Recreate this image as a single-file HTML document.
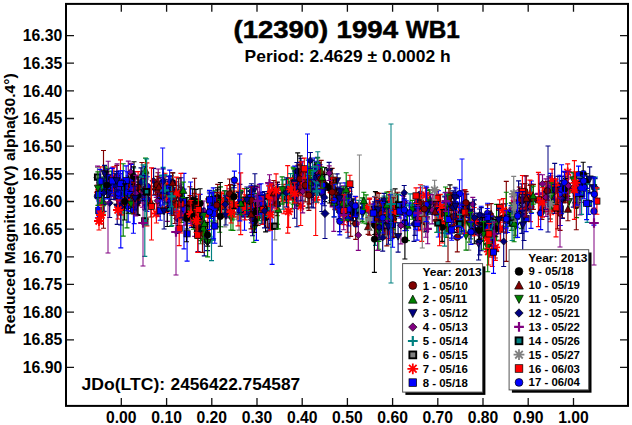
<!DOCTYPE html>
<html><head><meta charset="utf-8"><style>
html,body{margin:0;padding:0;background:#fff;width:632px;height:425px;overflow:hidden}
svg{display:block}
</style></head><body>
<svg width="632" height="425" viewBox="0 0 632 425">
<rect width="632" height="425" fill="#fff"/>
<g><path d="M103.8 181.0V201.4M101.3 181.0h5M101.3 201.4h5" stroke="#800080" stroke-width="1.15" fill="none"/>
<path d="M103.8 186.8L107.3 190.3L103.8 193.8L100.3 190.3Z" fill="#800080" stroke="#000" stroke-width="0.7"/>
<path d="M182.6 202.5V220.1M180.1 202.5h5M180.1 220.1h5" stroke="#000080" stroke-width="1.15" fill="none"/>
<path d="M182.6 208.4L186.1 211.9L182.6 215.4L179.1 211.9Z" fill="#000080" stroke="#000" stroke-width="0.7"/>
<path d="M102.6 178.6V194.0M100.1 178.6h5M100.1 194.0h5" stroke="#808080" stroke-width="1.15" fill="none"/>
<path d="M97.9 185.8L107.3 185.8M99.3 182.4L105.9 189.1M102.6 181.1L102.6 190.5M105.9 182.4L99.3 189.1" stroke="#808080" stroke-width="1.8" fill="none"/>
<path d="M491.1 213.5V229.2M488.6 213.5h5M488.6 229.2h5" stroke="#800000" stroke-width="1.15" fill="none"/>
<circle cx="491.1" cy="220.7" r="3.2" fill="#800000" stroke="#000" stroke-width="0.7"/>
<path d="M302.6 175.1V200.2M300.1 175.1h5M300.1 200.2h5" stroke="#008080" stroke-width="1.15" fill="none"/>
<path d="M298.4 186.2H306.8M302.6 182.0V190.4" stroke="#008080" stroke-width="2.2" fill="none"/>
<path d="M249.4 191.1V203.7M246.9 191.1h5M246.9 203.7h5" stroke="#000080" stroke-width="1.15" fill="none"/>
<path d="M249.4 201.1L253.0 194.4L245.8 194.4Z" fill="#000080" stroke="#000" stroke-width="0.7"/>
<path d="M580.0 178.4V214.8M577.5 178.4h5M577.5 214.8h5" stroke="#800080" stroke-width="1.15" fill="none"/>
<path d="M580.0 193.8L583.5 197.3L580.0 200.8L576.5 197.3Z" fill="#800080" stroke="#000" stroke-width="0.7"/>
<path d="M530.5 184.5V204.7M528.0 184.5h5M528.0 204.7h5" stroke="#008000" stroke-width="1.15" fill="none"/>
<path d="M530.5 190.6L534.1 197.3L526.9 197.3Z" fill="#008000" stroke="#000" stroke-width="0.7"/>
<path d="M456.6 206.2V232.3M454.1 206.2h5M454.1 232.3h5" stroke="#000000" stroke-width="1.15" fill="none"/>
<circle cx="456.6" cy="220.2" r="3.2" fill="#000000" stroke="#000" stroke-width="0.7"/>
<path d="M98.8 200.8V220.7M96.3 200.8h5M96.3 220.7h5" stroke="#0000ff" stroke-width="1.15" fill="none"/>
<rect x="95.7" y="207.6" width="6.2" height="6.2" fill="#0000ff" stroke="#000" stroke-width="0.7"/>
<path d="M100.2 166.9V201.0M97.7 166.9h5M97.7 201.0h5" stroke="#ff0000" stroke-width="1.15" fill="none"/>
<path d="M95.5 185.5L104.9 185.5M96.8 182.1L103.5 188.8M100.2 180.8L100.2 190.2M103.5 182.1L96.8 188.8" stroke="#ff0000" stroke-width="1.8" fill="none"/>
<path d="M146.9 188.8V211.3M144.4 188.8h5M144.4 211.3h5" stroke="#0000ff" stroke-width="1.15" fill="none"/>
<rect x="143.8" y="196.9" width="6.2" height="6.2" fill="#0000ff" stroke="#000" stroke-width="0.7"/>
<path d="M415.0 203.5V235.4M412.5 203.5h5M412.5 235.4h5" stroke="#000080" stroke-width="1.15" fill="none"/>
<path d="M415.0 223.0L418.6 216.3L411.4 216.3Z" fill="#000080" stroke="#000" stroke-width="0.7"/>
<path d="M461.7 193.9V231.5M459.2 193.9h5M459.2 231.5h5" stroke="#0000ff" stroke-width="1.15" fill="none"/>
<circle cx="461.7" cy="213.7" r="3.2" fill="#0000ff" stroke="#000" stroke-width="0.7"/>
<path d="M530.4 192.7V221.6M527.9 192.7h5M527.9 221.6h5" stroke="#ff0000" stroke-width="1.15" fill="none"/>
<rect x="527.3" y="202.5" width="6.2" height="6.2" fill="#ff0000" stroke="#000" stroke-width="0.7"/>
<path d="M557.8 176.4V199.9M555.3 176.4h5M555.3 199.9h5" stroke="#000080" stroke-width="1.15" fill="none"/>
<path d="M557.8 191.8L561.4 185.1L554.2 185.1Z" fill="#000080" stroke="#000" stroke-width="0.7"/>
<path d="M518.6 180.8V212.3M516.1 180.8h5M516.1 212.3h5" stroke="#000080" stroke-width="1.15" fill="none"/>
<path d="M518.6 191.2L522.1 194.7L518.6 198.2L515.1 194.7Z" fill="#000080" stroke="#000" stroke-width="0.7"/>
<path d="M450.0 184.8V206.3M447.5 184.8h5M447.5 206.3h5" stroke="#000000" stroke-width="1.15" fill="none"/>
<circle cx="450.0" cy="196.3" r="3.2" fill="#000000" stroke="#000" stroke-width="0.7"/>
<path d="M474.3 213.9V234.3M471.8 213.9h5M471.8 234.3h5" stroke="#000080" stroke-width="1.15" fill="none"/>
<path d="M474.3 220.8L477.8 224.3L474.3 227.8L470.8 224.3Z" fill="#000080" stroke="#000" stroke-width="0.7"/>
<path d="M369.6 208.7V235.2M367.1 208.7h5M367.1 235.2h5" stroke="#800000" stroke-width="1.15" fill="none"/>
<path d="M369.6 218.1L373.2 224.8L366.0 224.8Z" fill="#800000" stroke="#000" stroke-width="0.7"/>
<path d="M521.3 196.5V228.6M518.8 196.5h5M518.8 228.6h5" stroke="#008000" stroke-width="1.15" fill="none"/>
<path d="M521.3 209.8L524.9 216.5L517.7 216.5Z" fill="#008000" stroke="#000" stroke-width="0.7"/>
<path d="M232.0 187.2V209.7M229.5 187.2h5M229.5 209.7h5" stroke="#008000" stroke-width="1.15" fill="none"/>
<path d="M232.0 201.8L235.6 195.1L228.4 195.1Z" fill="#008000" stroke="#000" stroke-width="0.7"/>
<path d="M581.5 177.8V202.3M579.0 177.8h5M579.0 202.3h5" stroke="#800080" stroke-width="1.15" fill="none"/>
<path d="M581.5 185.3L585.0 188.8L581.5 192.3L578.0 188.8Z" fill="#800080" stroke="#000" stroke-width="0.7"/>
<path d="M543.0 187.0V212.9M540.5 187.0h5M540.5 212.9h5" stroke="#008000" stroke-width="1.15" fill="none"/>
<path d="M543.0 203.7L546.6 197.0L539.4 197.0Z" fill="#008000" stroke="#000" stroke-width="0.7"/>
<path d="M386.3 202.3V219.3M383.8 202.3h5M383.8 219.3h5" stroke="#0000ff" stroke-width="1.15" fill="none"/>
<circle cx="386.3" cy="210.7" r="3.2" fill="#0000ff" stroke="#000" stroke-width="0.7"/>
<path d="M383.1 204.1V227.9M380.6 204.1h5M380.6 227.9h5" stroke="#008000" stroke-width="1.15" fill="none"/>
<path d="M383.1 212.7L386.7 219.4L379.5 219.4Z" fill="#008000" stroke="#000" stroke-width="0.7"/>
<path d="M127.0 189.2V227.9M124.5 189.2h5M124.5 227.9h5" stroke="#008000" stroke-width="1.15" fill="none"/>
<path d="M127.0 211.4L130.6 204.7L123.4 204.7Z" fill="#008000" stroke="#000" stroke-width="0.7"/>
<path d="M505.5 203.7V233.2M503.0 203.7h5M503.0 233.2h5" stroke="#0000ff" stroke-width="1.15" fill="none"/>
<circle cx="505.5" cy="218.9" r="3.2" fill="#0000ff" stroke="#000" stroke-width="0.7"/>
<path d="M207.8 199.1V230.3M205.3 199.1h5M205.3 230.3h5" stroke="#ff0000" stroke-width="1.15" fill="none"/>
<rect x="204.7" y="211.0" width="6.2" height="6.2" fill="#ff0000" stroke="#000" stroke-width="0.7"/>
<path d="M382.4 200.2V213.4M379.9 200.2h5M379.9 213.4h5" stroke="#0000ff" stroke-width="1.15" fill="none"/>
<circle cx="382.4" cy="206.4" r="3.2" fill="#0000ff" stroke="#000" stroke-width="0.7"/>
<path d="M350.7 201.4V236.3M348.2 201.4h5M348.2 236.3h5" stroke="#800000" stroke-width="1.15" fill="none"/>
<circle cx="350.7" cy="216.7" r="3.2" fill="#800000" stroke="#000" stroke-width="0.7"/>
<path d="M200.5 217.8V240.6M198.0 217.8h5M198.0 240.6h5" stroke="#008000" stroke-width="1.15" fill="none"/>
<path d="M200.5 225.9L204.1 232.6L196.9 232.6Z" fill="#008000" stroke="#000" stroke-width="0.7"/>
<path d="M451.3 192.7V217.7M448.8 192.7h5M448.8 217.7h5" stroke="#800000" stroke-width="1.15" fill="none"/>
<circle cx="451.3" cy="204.3" r="3.2" fill="#800000" stroke="#000" stroke-width="0.7"/>
<path d="M258.9 194.0V213.2M256.4 194.0h5M256.4 213.2h5" stroke="#800000" stroke-width="1.15" fill="none"/>
<circle cx="258.9" cy="204.2" r="3.2" fill="#800000" stroke="#000" stroke-width="0.7"/>
<path d="M576.6 175.4V217.6M574.1 175.4h5M574.1 217.6h5" stroke="#008000" stroke-width="1.15" fill="none"/>
<path d="M576.6 202.5L580.2 195.8L573.0 195.8Z" fill="#008000" stroke="#000" stroke-width="0.7"/>
<path d="M341.2 188.4V210.8M338.7 188.4h5M338.7 210.8h5" stroke="#0000ff" stroke-width="1.15" fill="none"/>
<rect x="338.1" y="196.8" width="6.2" height="6.2" fill="#0000ff" stroke="#000" stroke-width="0.7"/>
<path d="M550.8 175.9V204.8M548.3 175.9h5M548.3 204.8h5" stroke="#000080" stroke-width="1.15" fill="none"/>
<path d="M550.8 193.3L554.4 186.6L547.2 186.6Z" fill="#000080" stroke="#000" stroke-width="0.7"/>
<path d="M293.2 167.0V190.4M290.7 167.0h5M290.7 190.4h5" stroke="#008000" stroke-width="1.15" fill="none"/>
<path d="M293.2 175.4L296.8 182.1L289.6 182.1Z" fill="#008000" stroke="#000" stroke-width="0.7"/>
<path d="M298.8 172.4V203.3M296.3 172.4h5M296.3 203.3h5" stroke="#800080" stroke-width="1.15" fill="none"/>
<path d="M298.8 183.8L302.3 187.3L298.8 190.8L295.3 187.3Z" fill="#800080" stroke="#000" stroke-width="0.7"/>
<path d="M444.5 196.0V225.3M442.0 196.0h5M442.0 225.3h5" stroke="#008080" stroke-width="1.15" fill="none"/>
<rect x="441.8" y="207.2" width="5.4" height="5.4" fill="#008080" stroke="#000" stroke-width="1.9"/>
<path d="M445.1 192.6V227.3M442.6 192.6h5M442.6 227.3h5" stroke="#0000ff" stroke-width="1.15" fill="none"/>
<circle cx="445.1" cy="211.0" r="3.2" fill="#0000ff" stroke="#000" stroke-width="0.7"/>
<path d="M137.7 187.9V214.5M135.2 187.9h5M135.2 214.5h5" stroke="#800000" stroke-width="1.15" fill="none"/>
<circle cx="137.7" cy="201.8" r="3.2" fill="#800000" stroke="#000" stroke-width="0.7"/>
<path d="M277.2 189.9V215.6M274.7 189.9h5M274.7 215.6h5" stroke="#800000" stroke-width="1.15" fill="none"/>
<path d="M277.2 199.6L280.8 206.3L273.6 206.3Z" fill="#800000" stroke="#000" stroke-width="0.7"/>
<path d="M189.9 186.7V222.0M187.4 186.7h5M187.4 222.0h5" stroke="#800000" stroke-width="1.15" fill="none"/>
<circle cx="189.9" cy="204.6" r="3.2" fill="#800000" stroke="#000" stroke-width="0.7"/>
<path d="M116.8 165.3V187.6M114.3 165.3h5M114.3 187.6h5" stroke="#800000" stroke-width="1.15" fill="none"/>
<circle cx="116.8" cy="176.6" r="3.2" fill="#800000" stroke="#000" stroke-width="0.7"/>
<path d="M146.3 188.4V219.1M143.8 188.4h5M143.8 219.1h5" stroke="#008000" stroke-width="1.15" fill="none"/>
<path d="M146.3 199.2L149.9 205.9L142.7 205.9Z" fill="#008000" stroke="#000" stroke-width="0.7"/>
<path d="M135.1 171.6V206.5M132.6 171.6h5M132.6 206.5h5" stroke="#800080" stroke-width="1.15" fill="none"/>
<path d="M135.1 184.5L138.6 188.0L135.1 191.5L131.6 188.0Z" fill="#800080" stroke="#000" stroke-width="0.7"/>
<path d="M296.9 171.1V195.2M294.4 171.1h5M294.4 195.2h5" stroke="#008000" stroke-width="1.15" fill="none"/>
<path d="M296.9 179.3L300.5 186.0L293.3 186.0Z" fill="#008000" stroke="#000" stroke-width="0.7"/>
<path d="M420.3 205.3V229.6M417.8 205.3h5M417.8 229.6h5" stroke="#000080" stroke-width="1.15" fill="none"/>
<path d="M420.3 221.7L423.9 215.0L416.7 215.0Z" fill="#000080" stroke="#000" stroke-width="0.7"/>
<path d="M519.3 189.9V211.1M516.8 189.9h5M516.8 211.1h5" stroke="#800080" stroke-width="1.15" fill="none"/>
<path d="M515.1 200.3H523.5M519.3 196.1V204.5" stroke="#800080" stroke-width="2.2" fill="none"/>
<path d="M338.1 188.6V203.6M335.6 188.6h5M335.6 203.6h5" stroke="#800000" stroke-width="1.15" fill="none"/>
<circle cx="338.1" cy="195.3" r="3.2" fill="#800000" stroke="#000" stroke-width="0.7"/>
<path d="M414.0 205.3V241.4M411.5 205.3h5M411.5 241.4h5" stroke="#000080" stroke-width="1.15" fill="none"/>
<path d="M414.0 220.4L417.5 223.9L414.0 227.4L410.5 223.9Z" fill="#000080" stroke="#000" stroke-width="0.7"/>
<path d="M158.0 172.7V190.9M155.5 172.7h5M155.5 190.9h5" stroke="#800000" stroke-width="1.15" fill="none"/>
<path d="M158.0 178.6L161.6 185.3L154.4 185.3Z" fill="#800000" stroke="#000" stroke-width="0.7"/>
<path d="M269.8 200.7V227.9M267.3 200.7h5M267.3 227.9h5" stroke="#000080" stroke-width="1.15" fill="none"/>
<path d="M269.8 209.2L273.3 212.7L269.8 216.2L266.3 212.7Z" fill="#000080" stroke="#000" stroke-width="0.7"/>
<path d="M111.0 181.1V199.4M108.5 181.1h5M108.5 199.4h5" stroke="#000080" stroke-width="1.15" fill="none"/>
<path d="M111.0 193.8L114.6 187.1L107.4 187.1Z" fill="#000080" stroke="#000" stroke-width="0.7"/>
<path d="M133.7 168.0V189.8M131.2 168.0h5M131.2 189.8h5" stroke="#008080" stroke-width="1.15" fill="none"/>
<path d="M129.5 178.5H137.9M133.7 174.3V182.7" stroke="#008080" stroke-width="2.2" fill="none"/>
<path d="M337.1 173.9V187.8M334.6 173.9h5M334.6 187.8h5" stroke="#000080" stroke-width="1.15" fill="none"/>
<path d="M337.1 184.4L340.7 177.7L333.5 177.7Z" fill="#000080" stroke="#000" stroke-width="0.7"/>
<path d="M369.3 199.3V222.2M366.8 199.3h5M366.8 222.2h5" stroke="#800080" stroke-width="1.15" fill="none"/>
<path d="M369.3 208.0L372.8 211.5L369.3 215.0L365.8 211.5Z" fill="#800080" stroke="#000" stroke-width="0.7"/>
<path d="M268.9 196.8V219.5M266.4 196.8h5M266.4 219.5h5" stroke="#0000ff" stroke-width="1.15" fill="none"/>
<rect x="265.8" y="204.6" width="6.2" height="6.2" fill="#0000ff" stroke="#000" stroke-width="0.7"/>
<path d="M150.9 186.1V217.0M148.4 186.1h5M148.4 217.0h5" stroke="#800000" stroke-width="1.15" fill="none"/>
<path d="M150.9 198.3L154.5 205.0L147.3 205.0Z" fill="#800000" stroke="#000" stroke-width="0.7"/>
<path d="M128.2 186.3V222.1M125.7 186.3h5M125.7 222.1h5" stroke="#0000ff" stroke-width="1.15" fill="none"/>
<circle cx="128.2" cy="205.9" r="3.2" fill="#0000ff" stroke="#000" stroke-width="0.7"/>
<path d="M333.8 179.5V231.3M331.3 179.5h5M331.3 231.3h5" stroke="#800080" stroke-width="1.15" fill="none"/>
<path d="M329.6 206.3H338.0M333.8 202.1V210.5" stroke="#800080" stroke-width="2.2" fill="none"/>
<path d="M517.6 203.0V218.1M515.1 203.0h5M515.1 218.1h5" stroke="#ff0000" stroke-width="1.15" fill="none"/>
<path d="M512.9 209.9L522.3 209.9M514.2 206.6L520.9 213.2M517.6 205.2L517.6 214.6M520.9 206.6L514.2 213.2" stroke="#ff0000" stroke-width="1.8" fill="none"/>
<path d="M300.9 162.8V182.8M298.4 162.8h5M298.4 182.8h5" stroke="#800080" stroke-width="1.15" fill="none"/>
<path d="M296.7 172.5H305.1M300.9 168.3V176.7" stroke="#800080" stroke-width="2.2" fill="none"/>
<path d="M450.0 192.9V219.2M447.5 192.9h5M447.5 219.2h5" stroke="#800000" stroke-width="1.15" fill="none"/>
<path d="M450.0 203.8L453.6 210.5L446.4 210.5Z" fill="#800000" stroke="#000" stroke-width="0.7"/>
<path d="M304.1 172.6V189.3M301.6 172.6h5M301.6 189.3h5" stroke="#0000ff" stroke-width="1.15" fill="none"/>
<circle cx="304.1" cy="181.7" r="3.2" fill="#0000ff" stroke="#000" stroke-width="0.7"/>
<path d="M127.3 179.7V203.4M124.8 179.7h5M124.8 203.4h5" stroke="#000080" stroke-width="1.15" fill="none"/>
<path d="M127.3 194.0L130.9 187.3L123.7 187.3Z" fill="#000080" stroke="#000" stroke-width="0.7"/>
<path d="M455.6 196.7V210.8M453.1 196.7h5M453.1 210.8h5" stroke="#0000ff" stroke-width="1.15" fill="none"/>
<circle cx="455.6" cy="204.3" r="3.2" fill="#0000ff" stroke="#000" stroke-width="0.7"/>
<path d="M268.0 182.6V230.9M265.5 182.6h5M265.5 230.9h5" stroke="#000080" stroke-width="1.15" fill="none"/>
<path d="M268.0 210.4L271.6 203.7L264.4 203.7Z" fill="#000080" stroke="#000" stroke-width="0.7"/>
<path d="M386.8 219.7V245.9M384.3 219.7h5M384.3 245.9h5" stroke="#800000" stroke-width="1.15" fill="none"/>
<circle cx="386.8" cy="232.6" r="3.2" fill="#800000" stroke="#000" stroke-width="0.7"/>
<path d="M233.0 192.3V230.3M230.5 192.3h5M230.5 230.3h5" stroke="#008000" stroke-width="1.15" fill="none"/>
<path d="M233.0 208.0L236.6 214.7L229.4 214.7Z" fill="#008000" stroke="#000" stroke-width="0.7"/>
<path d="M491.1 203.6V224.9M488.6 203.6h5M488.6 224.9h5" stroke="#800000" stroke-width="1.15" fill="none"/>
<path d="M491.1 210.2L494.7 216.9L487.5 216.9Z" fill="#800000" stroke="#000" stroke-width="0.7"/>
<path d="M558.4 190.2V213.5M555.9 190.2h5M555.9 213.5h5" stroke="#ff0000" stroke-width="1.15" fill="none"/>
<path d="M553.7 200.7L563.1 200.7M555.1 197.3L561.8 204.0M558.4 196.0L558.4 205.4M561.8 197.3L555.1 204.0" stroke="#ff0000" stroke-width="1.8" fill="none"/>
<path d="M300.7 187.6V225.5M298.2 187.6h5M298.2 225.5h5" stroke="#ff0000" stroke-width="1.15" fill="none"/>
<path d="M296.0 206.2L305.4 206.2M297.4 202.9L304.0 209.5M300.7 201.5L300.7 210.9M304.0 202.9L297.4 209.5" stroke="#ff0000" stroke-width="1.8" fill="none"/>
<path d="M200.6 200.7V243.7M198.1 200.7h5M198.1 243.7h5" stroke="#008000" stroke-width="1.15" fill="none"/>
<path d="M200.6 217.9L204.2 224.6L197.0 224.6Z" fill="#008000" stroke="#000" stroke-width="0.7"/>
<path d="M526.1 206.2V231.6M523.6 206.2h5M523.6 231.6h5" stroke="#0000ff" stroke-width="1.15" fill="none"/>
<rect x="523.0" y="215.3" width="6.2" height="6.2" fill="#0000ff" stroke="#000" stroke-width="0.7"/>
<path d="M487.5 203.2V225.1M485.0 203.2h5M485.0 225.1h5" stroke="#0000ff" stroke-width="1.15" fill="none"/>
<circle cx="487.5" cy="213.4" r="3.2" fill="#0000ff" stroke="#000" stroke-width="0.7"/>
<path d="M267.3 196.8V227.3M264.8 196.8h5M264.8 227.3h5" stroke="#800000" stroke-width="1.15" fill="none"/>
<circle cx="267.3" cy="213.6" r="3.2" fill="#800000" stroke="#000" stroke-width="0.7"/>
<path d="M348.6 197.6V225.8M346.1 197.6h5M346.1 225.8h5" stroke="#0000ff" stroke-width="1.15" fill="none"/>
<circle cx="348.6" cy="211.8" r="3.2" fill="#0000ff" stroke="#000" stroke-width="0.7"/>
<path d="M379.1 193.3V210.3M376.6 193.3h5M376.6 210.3h5" stroke="#800000" stroke-width="1.15" fill="none"/>
<path d="M379.1 198.0L382.7 204.7L375.5 204.7Z" fill="#800000" stroke="#000" stroke-width="0.7"/>
<path d="M463.6 193.1V216.3M461.1 193.1h5M461.1 216.3h5" stroke="#0000ff" stroke-width="1.15" fill="none"/>
<circle cx="463.6" cy="204.6" r="3.2" fill="#0000ff" stroke="#000" stroke-width="0.7"/>
<path d="M384.0 214.6V238.7M381.5 214.6h5M381.5 238.7h5" stroke="#800000" stroke-width="1.15" fill="none"/>
<path d="M384.0 223.4L387.6 230.1L380.4 230.1Z" fill="#800000" stroke="#000" stroke-width="0.7"/>
<path d="M446.2 212.3V237.4M443.7 212.3h5M443.7 237.4h5" stroke="#008000" stroke-width="1.15" fill="none"/>
<path d="M446.2 227.8L449.8 221.1L442.6 221.1Z" fill="#008000" stroke="#000" stroke-width="0.7"/>
<path d="M308.0 169.6V207.8M305.5 169.6h5M305.5 207.8h5" stroke="#000000" stroke-width="1.15" fill="none"/>
<circle cx="308.0" cy="186.6" r="3.2" fill="#000000" stroke="#000" stroke-width="0.7"/>
<path d="M458.0 212.1V231.5M455.5 212.1h5M455.5 231.5h5" stroke="#800080" stroke-width="1.15" fill="none"/>
<path d="M458.0 219.1L461.5 222.6L458.0 226.1L454.5 222.6Z" fill="#800080" stroke="#000" stroke-width="0.7"/>
<path d="M293.8 180.7V198.8M291.3 180.7h5M291.3 198.8h5" stroke="#0000ff" stroke-width="1.15" fill="none"/>
<rect x="290.7" y="186.0" width="6.2" height="6.2" fill="#0000ff" stroke="#000" stroke-width="0.7"/>
<path d="M357.3 202.9V224.1M354.8 202.9h5M354.8 224.1h5" stroke="#800080" stroke-width="1.15" fill="none"/>
<path d="M353.1 212.4H361.5M357.3 208.2V216.6" stroke="#800080" stroke-width="2.2" fill="none"/>
<path d="M404.3 205.2V220.6M401.8 205.2h5M401.8 220.6h5" stroke="#0000ff" stroke-width="1.15" fill="none"/>
<rect x="401.2" y="209.0" width="6.2" height="6.2" fill="#0000ff" stroke="#000" stroke-width="0.7"/>
<path d="M546.2 181.6V199.3M543.7 181.6h5M543.7 199.3h5" stroke="#ff0000" stroke-width="1.15" fill="none"/>
<path d="M541.5 190.5L550.9 190.5M542.9 187.2L549.5 193.8M546.2 185.8L546.2 195.2M549.5 187.2L542.9 193.8" stroke="#ff0000" stroke-width="1.8" fill="none"/>
<path d="M446.7 194.1V216.4M444.2 194.1h5M444.2 216.4h5" stroke="#000080" stroke-width="1.15" fill="none"/>
<path d="M446.7 202.1L450.2 205.6L446.7 209.1L443.2 205.6Z" fill="#000080" stroke="#000" stroke-width="0.7"/>
<path d="M392.0 210.7V238.6M389.5 210.7h5M389.5 238.6h5" stroke="#0000ff" stroke-width="1.15" fill="none"/>
<rect x="388.9" y="221.5" width="6.2" height="6.2" fill="#0000ff" stroke="#000" stroke-width="0.7"/>
<path d="M119.1 181.7V214.8M116.6 181.7h5M116.6 214.8h5" stroke="#000000" stroke-width="1.15" fill="none"/>
<circle cx="119.1" cy="199.8" r="3.2" fill="#000000" stroke="#000" stroke-width="0.7"/>
<path d="M111.4 171.1V191.7M108.9 171.1h5M108.9 191.7h5" stroke="#008000" stroke-width="1.15" fill="none"/>
<path d="M111.4 184.5L115.0 177.8L107.8 177.8Z" fill="#008000" stroke="#000" stroke-width="0.7"/>
<path d="M495.4 240.6V258.0M492.9 240.6h5M492.9 258.0h5" stroke="#800000" stroke-width="1.15" fill="none"/>
<path d="M495.4 245.0L499.0 251.7L491.8 251.7Z" fill="#800000" stroke="#000" stroke-width="0.7"/>
<path d="M500.6 217.1V240.3M498.1 217.1h5M498.1 240.3h5" stroke="#000080" stroke-width="1.15" fill="none"/>
<path d="M500.6 232.9L504.2 226.2L497.0 226.2Z" fill="#000080" stroke="#000" stroke-width="0.7"/>
<path d="M181.6 184.0V222.3M179.1 184.0h5M179.1 222.3h5" stroke="#008000" stroke-width="1.15" fill="none"/>
<path d="M181.6 199.6L185.2 206.3L178.0 206.3Z" fill="#008000" stroke="#000" stroke-width="0.7"/>
<path d="M353.1 198.7V223.7M350.6 198.7h5M350.6 223.7h5" stroke="#000000" stroke-width="1.15" fill="none"/>
<circle cx="353.1" cy="212.2" r="3.2" fill="#000000" stroke="#000" stroke-width="0.7"/>
<path d="M163.1 167.3V183.6M160.6 167.3h5M160.6 183.6h5" stroke="#008080" stroke-width="1.15" fill="none"/>
<path d="M158.9 175.7H167.3M163.1 171.5V179.9" stroke="#008080" stroke-width="2.2" fill="none"/>
<path d="M567.7 163.9V182.9M565.2 163.9h5M565.2 182.9h5" stroke="#ff0000" stroke-width="1.15" fill="none"/>
<path d="M563.0 172.2L572.4 172.2M564.3 168.9L571.0 175.6M567.7 167.5L567.7 176.9M571.0 168.9L564.3 175.6" stroke="#ff0000" stroke-width="1.8" fill="none"/>
<path d="M224.8 194.4V226.9M222.3 194.4h5M222.3 226.9h5" stroke="#808080" stroke-width="1.15" fill="none"/>
<path d="M220.1 209.4L229.5 209.4M221.5 206.0L228.1 212.7M224.8 204.7L224.8 214.1M228.1 206.0L221.5 212.7" stroke="#808080" stroke-width="1.8" fill="none"/>
<path d="M531.0 184.0V228.3M528.5 184.0h5M528.5 228.3h5" stroke="#0000ff" stroke-width="1.15" fill="none"/>
<circle cx="531.0" cy="206.8" r="3.2" fill="#0000ff" stroke="#000" stroke-width="0.7"/>
<path d="M170.5 179.8V213.4M168.0 179.8h5M168.0 213.4h5" stroke="#0000ff" stroke-width="1.15" fill="none"/>
<circle cx="170.5" cy="197.2" r="3.2" fill="#0000ff" stroke="#000" stroke-width="0.7"/>
<path d="M481.2 206.2V223.7M478.7 206.2h5M478.7 223.7h5" stroke="#0000ff" stroke-width="1.15" fill="none"/>
<circle cx="481.2" cy="215.9" r="3.2" fill="#0000ff" stroke="#000" stroke-width="0.7"/>
<path d="M121.8 192.2V213.0M119.3 192.2h5M119.3 213.0h5" stroke="#0000ff" stroke-width="1.15" fill="none"/>
<circle cx="121.8" cy="202.9" r="3.2" fill="#0000ff" stroke="#000" stroke-width="0.7"/>
<path d="M406.3 200.9V230.3M403.8 200.9h5M403.8 230.3h5" stroke="#0000ff" stroke-width="1.15" fill="none"/>
<circle cx="406.3" cy="213.8" r="3.2" fill="#0000ff" stroke="#000" stroke-width="0.7"/>
<path d="M407.4 210.9V240.6M404.9 210.9h5M404.9 240.6h5" stroke="#008000" stroke-width="1.15" fill="none"/>
<path d="M407.4 221.6L411.0 228.3L403.8 228.3Z" fill="#008000" stroke="#000" stroke-width="0.7"/>
<path d="M347.3 206.0V232.2M344.8 206.0h5M344.8 232.2h5" stroke="#ff0000" stroke-width="1.15" fill="none"/>
<path d="M342.6 218.3L352.0 218.3M344.0 214.9L350.6 221.6M347.3 213.6L347.3 223.0M350.6 214.9L344.0 221.6" stroke="#ff0000" stroke-width="1.8" fill="none"/>
<path d="M133.2 173.3V189.2M130.7 173.3h5M130.7 189.2h5" stroke="#008080" stroke-width="1.15" fill="none"/>
<path d="M129.0 182.0H137.4M133.2 177.8V186.2" stroke="#008080" stroke-width="2.2" fill="none"/>
<path d="M115.9 178.2V199.8M113.4 178.2h5M113.4 199.8h5" stroke="#800080" stroke-width="1.15" fill="none"/>
<path d="M115.9 185.8L119.4 189.3L115.9 192.8L112.4 189.3Z" fill="#800080" stroke="#000" stroke-width="0.7"/>
<path d="M269.5 174.7V193.1M267.0 174.7h5M267.0 193.1h5" stroke="#800080" stroke-width="1.15" fill="none"/>
<path d="M265.3 183.1H273.7M269.5 178.9V187.3" stroke="#800080" stroke-width="2.2" fill="none"/>
<path d="M251.4 183.7V198.2M248.9 183.7h5M248.9 198.2h5" stroke="#000080" stroke-width="1.15" fill="none"/>
<path d="M251.4 187.4L254.9 190.9L251.4 194.4L247.9 190.9Z" fill="#000080" stroke="#000" stroke-width="0.7"/>
<path d="M491.4 230.7V251.1M488.9 230.7h5M488.9 251.1h5" stroke="#0000ff" stroke-width="1.15" fill="none"/>
<circle cx="491.4" cy="241.0" r="3.2" fill="#0000ff" stroke="#000" stroke-width="0.7"/>
<path d="M291.6 177.7V192.3M289.1 177.7h5M289.1 192.3h5" stroke="#ff0000" stroke-width="1.15" fill="none"/>
<rect x="288.5" y="181.5" width="6.2" height="6.2" fill="#ff0000" stroke="#000" stroke-width="0.7"/>
<path d="M283.8 184.3V213.7M281.3 184.3h5M281.3 213.7h5" stroke="#ff0000" stroke-width="1.15" fill="none"/>
<path d="M279.1 198.5L288.5 198.5M280.4 195.2L287.1 201.8M283.8 193.8L283.8 203.2M287.1 195.2L280.4 201.8" stroke="#ff0000" stroke-width="1.8" fill="none"/>
<path d="M287.7 165.6V233.1M285.2 165.6h5M285.2 233.1h5" stroke="#ff0000" stroke-width="1.15" fill="none"/>
<rect x="284.6" y="193.6" width="6.2" height="6.2" fill="#ff0000" stroke="#000" stroke-width="0.7"/>
<path d="M436.8 211.9V232.3M434.3 211.9h5M434.3 232.3h5" stroke="#008000" stroke-width="1.15" fill="none"/>
<path d="M436.8 226.2L440.4 219.5L433.2 219.5Z" fill="#008000" stroke="#000" stroke-width="0.7"/>
<path d="M442.1 202.3V225.2M439.6 202.3h5M439.6 225.2h5" stroke="#0000ff" stroke-width="1.15" fill="none"/>
<circle cx="442.1" cy="213.3" r="3.2" fill="#0000ff" stroke="#000" stroke-width="0.7"/>
<path d="M128.1 192.5V213.2M125.6 192.5h5M125.6 213.2h5" stroke="#000000" stroke-width="1.15" fill="none"/>
<circle cx="128.1" cy="202.6" r="3.2" fill="#000000" stroke="#000" stroke-width="0.7"/>
<path d="M511.9 203.4V229.2M509.4 203.4h5M509.4 229.2h5" stroke="#808080" stroke-width="1.15" fill="none"/>
<rect x="509.2" y="214.3" width="5.4" height="5.4" fill="#808080" stroke="#000" stroke-width="1.9"/>
<path d="M377.6 202.4V220.4M375.1 202.4h5M375.1 220.4h5" stroke="#0000ff" stroke-width="1.15" fill="none"/>
<circle cx="377.6" cy="211.9" r="3.2" fill="#0000ff" stroke="#000" stroke-width="0.7"/>
<path d="M559.7 175.2V198.5M557.2 175.2h5M557.2 198.5h5" stroke="#0000ff" stroke-width="1.15" fill="none"/>
<circle cx="559.7" cy="188.0" r="3.2" fill="#0000ff" stroke="#000" stroke-width="0.7"/>
<path d="M395.1 188.8V237.3M392.6 188.8h5M392.6 237.3h5" stroke="#000000" stroke-width="1.15" fill="none"/>
<circle cx="395.1" cy="213.8" r="3.2" fill="#000000" stroke="#000" stroke-width="0.7"/>
<path d="M317.3 157.2V195.2M314.8 157.2h5M314.8 195.2h5" stroke="#000080" stroke-width="1.15" fill="none"/>
<path d="M317.3 182.1L320.9 175.4L313.7 175.4Z" fill="#000080" stroke="#000" stroke-width="0.7"/>
<path d="M178.7 185.7V206.7M176.2 185.7h5M176.2 206.7h5" stroke="#000080" stroke-width="1.15" fill="none"/>
<path d="M178.7 199.1L182.3 192.4L175.1 192.4Z" fill="#000080" stroke="#000" stroke-width="0.7"/>
<path d="M516.5 205.5V224.3M514.0 205.5h5M514.0 224.3h5" stroke="#000080" stroke-width="1.15" fill="none"/>
<path d="M516.5 218.1L520.1 211.4L512.9 211.4Z" fill="#000080" stroke="#000" stroke-width="0.7"/>
<path d="M384.1 196.1V215.7M381.6 196.1h5M381.6 215.7h5" stroke="#008080" stroke-width="1.15" fill="none"/>
<rect x="381.4" y="202.3" width="5.4" height="5.4" fill="#008080" stroke="#000" stroke-width="1.9"/>
<path d="M336.4 189.5V210.0M333.9 189.5h5M333.9 210.0h5" stroke="#000000" stroke-width="1.15" fill="none"/>
<circle cx="336.4" cy="200.6" r="3.2" fill="#000000" stroke="#000" stroke-width="0.7"/>
<path d="M171.1 175.6V226.5M168.6 175.6h5M168.6 226.5h5" stroke="#008000" stroke-width="1.15" fill="none"/>
<path d="M171.1 202.5L174.7 195.8L167.5 195.8Z" fill="#008000" stroke="#000" stroke-width="0.7"/>
<path d="M128.3 161.1V195.8M125.8 161.1h5M125.8 195.8h5" stroke="#800080" stroke-width="1.15" fill="none"/>
<path d="M128.3 176.6L131.8 180.1L128.3 183.6L124.8 180.1Z" fill="#800080" stroke="#000" stroke-width="0.7"/>
<path d="M174.2 195.4V212.6M171.7 195.4h5M171.7 212.6h5" stroke="#008000" stroke-width="1.15" fill="none"/>
<path d="M174.2 207.3L177.8 200.6L170.6 200.6Z" fill="#008000" stroke="#000" stroke-width="0.7"/>
<path d="M419.4 199.7V215.8M416.9 199.7h5M416.9 215.8h5" stroke="#008000" stroke-width="1.15" fill="none"/>
<path d="M419.4 210.7L423.0 204.0L415.8 204.0Z" fill="#008000" stroke="#000" stroke-width="0.7"/>
<path d="M321.6 166.7V194.1M319.1 166.7h5M319.1 194.1h5" stroke="#800080" stroke-width="1.15" fill="none"/>
<path d="M321.6 176.4L325.1 179.9L321.6 183.4L318.1 179.9Z" fill="#800080" stroke="#000" stroke-width="0.7"/>
<path d="M421.7 192.2V241.4M419.2 192.2h5M419.2 241.4h5" stroke="#ff0000" stroke-width="1.15" fill="none"/>
<path d="M417.0 217.7L426.4 217.7M418.4 214.4L425.1 221.0M421.7 213.0L421.7 222.4M425.1 214.4L418.4 221.0" stroke="#ff0000" stroke-width="1.8" fill="none"/>
<path d="M511.0 205.6V220.0M508.5 205.6h5M508.5 220.0h5" stroke="#0000ff" stroke-width="1.15" fill="none"/>
<circle cx="511.0" cy="212.6" r="3.2" fill="#0000ff" stroke="#000" stroke-width="0.7"/>
<path d="M562.4 181.1V217.9M559.9 181.1h5M559.9 217.9h5" stroke="#800000" stroke-width="1.15" fill="none"/>
<path d="M562.4 196.2L566.0 202.9L558.8 202.9Z" fill="#800000" stroke="#000" stroke-width="0.7"/>
<path d="M120.8 173.6V247.9M118.3 173.6h5M118.3 247.9h5" stroke="#0000ff" stroke-width="1.15" fill="none"/>
<circle cx="120.8" cy="208.3" r="3.2" fill="#0000ff" stroke="#000" stroke-width="0.7"/>
<path d="M567.1 179.1V200.7M564.6 179.1h5M564.6 200.7h5" stroke="#ff0000" stroke-width="1.15" fill="none"/>
<rect x="564.0" y="187.1" width="6.2" height="6.2" fill="#ff0000" stroke="#000" stroke-width="0.7"/>
<path d="M404.0 194.5V208.7M401.5 194.5h5M401.5 208.7h5" stroke="#800080" stroke-width="1.15" fill="none"/>
<path d="M404.0 198.8L407.5 202.3L404.0 205.8L400.5 202.3Z" fill="#800080" stroke="#000" stroke-width="0.7"/>
<path d="M595.1 178.6V195.5M592.6 178.6h5M592.6 195.5h5" stroke="#000080" stroke-width="1.15" fill="none"/>
<path d="M595.1 183.9L598.6 187.4L595.1 190.9L591.6 187.4Z" fill="#000080" stroke="#000" stroke-width="0.7"/>
<path d="M167.4 179.3V221.3M164.9 179.3h5M164.9 221.3h5" stroke="#800080" stroke-width="1.15" fill="none"/>
<path d="M167.4 197.5L170.9 201.0L167.4 204.5L163.9 201.0Z" fill="#800080" stroke="#000" stroke-width="0.7"/>
<path d="M229.4 188.7V217.9M226.9 188.7h5M226.9 217.9h5" stroke="#800080" stroke-width="1.15" fill="none"/>
<path d="M225.2 204.0H233.6M229.4 199.8V208.2" stroke="#800080" stroke-width="2.2" fill="none"/>
<path d="M514.2 194.3V211.4M511.7 194.3h5M511.7 211.4h5" stroke="#ff0000" stroke-width="1.15" fill="none"/>
<path d="M509.5 203.4L518.9 203.4M510.9 200.1L517.6 206.7M514.2 198.7L514.2 208.1M517.6 200.1L510.9 206.7" stroke="#ff0000" stroke-width="1.8" fill="none"/>
<path d="M256.4 196.8V240.4M253.9 196.8h5M253.9 240.4h5" stroke="#0000ff" stroke-width="1.15" fill="none"/>
<rect x="253.3" y="214.1" width="6.2" height="6.2" fill="#0000ff" stroke="#000" stroke-width="0.7"/>
<path d="M395.9 193.8V222.7M393.4 193.8h5M393.4 222.7h5" stroke="#008000" stroke-width="1.15" fill="none"/>
<path d="M395.9 204.1L399.5 210.8L392.3 210.8Z" fill="#008000" stroke="#000" stroke-width="0.7"/>
<path d="M378.8 208.0V249.2M376.3 208.0h5M376.3 249.2h5" stroke="#008000" stroke-width="1.15" fill="none"/>
<path d="M378.8 231.9L382.4 225.2L375.2 225.2Z" fill="#008000" stroke="#000" stroke-width="0.7"/>
<path d="M195.3 196.2V219.3M192.8 196.2h5M192.8 219.3h5" stroke="#000080" stroke-width="1.15" fill="none"/>
<path d="M195.3 212.1L198.9 205.4L191.7 205.4Z" fill="#000080" stroke="#000" stroke-width="0.7"/>
<path d="M159.7 187.3V206.0M157.2 187.3h5M157.2 206.0h5" stroke="#000000" stroke-width="1.15" fill="none"/>
<circle cx="159.7" cy="196.9" r="3.2" fill="#000000" stroke="#000" stroke-width="0.7"/>
<path d="M239.1 203.0V230.1M236.6 203.0h5M236.6 230.1h5" stroke="#808080" stroke-width="1.15" fill="none"/>
<path d="M234.4 216.7L243.8 216.7M235.7 213.4L242.4 220.1M239.1 212.0L239.1 221.4M242.4 213.4L235.7 220.1" stroke="#808080" stroke-width="1.8" fill="none"/>
<path d="M425.8 206.6V237.2M423.3 206.6h5M423.3 237.2h5" stroke="#800080" stroke-width="1.15" fill="none"/>
<path d="M425.8 218.9L429.3 222.4L425.8 225.9L422.3 222.4Z" fill="#800080" stroke="#000" stroke-width="0.7"/>
<path d="M158.2 169.0V216.4M155.7 169.0h5M155.7 216.4h5" stroke="#800080" stroke-width="1.15" fill="none"/>
<path d="M158.2 190.8L161.7 194.3L158.2 197.8L154.7 194.3Z" fill="#800080" stroke="#000" stroke-width="0.7"/>
<path d="M586.7 173.7V190.8M584.2 173.7h5M584.2 190.8h5" stroke="#000000" stroke-width="1.15" fill="none"/>
<circle cx="586.7" cy="181.6" r="3.2" fill="#000000" stroke="#000" stroke-width="0.7"/>
<path d="M486.5 217.1V243.4M484.0 217.1h5M484.0 243.4h5" stroke="#ff0000" stroke-width="1.15" fill="none"/>
<path d="M481.8 231.1L491.2 231.1M483.2 227.8L489.9 234.5M486.5 226.4L486.5 235.8M489.9 227.8L483.2 234.5" stroke="#ff0000" stroke-width="1.8" fill="none"/>
<path d="M138.6 179.0V201.0M136.1 179.0h5M136.1 201.0h5" stroke="#000080" stroke-width="1.15" fill="none"/>
<path d="M138.6 193.7L142.2 187.0L135.0 187.0Z" fill="#000080" stroke="#000" stroke-width="0.7"/>
<path d="M448.8 188.5V207.3M446.3 188.5h5M446.3 207.3h5" stroke="#800000" stroke-width="1.15" fill="none"/>
<circle cx="448.8" cy="197.5" r="3.2" fill="#800000" stroke="#000" stroke-width="0.7"/>
<path d="M392.6 204.2V247.2M390.1 204.2h5M390.1 247.2h5" stroke="#0000ff" stroke-width="1.15" fill="none"/>
<circle cx="392.6" cy="225.0" r="3.2" fill="#0000ff" stroke="#000" stroke-width="0.7"/>
<path d="M340.5 192.8V216.7M338.0 192.8h5M338.0 216.7h5" stroke="#ff0000" stroke-width="1.15" fill="none"/>
<rect x="337.4" y="201.0" width="6.2" height="6.2" fill="#ff0000" stroke="#000" stroke-width="0.7"/>
<path d="M595.4 177.1V201.7M592.9 177.1h5M592.9 201.7h5" stroke="#008080" stroke-width="1.15" fill="none"/>
<path d="M591.2 188.8H599.6M595.4 184.6V193.0" stroke="#008080" stroke-width="2.2" fill="none"/>
<path d="M496.6 204.3V240.4M494.1 204.3h5M494.1 240.4h5" stroke="#008000" stroke-width="1.15" fill="none"/>
<path d="M496.6 218.6L500.2 225.3L493.0 225.3Z" fill="#008000" stroke="#000" stroke-width="0.7"/>
<path d="M145.2 189.0V210.2M142.7 189.0h5M142.7 210.2h5" stroke="#000080" stroke-width="1.15" fill="none"/>
<path d="M145.2 202.5L148.8 195.8L141.6 195.8Z" fill="#000080" stroke="#000" stroke-width="0.7"/>
<path d="M569.0 190.8V210.3M566.5 190.8h5M566.5 210.3h5" stroke="#008000" stroke-width="1.15" fill="none"/>
<path d="M569.0 205.2L572.6 198.5L565.4 198.5Z" fill="#008000" stroke="#000" stroke-width="0.7"/>
<path d="M104.2 174.0V211.4M101.7 174.0h5M101.7 211.4h5" stroke="#000080" stroke-width="1.15" fill="none"/>
<path d="M104.2 196.0L107.8 189.3L100.6 189.3Z" fill="#000080" stroke="#000" stroke-width="0.7"/>
<path d="M474.3 216.4V243.7M471.8 216.4h5M471.8 243.7h5" stroke="#000000" stroke-width="1.15" fill="none"/>
<circle cx="474.3" cy="229.9" r="3.2" fill="#000000" stroke="#000" stroke-width="0.7"/>
<path d="M463.6 209.3V230.6M461.1 209.3h5M461.1 230.6h5" stroke="#008000" stroke-width="1.15" fill="none"/>
<path d="M463.6 215.9L467.2 222.6L460.0 222.6Z" fill="#008000" stroke="#000" stroke-width="0.7"/>
<path d="M483.2 216.3V232.7M480.7 216.3h5M480.7 232.7h5" stroke="#800080" stroke-width="1.15" fill="none"/>
<path d="M483.2 221.2L486.7 224.7L483.2 228.2L479.7 224.7Z" fill="#800080" stroke="#000" stroke-width="0.7"/>
<path d="M487.7 222.6V250.3M485.2 222.6h5M485.2 250.3h5" stroke="#800080" stroke-width="1.15" fill="none"/>
<path d="M487.7 233.4L491.2 236.9L487.7 240.4L484.2 236.9Z" fill="#800080" stroke="#000" stroke-width="0.7"/>
<path d="M487.6 204.9V229.7M485.1 204.9h5M485.1 229.7h5" stroke="#800000" stroke-width="1.15" fill="none"/>
<path d="M487.6 213.2L491.2 219.9L484.0 219.9Z" fill="#800000" stroke="#000" stroke-width="0.7"/>
<path d="M376.9 192.6V211.9M374.4 192.6h5M374.4 211.9h5" stroke="#800000" stroke-width="1.15" fill="none"/>
<circle cx="376.9" cy="203.2" r="3.2" fill="#800000" stroke="#000" stroke-width="0.7"/>
<path d="M272.1 196.3V264.3M269.6 196.3h5M269.6 264.3h5" stroke="#0000ff" stroke-width="1.15" fill="none"/>
<rect x="269.0" y="223.3" width="6.2" height="6.2" fill="#0000ff" stroke="#000" stroke-width="0.7"/>
<path d="M375.9 215.0V234.1M373.4 215.0h5M373.4 234.1h5" stroke="#800000" stroke-width="1.15" fill="none"/>
<circle cx="375.9" cy="225.6" r="3.2" fill="#800000" stroke="#000" stroke-width="0.7"/>
<path d="M200.1 194.3V235.3M197.6 194.3h5M197.6 235.3h5" stroke="#0000ff" stroke-width="1.15" fill="none"/>
<circle cx="200.1" cy="215.8" r="3.2" fill="#0000ff" stroke="#000" stroke-width="0.7"/>
<path d="M292.4 184.1V208.9M289.9 184.1h5M289.9 208.9h5" stroke="#008000" stroke-width="1.15" fill="none"/>
<path d="M292.4 200.6L296.0 193.9L288.8 193.9Z" fill="#008000" stroke="#000" stroke-width="0.7"/>
<path d="M97.5 166.1V191.4M95.0 166.1h5M95.0 191.4h5" stroke="#800080" stroke-width="1.15" fill="none"/>
<path d="M97.5 173.9L101.0 177.4L97.5 180.9L94.0 177.4Z" fill="#800080" stroke="#000" stroke-width="0.7"/>
<path d="M381.2 199.8V224.7M378.7 199.8h5M378.7 224.7h5" stroke="#0000ff" stroke-width="1.15" fill="none"/>
<circle cx="381.2" cy="210.6" r="3.2" fill="#0000ff" stroke="#000" stroke-width="0.7"/>
<path d="M170.1 176.1V192.4M167.6 176.1h5M167.6 192.4h5" stroke="#0000ff" stroke-width="1.15" fill="none"/>
<rect x="167.0" y="181.8" width="6.2" height="6.2" fill="#0000ff" stroke="#000" stroke-width="0.7"/>
<path d="M362.2 197.8V221.4M359.7 197.8h5M359.7 221.4h5" stroke="#008000" stroke-width="1.15" fill="none"/>
<path d="M362.2 206.2L365.8 212.9L358.6 212.9Z" fill="#008000" stroke="#000" stroke-width="0.7"/>
<path d="M107.7 168.3V186.6M105.2 168.3h5M105.2 186.6h5" stroke="#008000" stroke-width="1.15" fill="none"/>
<path d="M107.7 173.1L111.3 179.8L104.1 179.8Z" fill="#008000" stroke="#000" stroke-width="0.7"/>
<path d="M550.6 173.3V200.7M548.1 173.3h5M548.1 200.7h5" stroke="#0000ff" stroke-width="1.15" fill="none"/>
<rect x="547.5" y="185.5" width="6.2" height="6.2" fill="#0000ff" stroke="#000" stroke-width="0.7"/>
<path d="M277.4 182.6V203.8M274.9 182.6h5M274.9 203.8h5" stroke="#800080" stroke-width="1.15" fill="none"/>
<path d="M273.2 193.1H281.6M277.4 188.9V197.3" stroke="#800080" stroke-width="2.2" fill="none"/>
<path d="M265.6 206.0V231.8M263.1 206.0h5M263.1 231.8h5" stroke="#000000" stroke-width="1.15" fill="none"/>
<circle cx="265.6" cy="217.4" r="3.2" fill="#000000" stroke="#000" stroke-width="0.7"/>
<path d="M469.2 207.0V242.1M466.7 207.0h5M466.7 242.1h5" stroke="#008000" stroke-width="1.15" fill="none"/>
<path d="M469.2 228.1L472.8 221.4L465.6 221.4Z" fill="#008000" stroke="#000" stroke-width="0.7"/>
<path d="M239.9 184.4V207.8M237.4 184.4h5M237.4 207.8h5" stroke="#000080" stroke-width="1.15" fill="none"/>
<path d="M239.9 198.2L243.5 191.5L236.3 191.5Z" fill="#000080" stroke="#000" stroke-width="0.7"/>
<path d="M252.3 193.3V219.3M249.8 193.3h5M249.8 219.3h5" stroke="#0000ff" stroke-width="1.15" fill="none"/>
<circle cx="252.3" cy="205.8" r="3.2" fill="#0000ff" stroke="#000" stroke-width="0.7"/>
<path d="M348.7 188.5V205.0M346.2 188.5h5M346.2 205.0h5" stroke="#000080" stroke-width="1.15" fill="none"/>
<path d="M348.7 200.5L352.3 193.8L345.1 193.8Z" fill="#000080" stroke="#000" stroke-width="0.7"/>
<path d="M103.0 190.3V212.9M100.5 190.3h5M100.5 212.9h5" stroke="#008000" stroke-width="1.15" fill="none"/>
<path d="M103.0 197.9L106.6 204.6L99.4 204.6Z" fill="#008000" stroke="#000" stroke-width="0.7"/>
<path d="M544.0 192.4V208.0M541.5 192.4h5M541.5 208.0h5" stroke="#800000" stroke-width="1.15" fill="none"/>
<path d="M544.0 196.2L547.6 202.9L540.4 202.9Z" fill="#800000" stroke="#000" stroke-width="0.7"/>
<path d="M420.6 187.7V200.2M418.1 187.7h5M418.1 200.2h5" stroke="#0000ff" stroke-width="1.15" fill="none"/>
<circle cx="420.6" cy="194.1" r="3.2" fill="#0000ff" stroke="#000" stroke-width="0.7"/>
<path d="M253.8 214.5V242.4M251.3 214.5h5M251.3 242.4h5" stroke="#008000" stroke-width="1.15" fill="none"/>
<path d="M253.8 232.6L257.4 225.9L250.2 225.9Z" fill="#008000" stroke="#000" stroke-width="0.7"/>
<path d="M167.3 192.3V226.5M164.8 192.3h5M164.8 226.5h5" stroke="#000000" stroke-width="1.15" fill="none"/>
<circle cx="167.3" cy="209.1" r="3.2" fill="#000000" stroke="#000" stroke-width="0.7"/>
<path d="M402.3 195.5V214.6M399.8 195.5h5M399.8 214.6h5" stroke="#0000ff" stroke-width="1.15" fill="none"/>
<circle cx="402.3" cy="204.9" r="3.2" fill="#0000ff" stroke="#000" stroke-width="0.7"/>
<path d="M468.8 219.2V250.1M466.3 219.2h5M466.3 250.1h5" stroke="#808080" stroke-width="1.15" fill="none"/>
<path d="M464.1 233.7L473.5 233.7M465.4 230.4L472.1 237.0M468.8 229.0L468.8 238.4M472.1 230.4L465.4 237.0" stroke="#808080" stroke-width="1.8" fill="none"/>
<path d="M589.7 166.8V192.4M587.2 166.8h5M587.2 192.4h5" stroke="#000080" stroke-width="1.15" fill="none"/>
<path d="M589.7 182.6L593.3 175.9L586.1 175.9Z" fill="#000080" stroke="#000" stroke-width="0.7"/>
<path d="M128.2 176.0V192.5M125.7 176.0h5M125.7 192.5h5" stroke="#000000" stroke-width="1.15" fill="none"/>
<circle cx="128.2" cy="183.3" r="3.2" fill="#000000" stroke="#000" stroke-width="0.7"/>
<path d="M330.8 169.7V200.6M328.3 169.7h5M328.3 200.6h5" stroke="#008080" stroke-width="1.15" fill="none"/>
<rect x="328.1" y="184.1" width="5.4" height="5.4" fill="#008080" stroke="#000" stroke-width="1.9"/>
<path d="M116.7 174.5V190.9M114.2 174.5h5M114.2 190.9h5" stroke="#008000" stroke-width="1.15" fill="none"/>
<path d="M116.7 185.7L120.3 179.0L113.1 179.0Z" fill="#008000" stroke="#000" stroke-width="0.7"/>
<path d="M141.9 162.5V184.5M139.4 162.5h5M139.4 184.5h5" stroke="#800000" stroke-width="1.15" fill="none"/>
<path d="M141.9 170.3L145.5 177.0L138.3 177.0Z" fill="#800000" stroke="#000" stroke-width="0.7"/>
<path d="M267.5 199.1V216.3M265.0 199.1h5M265.0 216.3h5" stroke="#008080" stroke-width="1.15" fill="none"/>
<path d="M263.3 208.7H271.7M267.5 204.5V212.9" stroke="#008080" stroke-width="2.2" fill="none"/>
<path d="M324.7 167.5V201.6M322.2 167.5h5M322.2 201.6h5" stroke="#000000" stroke-width="1.15" fill="none"/>
<circle cx="324.7" cy="184.6" r="3.2" fill="#000000" stroke="#000" stroke-width="0.7"/>
<path d="M227.0 185.5V211.1M224.5 185.5h5M224.5 211.1h5" stroke="#ff0000" stroke-width="1.15" fill="none"/>
<path d="M222.3 198.0L231.7 198.0M223.6 194.7L230.3 201.4M227.0 193.3L227.0 202.7M230.3 194.7L223.6 201.4" stroke="#ff0000" stroke-width="1.8" fill="none"/>
<path d="M448.0 194.9V261.7M445.5 194.9h5M445.5 261.7h5" stroke="#800000" stroke-width="1.15" fill="none"/>
<circle cx="448.0" cy="229.5" r="3.2" fill="#800000" stroke="#000" stroke-width="0.7"/>
<path d="M471.7 209.1V227.5M469.2 209.1h5M469.2 227.5h5" stroke="#0000ff" stroke-width="1.15" fill="none"/>
<rect x="468.6" y="215.0" width="6.2" height="6.2" fill="#0000ff" stroke="#000" stroke-width="0.7"/>
<path d="M116.7 177.2V209.6M114.2 177.2h5M114.2 209.6h5" stroke="#ff0000" stroke-width="1.15" fill="none"/>
<rect x="113.6" y="192.3" width="6.2" height="6.2" fill="#ff0000" stroke="#000" stroke-width="0.7"/>
<path d="M203.9 201.0V220.8M201.4 201.0h5M201.4 220.8h5" stroke="#800080" stroke-width="1.15" fill="none"/>
<path d="M203.9 207.4L207.4 210.9L203.9 214.4L200.4 210.9Z" fill="#800080" stroke="#000" stroke-width="0.7"/>
<path d="M144.9 166.3V187.6M142.4 166.3h5M142.4 187.6h5" stroke="#0000ff" stroke-width="1.15" fill="none"/>
<rect x="141.8" y="173.7" width="6.2" height="6.2" fill="#0000ff" stroke="#000" stroke-width="0.7"/>
<path d="M397.5 192.2V216.2M395.0 192.2h5M395.0 216.2h5" stroke="#800000" stroke-width="1.15" fill="none"/>
<path d="M397.5 199.6L401.1 206.3L393.9 206.3Z" fill="#800000" stroke="#000" stroke-width="0.7"/>
<path d="M588.7 193.6V214.3M586.2 193.6h5M586.2 214.3h5" stroke="#0000ff" stroke-width="1.15" fill="none"/>
<rect x="585.6" y="200.3" width="6.2" height="6.2" fill="#0000ff" stroke="#000" stroke-width="0.7"/>
<path d="M355.7 204.4V239.4M353.2 204.4h5M353.2 239.4h5" stroke="#800000" stroke-width="1.15" fill="none"/>
<circle cx="355.7" cy="223.7" r="3.2" fill="#800000" stroke="#000" stroke-width="0.7"/>
<path d="M204.3 224.2V255.9M201.8 224.2h5M201.8 255.9h5" stroke="#000080" stroke-width="1.15" fill="none"/>
<path d="M204.3 244.6L207.9 237.9L200.7 237.9Z" fill="#000080" stroke="#000" stroke-width="0.7"/>
<path d="M134.0 161.7V210.5M131.5 161.7h5M131.5 210.5h5" stroke="#000000" stroke-width="1.15" fill="none"/>
<circle cx="134.0" cy="186.7" r="3.2" fill="#000000" stroke="#000" stroke-width="0.7"/>
<path d="M553.9 190.7V207.9M551.4 190.7h5M551.4 207.9h5" stroke="#008000" stroke-width="1.15" fill="none"/>
<path d="M553.9 196.9L557.5 203.6L550.3 203.6Z" fill="#008000" stroke="#000" stroke-width="0.7"/>
<path d="M593.2 176.8V201.6M590.7 176.8h5M590.7 201.6h5" stroke="#000080" stroke-width="1.15" fill="none"/>
<path d="M593.2 191.3L596.8 184.6L589.6 184.6Z" fill="#000080" stroke="#000" stroke-width="0.7"/>
<path d="M576.0 189.9V208.5M573.5 189.9h5M573.5 208.5h5" stroke="#008000" stroke-width="1.15" fill="none"/>
<path d="M576.0 196.5L579.6 203.2L572.4 203.2Z" fill="#008000" stroke="#000" stroke-width="0.7"/>
<path d="M460.0 208.8V237.7M457.5 208.8h5M457.5 237.7h5" stroke="#000080" stroke-width="1.15" fill="none"/>
<path d="M460.0 220.5L463.5 224.0L460.0 227.5L456.5 224.0Z" fill="#000080" stroke="#000" stroke-width="0.7"/>
<path d="M244.5 199.3V230.2M242.0 199.3h5M242.0 230.2h5" stroke="#0000ff" stroke-width="1.15" fill="none"/>
<rect x="241.4" y="210.9" width="6.2" height="6.2" fill="#0000ff" stroke="#000" stroke-width="0.7"/>
<path d="M478.6 230.4V260.0M476.1 230.4h5M476.1 260.0h5" stroke="#000080" stroke-width="1.15" fill="none"/>
<path d="M478.6 247.5L482.2 240.8L475.0 240.8Z" fill="#000080" stroke="#000" stroke-width="0.7"/>
<path d="M562.0 176.3V195.2M559.5 176.3h5M559.5 195.2h5" stroke="#000080" stroke-width="1.15" fill="none"/>
<path d="M562.0 189.9L565.6 183.2L558.4 183.2Z" fill="#000080" stroke="#000" stroke-width="0.7"/>
<path d="M481.3 207.6V250.7M478.8 207.6h5M478.8 250.7h5" stroke="#000080" stroke-width="1.15" fill="none"/>
<path d="M481.3 227.7L484.8 231.2L481.3 234.7L477.8 231.2Z" fill="#000080" stroke="#000" stroke-width="0.7"/>
<path d="M129.4 183.1V202.4M126.9 183.1h5M126.9 202.4h5" stroke="#ff0000" stroke-width="1.15" fill="none"/>
<rect x="126.3" y="189.4" width="6.2" height="6.2" fill="#ff0000" stroke="#000" stroke-width="0.7"/>
<path d="M560.3 192.4V225.5M557.8 192.4h5M557.8 225.5h5" stroke="#0000ff" stroke-width="1.15" fill="none"/>
<rect x="557.2" y="205.7" width="6.2" height="6.2" fill="#0000ff" stroke="#000" stroke-width="0.7"/>
<path d="M477.3 213.1V231.2M474.8 213.1h5M474.8 231.2h5" stroke="#000080" stroke-width="1.15" fill="none"/>
<path d="M477.3 225.7L480.9 219.0L473.7 219.0Z" fill="#000080" stroke="#000" stroke-width="0.7"/>
<path d="M531.4 181.0V213.5M528.9 181.0h5M528.9 213.5h5" stroke="#0000ff" stroke-width="1.15" fill="none"/>
<circle cx="531.4" cy="197.4" r="3.2" fill="#0000ff" stroke="#000" stroke-width="0.7"/>
<path d="M217.7 184.4V226.9M215.2 184.4h5M215.2 226.9h5" stroke="#800000" stroke-width="1.15" fill="none"/>
<path d="M217.7 203.6L221.3 210.3L214.1 210.3Z" fill="#800000" stroke="#000" stroke-width="0.7"/>
<path d="M142.4 182.2V207.2M139.9 182.2h5M139.9 207.2h5" stroke="#800080" stroke-width="1.15" fill="none"/>
<path d="M138.2 194.8H146.6M142.4 190.6V199.0" stroke="#800080" stroke-width="2.2" fill="none"/>
<path d="M454.3 211.9V229.5M451.8 211.9h5M451.8 229.5h5" stroke="#ff0000" stroke-width="1.15" fill="none"/>
<path d="M449.6 220.1L459.0 220.1M450.9 216.8L457.6 223.4M454.3 215.4L454.3 224.8M457.6 216.8L450.9 223.4" stroke="#ff0000" stroke-width="1.8" fill="none"/>
<path d="M444.9 204.3V221.1M442.4 204.3h5M442.4 221.1h5" stroke="#800000" stroke-width="1.15" fill="none"/>
<path d="M444.9 209.2L448.5 215.9L441.3 215.9Z" fill="#800000" stroke="#000" stroke-width="0.7"/>
<path d="M258.0 207.2V225.3M255.5 207.2h5M255.5 225.3h5" stroke="#800000" stroke-width="1.15" fill="none"/>
<circle cx="258.0" cy="216.1" r="3.2" fill="#800000" stroke="#000" stroke-width="0.7"/>
<path d="M312.1 172.7V190.1M309.6 172.7h5M309.6 190.1h5" stroke="#808080" stroke-width="1.15" fill="none"/>
<rect x="309.4" y="178.6" width="5.4" height="5.4" fill="#808080" stroke="#000" stroke-width="1.9"/>
<path d="M404.8 213.4V230.6M402.3 213.4h5M402.3 230.6h5" stroke="#0000ff" stroke-width="1.15" fill="none"/>
<circle cx="404.8" cy="222.8" r="3.2" fill="#0000ff" stroke="#000" stroke-width="0.7"/>
<path d="M487.1 220.0V249.5M484.6 220.0h5M484.6 249.5h5" stroke="#008000" stroke-width="1.15" fill="none"/>
<path d="M487.1 238.3L490.7 231.6L483.5 231.6Z" fill="#008000" stroke="#000" stroke-width="0.7"/>
<path d="M145.5 158.1V181.6M143.0 158.1h5M143.0 181.6h5" stroke="#008000" stroke-width="1.15" fill="none"/>
<path d="M145.5 166.6L149.1 173.3L141.9 173.3Z" fill="#008000" stroke="#000" stroke-width="0.7"/>
<path d="M156.2 180.9V197.4M153.7 180.9h5M153.7 197.4h5" stroke="#800080" stroke-width="1.15" fill="none"/>
<path d="M156.2 186.0L159.7 189.5L156.2 193.0L152.7 189.5Z" fill="#800080" stroke="#000" stroke-width="0.7"/>
<path d="M131.3 180.7V196.1M128.8 180.7h5M128.8 196.1h5" stroke="#0000ff" stroke-width="1.15" fill="none"/>
<rect x="128.2" y="185.4" width="6.2" height="6.2" fill="#0000ff" stroke="#000" stroke-width="0.7"/>
<path d="M261.3 202.9V223.4M258.8 202.9h5M258.8 223.4h5" stroke="#008080" stroke-width="1.15" fill="none"/>
<path d="M257.1 213.1H265.5M261.3 208.9V217.3" stroke="#008080" stroke-width="2.2" fill="none"/>
<path d="M438.3 190.6V237.0M435.8 190.6h5M435.8 237.0h5" stroke="#0000ff" stroke-width="1.15" fill="none"/>
<rect x="435.2" y="208.6" width="6.2" height="6.2" fill="#0000ff" stroke="#000" stroke-width="0.7"/>
<path d="M203.0 215.4V243.2M200.5 215.4h5M200.5 243.2h5" stroke="#808080" stroke-width="1.15" fill="none"/>
<rect x="200.3" y="226.8" width="5.4" height="5.4" fill="#808080" stroke="#000" stroke-width="1.9"/>
<path d="M375.4 191.6V221.6M372.9 191.6h5M372.9 221.6h5" stroke="#000000" stroke-width="1.15" fill="none"/>
<circle cx="375.4" cy="205.9" r="3.2" fill="#000000" stroke="#000" stroke-width="0.7"/>
<path d="M172.8 172.8V192.5M170.3 172.8h5M170.3 192.5h5" stroke="#000000" stroke-width="1.15" fill="none"/>
<circle cx="172.8" cy="182.8" r="3.2" fill="#000000" stroke="#000" stroke-width="0.7"/>
<path d="M384.9 200.0V223.1M382.4 200.0h5M382.4 223.1h5" stroke="#0000ff" stroke-width="1.15" fill="none"/>
<circle cx="384.9" cy="212.1" r="3.2" fill="#0000ff" stroke="#000" stroke-width="0.7"/>
<path d="M133.4 177.1V197.2M130.9 177.1h5M130.9 197.2h5" stroke="#0000ff" stroke-width="1.15" fill="none"/>
<rect x="130.3" y="185.1" width="6.2" height="6.2" fill="#0000ff" stroke="#000" stroke-width="0.7"/>
<path d="M138.1 171.6V205.6M135.6 171.6h5M135.6 205.6h5" stroke="#ff0000" stroke-width="1.15" fill="none"/>
<path d="M133.4 189.8L142.8 189.8M134.7 186.5L141.4 193.1M138.1 185.1L138.1 194.5M141.4 186.5L134.7 193.1" stroke="#ff0000" stroke-width="1.8" fill="none"/>
<path d="M539.2 174.3V212.6M536.7 174.3h5M536.7 212.6h5" stroke="#800080" stroke-width="1.15" fill="none"/>
<path d="M535.0 193.8H543.4M539.2 189.6V198.0" stroke="#800080" stroke-width="2.2" fill="none"/>
<path d="M447.2 195.2V219.8M444.7 195.2h5M444.7 219.8h5" stroke="#000080" stroke-width="1.15" fill="none"/>
<path d="M447.2 210.8L450.8 204.1L443.6 204.1Z" fill="#000080" stroke="#000" stroke-width="0.7"/>
<path d="M194.1 193.3V213.0M191.6 193.3h5M191.6 213.0h5" stroke="#ff0000" stroke-width="1.15" fill="none"/>
<rect x="191.0" y="200.3" width="6.2" height="6.2" fill="#ff0000" stroke="#000" stroke-width="0.7"/>
<path d="M376.3 199.6V220.9M373.8 199.6h5M373.8 220.9h5" stroke="#ff0000" stroke-width="1.15" fill="none"/>
<path d="M371.6 209.8L381.0 209.8M373.0 206.5L379.7 213.1M376.3 205.1L376.3 214.5M379.7 206.5L373.0 213.1" stroke="#ff0000" stroke-width="1.8" fill="none"/>
<path d="M256.9 193.5V212.6M254.4 193.5h5M254.4 212.6h5" stroke="#008000" stroke-width="1.15" fill="none"/>
<path d="M256.9 199.2L260.5 205.9L253.3 205.9Z" fill="#008000" stroke="#000" stroke-width="0.7"/>
<path d="M288.8 178.1V203.0M286.3 178.1h5M286.3 203.0h5" stroke="#008000" stroke-width="1.15" fill="none"/>
<path d="M288.8 186.3L292.4 193.0L285.2 193.0Z" fill="#008000" stroke="#000" stroke-width="0.7"/>
<path d="M282.9 179.8V209.2M280.4 179.8h5M280.4 209.2h5" stroke="#008080" stroke-width="1.15" fill="none"/>
<path d="M278.7 194.8H287.1M282.9 190.6V199.0" stroke="#008080" stroke-width="2.2" fill="none"/>
<path d="M525.7 200.3V217.3M523.2 200.3h5M523.2 217.3h5" stroke="#000080" stroke-width="1.15" fill="none"/>
<path d="M525.7 205.7L529.2 209.2L525.7 212.7L522.2 209.2Z" fill="#000080" stroke="#000" stroke-width="0.7"/>
<path d="M576.3 181.3V229.7M573.8 181.3h5M573.8 229.7h5" stroke="#800000" stroke-width="1.15" fill="none"/>
<circle cx="576.3" cy="205.2" r="3.2" fill="#800000" stroke="#000" stroke-width="0.7"/>
<path d="M166.1 183.1V212.5M163.6 183.1h5M163.6 212.5h5" stroke="#ff0000" stroke-width="1.15" fill="none"/>
<path d="M161.4 196.3L170.8 196.3M162.7 192.9L169.4 199.6M166.1 191.6L166.1 201.0M169.4 192.9L162.7 199.6" stroke="#ff0000" stroke-width="1.8" fill="none"/>
<path d="M164.9 179.5V202.8M162.4 179.5h5M162.4 202.8h5" stroke="#000080" stroke-width="1.15" fill="none"/>
<path d="M164.9 195.1L168.5 188.4L161.3 188.4Z" fill="#000080" stroke="#000" stroke-width="0.7"/>
<path d="M444.6 218.1V246.1M442.1 218.1h5M442.1 246.1h5" stroke="#008080" stroke-width="1.15" fill="none"/>
<path d="M440.4 232.8H448.8M444.6 228.6V237.0" stroke="#008080" stroke-width="2.2" fill="none"/>
<path d="M314.3 158.0V188.0M311.8 158.0h5M311.8 188.0h5" stroke="#0000ff" stroke-width="1.15" fill="none"/>
<circle cx="314.3" cy="173.4" r="3.2" fill="#0000ff" stroke="#000" stroke-width="0.7"/>
<path d="M333.4 173.6V188.1M330.9 173.6h5M330.9 188.1h5" stroke="#808080" stroke-width="1.15" fill="none"/>
<rect x="330.7" y="177.6" width="5.4" height="5.4" fill="#808080" stroke="#000" stroke-width="1.9"/>
<path d="M436.2 191.9V215.4M433.7 191.9h5M433.7 215.4h5" stroke="#0000ff" stroke-width="1.15" fill="none"/>
<circle cx="436.2" cy="203.7" r="3.2" fill="#0000ff" stroke="#000" stroke-width="0.7"/>
<path d="M596.9 187.8V214.2M594.4 187.8h5M594.4 214.2h5" stroke="#ff0000" stroke-width="1.15" fill="none"/>
<rect x="593.8" y="198.0" width="6.2" height="6.2" fill="#ff0000" stroke="#000" stroke-width="0.7"/>
<path d="M294.7 166.1V197.0M292.2 166.1h5M292.2 197.0h5" stroke="#0000ff" stroke-width="1.15" fill="none"/>
<rect x="291.6" y="179.0" width="6.2" height="6.2" fill="#0000ff" stroke="#000" stroke-width="0.7"/>
<path d="M318.0 169.9V193.9M315.5 169.9h5M315.5 193.9h5" stroke="#008080" stroke-width="1.15" fill="none"/>
<path d="M313.8 180.4H322.2M318.0 176.2V184.6" stroke="#008080" stroke-width="2.2" fill="none"/>
<path d="M156.4 203.7V223.0M153.9 203.7h5M153.9 223.0h5" stroke="#ff0000" stroke-width="1.15" fill="none"/>
<path d="M151.7 213.5L161.1 213.5M153.1 210.2L159.7 216.8M156.4 208.8L156.4 218.2M159.7 210.2L153.1 216.8" stroke="#ff0000" stroke-width="1.8" fill="none"/>
<path d="M177.2 204.0V233.3M174.7 204.0h5M174.7 233.3h5" stroke="#000080" stroke-width="1.15" fill="none"/>
<path d="M177.2 215.1L180.7 218.6L177.2 222.1L173.7 218.6Z" fill="#000080" stroke="#000" stroke-width="0.7"/>
<path d="M444.7 196.8V224.0M442.2 196.8h5M442.2 224.0h5" stroke="#000080" stroke-width="1.15" fill="none"/>
<path d="M444.7 206.6L448.2 210.1L444.7 213.6L441.2 210.1Z" fill="#000080" stroke="#000" stroke-width="0.7"/>
<path d="M333.3 179.8V198.5M330.8 179.8h5M330.8 198.5h5" stroke="#000000" stroke-width="1.15" fill="none"/>
<circle cx="333.3" cy="189.2" r="3.2" fill="#000000" stroke="#000" stroke-width="0.7"/>
<path d="M458.8 205.5V234.1M456.3 205.5h5M456.3 234.1h5" stroke="#ff0000" stroke-width="1.15" fill="none"/>
<rect x="455.7" y="215.7" width="6.2" height="6.2" fill="#ff0000" stroke="#000" stroke-width="0.7"/>
<path d="M207.5 231.8V250.6M205.0 231.8h5M205.0 250.6h5" stroke="#000080" stroke-width="1.15" fill="none"/>
<path d="M207.5 238.4L211.0 241.9L207.5 245.4L204.0 241.9Z" fill="#000080" stroke="#000" stroke-width="0.7"/>
<path d="M179.2 210.7V245.6M176.7 210.7h5M176.7 245.6h5" stroke="#ff0000" stroke-width="1.15" fill="none"/>
<rect x="176.1" y="225.3" width="6.2" height="6.2" fill="#ff0000" stroke="#000" stroke-width="0.7"/>
<path d="M479.6 209.0V223.7M477.1 209.0h5M477.1 223.7h5" stroke="#000080" stroke-width="1.15" fill="none"/>
<path d="M479.6 211.8L483.1 215.3L479.6 218.8L476.1 215.3Z" fill="#000080" stroke="#000" stroke-width="0.7"/>
<path d="M258.6 193.4V220.7M256.1 193.4h5M256.1 220.7h5" stroke="#008000" stroke-width="1.15" fill="none"/>
<path d="M258.6 204.1L262.2 210.8L255.0 210.8Z" fill="#008000" stroke="#000" stroke-width="0.7"/>
<path d="M251.9 206.2V232.4M249.4 206.2h5M249.4 232.4h5" stroke="#800080" stroke-width="1.15" fill="none"/>
<path d="M251.9 216.0L255.4 219.5L251.9 223.0L248.4 219.5Z" fill="#800080" stroke="#000" stroke-width="0.7"/>
<path d="M254.9 173.7V207.7M252.4 173.7h5M252.4 207.7h5" stroke="#000080" stroke-width="1.15" fill="none"/>
<path d="M254.9 192.5L258.5 185.8L251.3 185.8Z" fill="#000080" stroke="#000" stroke-width="0.7"/>
<path d="M339.6 193.6V231.6M337.1 193.6h5M337.1 231.6h5" stroke="#000080" stroke-width="1.15" fill="none"/>
<path d="M339.6 208.5L343.1 212.0L339.6 215.5L336.1 212.0Z" fill="#000080" stroke="#000" stroke-width="0.7"/>
<path d="M317.7 173.3V189.5M315.2 173.3h5M315.2 189.5h5" stroke="#000080" stroke-width="1.15" fill="none"/>
<path d="M317.7 185.4L321.3 178.7L314.1 178.7Z" fill="#000080" stroke="#000" stroke-width="0.7"/>
<path d="M531.6 187.5V212.5M529.1 187.5h5M529.1 212.5h5" stroke="#008080" stroke-width="1.15" fill="none"/>
<path d="M527.4 201.3H535.8M531.6 197.1V205.5" stroke="#008080" stroke-width="2.2" fill="none"/>
<path d="M343.5 185.7V206.6M341.0 185.7h5M341.0 206.6h5" stroke="#800080" stroke-width="1.15" fill="none"/>
<path d="M343.5 193.2L347.0 196.7L343.5 200.2L340.0 196.7Z" fill="#800080" stroke="#000" stroke-width="0.7"/>
<path d="M169.7 170.1V209.8M167.2 170.1h5M167.2 209.8h5" stroke="#0000ff" stroke-width="1.15" fill="none"/>
<rect x="166.6" y="187.0" width="6.2" height="6.2" fill="#0000ff" stroke="#000" stroke-width="0.7"/>
<path d="M552.0 184.8V207.9M549.5 184.8h5M549.5 207.9h5" stroke="#800080" stroke-width="1.15" fill="none"/>
<path d="M552.0 192.7L555.5 196.2L552.0 199.7L548.5 196.2Z" fill="#800080" stroke="#000" stroke-width="0.7"/>
<path d="M238.0 183.2V225.9M235.5 183.2h5M235.5 225.9h5" stroke="#ff0000" stroke-width="1.15" fill="none"/>
<path d="M233.3 205.3L242.7 205.3M234.6 202.0L241.3 208.6M238.0 200.6L238.0 210.0M241.3 202.0L234.6 208.6" stroke="#ff0000" stroke-width="1.8" fill="none"/>
<path d="M511.3 202.8V230.5M508.8 202.8h5M508.8 230.5h5" stroke="#008000" stroke-width="1.15" fill="none"/>
<path d="M511.3 219.2L514.9 212.5L507.7 212.5Z" fill="#008000" stroke="#000" stroke-width="0.7"/>
<path d="M172.0 189.0V211.9M169.5 189.0h5M169.5 211.9h5" stroke="#800080" stroke-width="1.15" fill="none"/>
<path d="M167.8 199.8H176.2M172.0 195.6V204.0" stroke="#800080" stroke-width="2.2" fill="none"/>
<path d="M564.5 171.9V197.9M562.0 171.9h5M562.0 197.9h5" stroke="#000080" stroke-width="1.15" fill="none"/>
<path d="M564.5 180.5L568.0 184.0L564.5 187.5L561.0 184.0Z" fill="#000080" stroke="#000" stroke-width="0.7"/>
<path d="M271.5 184.1V202.0M269.0 184.1h5M269.0 202.0h5" stroke="#ff0000" stroke-width="1.15" fill="none"/>
<path d="M266.8 192.9L276.2 192.9M268.2 189.5L274.9 196.2M271.5 188.2L271.5 197.6M274.9 189.5L268.2 196.2" stroke="#ff0000" stroke-width="1.8" fill="none"/>
<path d="M110.6 180.2V196.6M108.1 180.2h5M108.1 196.6h5" stroke="#800080" stroke-width="1.15" fill="none"/>
<path d="M110.6 184.4L114.1 187.9L110.6 191.4L107.1 187.9Z" fill="#800080" stroke="#000" stroke-width="0.7"/>
<path d="M550.3 188.7V219.0M547.8 188.7h5M547.8 219.0h5" stroke="#000000" stroke-width="1.15" fill="none"/>
<circle cx="550.3" cy="204.3" r="3.2" fill="#000000" stroke="#000" stroke-width="0.7"/>
<path d="M315.7 165.0V235.5M313.2 165.0h5M313.2 235.5h5" stroke="#ff0000" stroke-width="1.15" fill="none"/>
<path d="M311.0 199.8L320.4 199.8M312.4 196.5L319.0 203.1M315.7 195.1L315.7 204.5M319.0 196.5L312.4 203.1" stroke="#ff0000" stroke-width="1.8" fill="none"/>
<path d="M355.8 196.9V217.5M353.3 196.9h5M353.3 217.5h5" stroke="#ff0000" stroke-width="1.15" fill="none"/>
<path d="M351.1 207.2L360.5 207.2M352.4 203.9L359.1 210.6M355.8 202.5L355.8 211.9M359.1 203.9L352.4 210.6" stroke="#ff0000" stroke-width="1.8" fill="none"/>
<path d="M398.2 194.4V216.2M395.7 194.4h5M395.7 216.2h5" stroke="#000000" stroke-width="1.15" fill="none"/>
<circle cx="398.2" cy="205.3" r="3.2" fill="#000000" stroke="#000" stroke-width="0.7"/>
<path d="M390.6 197.8V214.0M388.1 197.8h5M388.1 214.0h5" stroke="#008000" stroke-width="1.15" fill="none"/>
<path d="M390.6 209.9L394.2 203.2L387.0 203.2Z" fill="#008000" stroke="#000" stroke-width="0.7"/>
<path d="M530.0 180.1V207.0M527.5 180.1h5M527.5 207.0h5" stroke="#ff0000" stroke-width="1.15" fill="none"/>
<path d="M525.3 194.9L534.7 194.9M526.7 191.6L533.3 198.3M530.0 190.2L530.0 199.6M533.3 191.6L526.7 198.3" stroke="#ff0000" stroke-width="1.8" fill="none"/>
<path d="M352.9 199.8V220.7M350.4 199.8h5M350.4 220.7h5" stroke="#000000" stroke-width="1.15" fill="none"/>
<circle cx="352.9" cy="210.1" r="3.2" fill="#000000" stroke="#000" stroke-width="0.7"/>
<path d="M253.3 199.0V219.0M250.8 199.0h5M250.8 219.0h5" stroke="#ff0000" stroke-width="1.15" fill="none"/>
<path d="M248.6 209.1L258.0 209.1M249.9 205.7L256.6 212.4M253.3 204.4L253.3 213.8M256.6 205.7L249.9 212.4" stroke="#ff0000" stroke-width="1.8" fill="none"/>
<path d="M97.4 175.8V217.7M94.9 175.8h5M94.9 217.7h5" stroke="#0000ff" stroke-width="1.15" fill="none"/>
<circle cx="97.4" cy="196.2" r="3.2" fill="#0000ff" stroke="#000" stroke-width="0.7"/>
<path d="M489.5 227.2V257.1M487.0 227.2h5M487.0 257.1h5" stroke="#008080" stroke-width="1.15" fill="none"/>
<path d="M485.3 243.2H493.7M489.5 239.0V247.4" stroke="#008080" stroke-width="2.2" fill="none"/>
<path d="M541.9 196.0V219.3M539.4 196.0h5M539.4 219.3h5" stroke="#800000" stroke-width="1.15" fill="none"/>
<path d="M541.9 205.2L545.5 211.9L538.3 211.9Z" fill="#800000" stroke="#000" stroke-width="0.7"/>
<path d="M451.5 215.2V238.1M449.0 215.2h5M449.0 238.1h5" stroke="#000080" stroke-width="1.15" fill="none"/>
<path d="M451.5 230.9L455.1 224.2L447.9 224.2Z" fill="#000080" stroke="#000" stroke-width="0.7"/>
<path d="M297.8 165.2V203.8M295.3 165.2h5M295.3 203.8h5" stroke="#800000" stroke-width="1.15" fill="none"/>
<path d="M297.8 179.9L301.4 186.6L294.2 186.6Z" fill="#800000" stroke="#000" stroke-width="0.7"/>
<path d="M379.9 218.2V233.0M377.4 218.2h5M377.4 233.0h5" stroke="#008000" stroke-width="1.15" fill="none"/>
<path d="M379.9 228.9L383.5 222.2L376.3 222.2Z" fill="#008000" stroke="#000" stroke-width="0.7"/>
<path d="M348.0 197.9V238.0M345.5 197.9h5M345.5 238.0h5" stroke="#000080" stroke-width="1.15" fill="none"/>
<path d="M348.0 214.9L351.5 218.4L348.0 221.9L344.5 218.4Z" fill="#000080" stroke="#000" stroke-width="0.7"/>
<path d="M131.4 164.5V200.5M128.9 164.5h5M128.9 200.5h5" stroke="#0000ff" stroke-width="1.15" fill="none"/>
<rect x="128.3" y="179.4" width="6.2" height="6.2" fill="#0000ff" stroke="#000" stroke-width="0.7"/>
<path d="M338.3 194.9V219.1M335.8 194.9h5M335.8 219.1h5" stroke="#0000ff" stroke-width="1.15" fill="none"/>
<circle cx="338.3" cy="207.5" r="3.2" fill="#0000ff" stroke="#000" stroke-width="0.7"/>
<path d="M393.3 212.4V229.6M390.8 212.4h5M390.8 229.6h5" stroke="#008000" stroke-width="1.15" fill="none"/>
<path d="M393.3 224.7L396.9 218.0L389.7 218.0Z" fill="#008000" stroke="#000" stroke-width="0.7"/>
<path d="M184.0 173.4V248.8M181.5 173.4h5M181.5 248.8h5" stroke="#0000ff" stroke-width="1.15" fill="none"/>
<circle cx="184.0" cy="208.6" r="3.2" fill="#0000ff" stroke="#000" stroke-width="0.7"/>
<path d="M108.2 161.2V191.8M105.7 161.2h5M105.7 191.8h5" stroke="#800080" stroke-width="1.15" fill="none"/>
<path d="M104.0 175.9H112.4M108.2 171.7V180.1" stroke="#800080" stroke-width="2.2" fill="none"/>
<path d="M429.4 190.4V212.7M426.9 190.4h5M426.9 212.7h5" stroke="#008000" stroke-width="1.15" fill="none"/>
<path d="M429.4 198.1L433.0 204.8L425.8 204.8Z" fill="#008000" stroke="#000" stroke-width="0.7"/>
<path d="M507.7 209.8V232.5M505.2 209.8h5M505.2 232.5h5" stroke="#0000ff" stroke-width="1.15" fill="none"/>
<rect x="504.6" y="217.3" width="6.2" height="6.2" fill="#0000ff" stroke="#000" stroke-width="0.7"/>
<path d="M418.1 209.9V230.0M415.6 209.9h5M415.6 230.0h5" stroke="#800080" stroke-width="1.15" fill="none"/>
<path d="M418.1 215.6L421.6 219.1L418.1 222.6L414.6 219.1Z" fill="#800080" stroke="#000" stroke-width="0.7"/>
<path d="M461.7 190.7V234.0M459.2 190.7h5M459.2 234.0h5" stroke="#000080" stroke-width="1.15" fill="none"/>
<path d="M461.7 218.4L465.3 211.7L458.1 211.7Z" fill="#000080" stroke="#000" stroke-width="0.7"/>
<path d="M392.0 216.4V232.5M389.5 216.4h5M389.5 232.5h5" stroke="#0000ff" stroke-width="1.15" fill="none"/>
<rect x="388.9" y="221.6" width="6.2" height="6.2" fill="#0000ff" stroke="#000" stroke-width="0.7"/>
<path d="M488.6 238.5V265.0M486.1 238.5h5M486.1 265.0h5" stroke="#ff0000" stroke-width="1.15" fill="none"/>
<path d="M483.9 251.7L493.3 251.7M485.3 248.3L491.9 255.0M488.6 247.0L488.6 256.4M491.9 248.3L485.3 255.0" stroke="#ff0000" stroke-width="1.8" fill="none"/>
<path d="M447.8 194.3V230.7M445.3 194.3h5M445.3 230.7h5" stroke="#008000" stroke-width="1.15" fill="none"/>
<path d="M447.8 209.0L451.4 215.7L444.2 215.7Z" fill="#008000" stroke="#000" stroke-width="0.7"/>
<path d="M176.7 181.7V201.2M174.2 181.7h5M174.2 201.2h5" stroke="#000080" stroke-width="1.15" fill="none"/>
<path d="M176.7 188.2L180.2 191.7L176.7 195.2L173.2 191.7Z" fill="#000080" stroke="#000" stroke-width="0.7"/>
<path d="M211.5 221.2V260.6M209.0 221.2h5M209.0 260.6h5" stroke="#008080" stroke-width="1.15" fill="none"/>
<path d="M207.3 239.9H215.7M211.5 235.7V244.1" stroke="#008080" stroke-width="2.2" fill="none"/>
<path d="M191.5 207.5V227.3M189.0 207.5h5M189.0 227.3h5" stroke="#0000ff" stroke-width="1.15" fill="none"/>
<rect x="188.4" y="214.6" width="6.2" height="6.2" fill="#0000ff" stroke="#000" stroke-width="0.7"/>
<path d="M420.4 184.7V221.3M417.9 184.7h5M417.9 221.3h5" stroke="#ff0000" stroke-width="1.15" fill="none"/>
<rect x="417.3" y="199.8" width="6.2" height="6.2" fill="#ff0000" stroke="#000" stroke-width="0.7"/>
<path d="M362.8 204.5V223.0M360.3 204.5h5M360.3 223.0h5" stroke="#008000" stroke-width="1.15" fill="none"/>
<path d="M362.8 216.9L366.4 210.2L359.2 210.2Z" fill="#008000" stroke="#000" stroke-width="0.7"/>
<path d="M378.4 210.1V228.0M375.9 210.1h5M375.9 228.0h5" stroke="#800000" stroke-width="1.15" fill="none"/>
<circle cx="378.4" cy="219.6" r="3.2" fill="#800000" stroke="#000" stroke-width="0.7"/>
<path d="M273.6 187.2V206.1M271.1 187.2h5M271.1 206.1h5" stroke="#008000" stroke-width="1.15" fill="none"/>
<path d="M273.6 193.6L277.2 200.3L270.0 200.3Z" fill="#008000" stroke="#000" stroke-width="0.7"/>
<path d="M375.5 205.0V245.3M373.0 205.0h5M373.0 245.3h5" stroke="#008080" stroke-width="1.15" fill="none"/>
<path d="M371.3 225.5H379.7M375.5 221.3V229.7" stroke="#008080" stroke-width="2.2" fill="none"/>
<path d="M587.2 183.9V222.3M584.7 183.9h5M584.7 222.3h5" stroke="#008080" stroke-width="1.15" fill="none"/>
<path d="M583.0 203.8H591.4M587.2 199.6V208.0" stroke="#008080" stroke-width="2.2" fill="none"/>
<path d="M345.1 182.9V208.7M342.6 182.9h5M342.6 208.7h5" stroke="#0000ff" stroke-width="1.15" fill="none"/>
<rect x="342.0" y="194.0" width="6.2" height="6.2" fill="#0000ff" stroke="#000" stroke-width="0.7"/>
<path d="M466.0 223.6V250.1M463.5 223.6h5M463.5 250.1h5" stroke="#008000" stroke-width="1.15" fill="none"/>
<path d="M466.0 239.5L469.6 232.8L462.4 232.8Z" fill="#008000" stroke="#000" stroke-width="0.7"/>
<path d="M377.6 220.7V250.4M375.1 220.7h5M375.1 250.4h5" stroke="#800080" stroke-width="1.15" fill="none"/>
<path d="M377.6 231.2L381.1 234.7L377.6 238.2L374.1 234.7Z" fill="#800080" stroke="#000" stroke-width="0.7"/>
<path d="M240.7 172.8V234.6M238.2 172.8h5M238.2 234.6h5" stroke="#ff0000" stroke-width="1.15" fill="none"/>
<path d="M236.0 207.2L245.4 207.2M237.3 203.9L244.0 210.5M240.7 202.5L240.7 211.9M244.0 203.9L237.3 210.5" stroke="#ff0000" stroke-width="1.8" fill="none"/>
<path d="M317.3 161.2V174.6M314.8 161.2h5M314.8 174.6h5" stroke="#0000ff" stroke-width="1.15" fill="none"/>
<rect x="314.2" y="164.4" width="6.2" height="6.2" fill="#0000ff" stroke="#000" stroke-width="0.7"/>
<path d="M416.3 194.3V223.8M413.8 194.3h5M413.8 223.8h5" stroke="#0000ff" stroke-width="1.15" fill="none"/>
<circle cx="416.3" cy="207.8" r="3.2" fill="#0000ff" stroke="#000" stroke-width="0.7"/>
<path d="M250.8 187.6V212.3M248.3 187.6h5M248.3 212.3h5" stroke="#0000ff" stroke-width="1.15" fill="none"/>
<circle cx="250.8" cy="199.9" r="3.2" fill="#0000ff" stroke="#000" stroke-width="0.7"/>
<path d="M324.6 174.6V198.5M322.1 174.6h5M322.1 198.5h5" stroke="#000000" stroke-width="1.15" fill="none"/>
<circle cx="324.6" cy="187.7" r="3.2" fill="#000000" stroke="#000" stroke-width="0.7"/>
<path d="M332.1 168.3V204.1M329.6 168.3h5M329.6 204.1h5" stroke="#800000" stroke-width="1.15" fill="none"/>
<circle cx="332.1" cy="186.2" r="3.2" fill="#800000" stroke="#000" stroke-width="0.7"/>
<path d="M193.9 204.8V226.2M191.4 204.8h5M191.4 226.2h5" stroke="#000080" stroke-width="1.15" fill="none"/>
<path d="M193.9 212.1L197.4 215.6L193.9 219.1L190.4 215.6Z" fill="#000080" stroke="#000" stroke-width="0.7"/>
<path d="M233.9 182.9V208.2M231.4 182.9h5M231.4 208.2h5" stroke="#0000ff" stroke-width="1.15" fill="none"/>
<circle cx="233.9" cy="196.4" r="3.2" fill="#0000ff" stroke="#000" stroke-width="0.7"/>
<path d="M105.0 166.8V186.1M102.5 166.8h5M102.5 186.1h5" stroke="#008000" stroke-width="1.15" fill="none"/>
<path d="M105.0 173.2L108.6 179.9L101.4 179.9Z" fill="#008000" stroke="#000" stroke-width="0.7"/>
<path d="M424.3 212.0V231.2M421.8 212.0h5M421.8 231.2h5" stroke="#800000" stroke-width="1.15" fill="none"/>
<circle cx="424.3" cy="221.7" r="3.2" fill="#800000" stroke="#000" stroke-width="0.7"/>
<path d="M550.4 200.5V221.7M547.9 200.5h5M547.9 221.7h5" stroke="#ff0000" stroke-width="1.15" fill="none"/>
<path d="M545.7 211.4L555.1 211.4M547.1 208.1L553.7 214.8M550.4 206.7L550.4 216.1M553.7 208.1L547.1 214.8" stroke="#ff0000" stroke-width="1.8" fill="none"/>
<path d="M136.8 186.8V214.4M134.3 186.8h5M134.3 214.4h5" stroke="#000080" stroke-width="1.15" fill="none"/>
<path d="M136.8 199.1L140.3 202.6L136.8 206.1L133.3 202.6Z" fill="#000080" stroke="#000" stroke-width="0.7"/>
<path d="M448.6 202.8V233.9M446.1 202.8h5M446.1 233.9h5" stroke="#0000ff" stroke-width="1.15" fill="none"/>
<rect x="445.5" y="216.3" width="6.2" height="6.2" fill="#0000ff" stroke="#000" stroke-width="0.7"/>
<path d="M445.5 187.0V225.0M443.0 187.0h5M443.0 225.0h5" stroke="#008000" stroke-width="1.15" fill="none"/>
<path d="M445.5 200.3L449.1 207.0L441.9 207.0Z" fill="#008000" stroke="#000" stroke-width="0.7"/>
<path d="M317.7 157.8V172.6M315.2 157.8h5M315.2 172.6h5" stroke="#008000" stroke-width="1.15" fill="none"/>
<path d="M317.7 168.9L321.3 162.2L314.1 162.2Z" fill="#008000" stroke="#000" stroke-width="0.7"/>
<path d="M347.2 198.2V219.8M344.7 198.2h5M344.7 219.8h5" stroke="#008000" stroke-width="1.15" fill="none"/>
<path d="M347.2 205.4L350.8 212.1L343.6 212.1Z" fill="#008000" stroke="#000" stroke-width="0.7"/>
<path d="M123.6 179.2V197.1M121.1 179.2h5M121.1 197.1h5" stroke="#000000" stroke-width="1.15" fill="none"/>
<circle cx="123.6" cy="188.3" r="3.2" fill="#000000" stroke="#000" stroke-width="0.7"/>
<path d="M427.7 198.5V224.0M425.2 198.5h5M425.2 224.0h5" stroke="#000080" stroke-width="1.15" fill="none"/>
<path d="M427.7 213.4L431.3 206.7L424.1 206.7Z" fill="#000080" stroke="#000" stroke-width="0.7"/>
<path d="M232.7 192.3V218.0M230.2 192.3h5M230.2 218.0h5" stroke="#008000" stroke-width="1.15" fill="none"/>
<path d="M232.7 202.3L236.3 209.0L229.1 209.0Z" fill="#008000" stroke="#000" stroke-width="0.7"/>
<path d="M130.7 163.3V182.4M128.2 163.3h5M128.2 182.4h5" stroke="#800080" stroke-width="1.15" fill="none"/>
<path d="M130.7 168.8L134.2 172.3L130.7 175.8L127.2 172.3Z" fill="#800080" stroke="#000" stroke-width="0.7"/>
<path d="M302.2 161.2V190.9M299.7 161.2h5M299.7 190.9h5" stroke="#0000ff" stroke-width="1.15" fill="none"/>
<circle cx="302.2" cy="176.7" r="3.2" fill="#0000ff" stroke="#000" stroke-width="0.7"/>
<path d="M315.8 167.3V188.9M313.3 167.3h5M313.3 188.9h5" stroke="#000080" stroke-width="1.15" fill="none"/>
<path d="M315.8 174.1L319.3 177.6L315.8 181.1L312.3 177.6Z" fill="#000080" stroke="#000" stroke-width="0.7"/>
<path d="M331.3 177.8V202.9M328.8 177.8h5M328.8 202.9h5" stroke="#ff0000" stroke-width="1.15" fill="none"/>
<path d="M326.6 189.6L336.0 189.6M327.9 186.3L334.6 193.0M331.3 184.9L331.3 194.3M334.6 186.3L327.9 193.0" stroke="#ff0000" stroke-width="1.8" fill="none"/>
<path d="M349.9 175.2V191.4M347.4 175.2h5M347.4 191.4h5" stroke="#ff0000" stroke-width="1.15" fill="none"/>
<rect x="346.8" y="180.8" width="6.2" height="6.2" fill="#ff0000" stroke="#000" stroke-width="0.7"/>
<path d="M224.8 190.8V209.3M222.3 190.8h5M222.3 209.3h5" stroke="#000080" stroke-width="1.15" fill="none"/>
<path d="M224.8 196.5L228.3 200.0L224.8 203.5L221.3 200.0Z" fill="#000080" stroke="#000" stroke-width="0.7"/>
<path d="M117.2 189.4V224.4M114.7 189.4h5M114.7 224.4h5" stroke="#000080" stroke-width="1.15" fill="none"/>
<path d="M117.2 210.6L120.8 203.9L113.6 203.9Z" fill="#000080" stroke="#000" stroke-width="0.7"/>
<path d="M451.7 221.0V240.2M449.2 221.0h5M449.2 240.2h5" stroke="#0000ff" stroke-width="1.15" fill="none"/>
<rect x="448.6" y="226.9" width="6.2" height="6.2" fill="#0000ff" stroke="#000" stroke-width="0.7"/>
<path d="M417.0 200.7V219.3M414.5 200.7h5M414.5 219.3h5" stroke="#ff0000" stroke-width="1.15" fill="none"/>
<path d="M412.3 210.1L421.7 210.1M413.7 206.8L420.3 213.5M417.0 205.4L417.0 214.8M420.3 206.8L413.7 213.5" stroke="#ff0000" stroke-width="1.8" fill="none"/>
<path d="M141.0 167.9V200.9M138.5 167.9h5M138.5 200.9h5" stroke="#000080" stroke-width="1.15" fill="none"/>
<path d="M141.0 178.7L144.5 182.2L141.0 185.7L137.5 182.2Z" fill="#000080" stroke="#000" stroke-width="0.7"/>
<path d="M134.2 189.7V223.6M131.7 189.7h5M131.7 223.6h5" stroke="#0000ff" stroke-width="1.15" fill="none"/>
<circle cx="134.2" cy="207.1" r="3.2" fill="#0000ff" stroke="#000" stroke-width="0.7"/>
<path d="M422.3 185.6V248.0M419.8 185.6h5M419.8 248.0h5" stroke="#808080" stroke-width="1.15" fill="none"/>
<path d="M417.6 215.6L427.0 215.6M419.0 212.3L425.7 218.9M422.3 210.9L422.3 220.3M425.7 212.3L419.0 218.9" stroke="#808080" stroke-width="1.8" fill="none"/>
<path d="M491.1 216.1V240.2M488.6 216.1h5M488.6 240.2h5" stroke="#0000ff" stroke-width="1.15" fill="none"/>
<rect x="488.0" y="224.8" width="6.2" height="6.2" fill="#0000ff" stroke="#000" stroke-width="0.7"/>
<path d="M137.0 188.7V205.7M134.5 188.7h5M134.5 205.7h5" stroke="#000080" stroke-width="1.15" fill="none"/>
<path d="M137.0 201.1L140.6 194.4L133.4 194.4Z" fill="#000080" stroke="#000" stroke-width="0.7"/>
<path d="M334.9 177.6V209.3M332.4 177.6h5M332.4 209.3h5" stroke="#800000" stroke-width="1.15" fill="none"/>
<path d="M334.9 188.3L338.5 195.0L331.3 195.0Z" fill="#800000" stroke="#000" stroke-width="0.7"/>
<path d="M380.4 200.5V228.2M377.9 200.5h5M377.9 228.2h5" stroke="#800000" stroke-width="1.15" fill="none"/>
<circle cx="380.4" cy="214.1" r="3.2" fill="#800000" stroke="#000" stroke-width="0.7"/>
<path d="M499.7 199.7V216.7M497.2 199.7h5M497.2 216.7h5" stroke="#ff0000" stroke-width="1.15" fill="none"/>
<rect x="496.6" y="204.3" width="6.2" height="6.2" fill="#ff0000" stroke="#000" stroke-width="0.7"/>
<path d="M394.6 202.8V221.8M392.1 202.8h5M392.1 221.8h5" stroke="#ff0000" stroke-width="1.15" fill="none"/>
<rect x="391.5" y="209.3" width="6.2" height="6.2" fill="#ff0000" stroke="#000" stroke-width="0.7"/>
<path d="M296.4 177.4V205.6M293.9 177.4h5M293.9 205.6h5" stroke="#008000" stroke-width="1.15" fill="none"/>
<path d="M296.4 187.3L300.0 194.0L292.8 194.0Z" fill="#008000" stroke="#000" stroke-width="0.7"/>
<path d="M440.6 194.2V223.6M438.1 194.2h5M438.1 223.6h5" stroke="#ff0000" stroke-width="1.15" fill="none"/>
<path d="M435.9 207.5L445.3 207.5M437.3 204.2L443.9 210.8M440.6 202.8L440.6 212.2M443.9 204.2L437.3 210.8" stroke="#ff0000" stroke-width="1.8" fill="none"/>
<path d="M211.5 192.5V226.1M209.0 192.5h5M209.0 226.1h5" stroke="#008000" stroke-width="1.15" fill="none"/>
<path d="M211.5 205.1L215.1 211.8L207.9 211.8Z" fill="#008000" stroke="#000" stroke-width="0.7"/>
<path d="M468.1 202.4V220.5M465.6 202.4h5M465.6 220.5h5" stroke="#800000" stroke-width="1.15" fill="none"/>
<path d="M468.1 207.5L471.7 214.2L464.5 214.2Z" fill="#800000" stroke="#000" stroke-width="0.7"/>
<path d="M578.5 166.1V183.7M576.0 166.1h5M576.0 183.7h5" stroke="#0000ff" stroke-width="1.15" fill="none"/>
<circle cx="578.5" cy="174.4" r="3.2" fill="#0000ff" stroke="#000" stroke-width="0.7"/>
<path d="M254.5 208.1V232.4M252.0 208.1h5M252.0 232.4h5" stroke="#000000" stroke-width="1.15" fill="none"/>
<circle cx="254.5" cy="221.3" r="3.2" fill="#000000" stroke="#000" stroke-width="0.7"/>
<path d="M498.9 208.3V231.3M496.4 208.3h5M496.4 231.3h5" stroke="#008000" stroke-width="1.15" fill="none"/>
<path d="M498.9 223.5L502.5 216.8L495.3 216.8Z" fill="#008000" stroke="#000" stroke-width="0.7"/>
<path d="M187.1 211.9V261.1M184.6 211.9h5M184.6 261.1h5" stroke="#0000ff" stroke-width="1.15" fill="none"/>
<rect x="184.0" y="230.7" width="6.2" height="6.2" fill="#0000ff" stroke="#000" stroke-width="0.7"/>
<path d="M425.6 205.7V232.4M423.1 205.7h5M423.1 232.4h5" stroke="#808080" stroke-width="1.15" fill="none"/>
<path d="M420.9 218.8L430.3 218.8M422.3 215.5L428.9 222.1M425.6 214.1L425.6 223.5M428.9 215.5L422.3 222.1" stroke="#808080" stroke-width="1.8" fill="none"/>
<path d="M366.1 194.9V223.7M363.6 194.9h5M363.6 223.7h5" stroke="#008000" stroke-width="1.15" fill="none"/>
<path d="M366.1 212.0L369.7 205.3L362.5 205.3Z" fill="#008000" stroke="#000" stroke-width="0.7"/>
<path d="M157.5 184.9V214.0M155.0 184.9h5M155.0 214.0h5" stroke="#800080" stroke-width="1.15" fill="none"/>
<path d="M157.5 197.2L161.0 200.7L157.5 204.2L154.0 200.7Z" fill="#800080" stroke="#000" stroke-width="0.7"/>
<path d="M221.6 193.4V208.1M219.1 193.4h5M219.1 208.1h5" stroke="#ff0000" stroke-width="1.15" fill="none"/>
<path d="M216.9 201.1L226.3 201.1M218.3 197.8L224.9 204.4M221.6 196.4L221.6 205.8M224.9 197.8L218.3 204.4" stroke="#ff0000" stroke-width="1.8" fill="none"/>
<path d="M168.7 176.3V206.3M166.2 176.3h5M166.2 206.3h5" stroke="#000080" stroke-width="1.15" fill="none"/>
<path d="M168.7 189.5L172.2 193.0L168.7 196.5L165.2 193.0Z" fill="#000080" stroke="#000" stroke-width="0.7"/>
<path d="M252.5 199.8V235.7M250.0 199.8h5M250.0 235.7h5" stroke="#000080" stroke-width="1.15" fill="none"/>
<path d="M252.5 221.9L256.1 215.2L248.9 215.2Z" fill="#000080" stroke="#000" stroke-width="0.7"/>
<path d="M220.5 186.9V226.7M218.0 186.9h5M218.0 226.7h5" stroke="#008000" stroke-width="1.15" fill="none"/>
<path d="M220.5 212.7L224.1 206.0L216.9 206.0Z" fill="#008000" stroke="#000" stroke-width="0.7"/>
<path d="M415.1 194.0V216.9M412.6 194.0h5M412.6 216.9h5" stroke="#000080" stroke-width="1.15" fill="none"/>
<path d="M415.1 201.2L418.6 204.7L415.1 208.2L411.6 204.7Z" fill="#000080" stroke="#000" stroke-width="0.7"/>
<path d="M250.9 185.8V207.3M248.4 185.8h5M248.4 207.3h5" stroke="#0000ff" stroke-width="1.15" fill="none"/>
<rect x="247.8" y="194.5" width="6.2" height="6.2" fill="#0000ff" stroke="#000" stroke-width="0.7"/>
<path d="M202.5 215.4V252.3M200.0 215.4h5M200.0 252.3h5" stroke="#800000" stroke-width="1.15" fill="none"/>
<circle cx="202.5" cy="233.3" r="3.2" fill="#800000" stroke="#000" stroke-width="0.7"/>
<path d="M560.1 196.8V230.4M557.6 196.8h5M557.6 230.4h5" stroke="#800000" stroke-width="1.15" fill="none"/>
<circle cx="560.1" cy="213.3" r="3.2" fill="#800000" stroke="#000" stroke-width="0.7"/>
<path d="M131.5 185.4V202.8M129.0 185.4h5M129.0 202.8h5" stroke="#ff0000" stroke-width="1.15" fill="none"/>
<path d="M126.8 194.2L136.2 194.2M128.2 190.9L134.8 197.5M131.5 189.5L131.5 198.9M134.8 190.9L128.2 197.5" stroke="#ff0000" stroke-width="1.8" fill="none"/>
<path d="M430.0 189.6V208.7M427.5 189.6h5M427.5 208.7h5" stroke="#008000" stroke-width="1.15" fill="none"/>
<path d="M430.0 195.5L433.6 202.2L426.4 202.2Z" fill="#008000" stroke="#000" stroke-width="0.7"/>
<path d="M194.6 178.2V224.5M192.1 178.2h5M192.1 224.5h5" stroke="#800000" stroke-width="1.15" fill="none"/>
<circle cx="194.6" cy="202.1" r="3.2" fill="#800000" stroke="#000" stroke-width="0.7"/>
<path d="M321.8 181.2V211.5M319.3 181.2h5M319.3 211.5h5" stroke="#000080" stroke-width="1.15" fill="none"/>
<path d="M321.8 198.2L325.4 191.5L318.2 191.5Z" fill="#000080" stroke="#000" stroke-width="0.7"/>
<path d="M506.3 181.4V261.4M503.8 181.4h5M503.8 261.4h5" stroke="#800000" stroke-width="1.15" fill="none"/>
<circle cx="506.3" cy="219.3" r="3.2" fill="#800000" stroke="#000" stroke-width="0.7"/>
<path d="M244.3 188.6V213.9M241.8 188.6h5M241.8 213.9h5" stroke="#ff0000" stroke-width="1.15" fill="none"/>
<path d="M239.6 200.8L249.0 200.8M241.0 197.5L247.6 204.1M244.3 196.1L244.3 205.5M247.6 197.5L241.0 204.1" stroke="#ff0000" stroke-width="1.8" fill="none"/>
<path d="M322.5 180.2V203.9M320.0 180.2h5M320.0 203.9h5" stroke="#0000ff" stroke-width="1.15" fill="none"/>
<rect x="319.4" y="188.8" width="6.2" height="6.2" fill="#0000ff" stroke="#000" stroke-width="0.7"/>
<path d="M164.5 177.0V200.5M162.0 177.0h5M162.0 200.5h5" stroke="#ff0000" stroke-width="1.15" fill="none"/>
<rect x="161.4" y="185.9" width="6.2" height="6.2" fill="#ff0000" stroke="#000" stroke-width="0.7"/>
<path d="M301.0 158.3V200.8M298.5 158.3h5M298.5 200.8h5" stroke="#000080" stroke-width="1.15" fill="none"/>
<path d="M301.0 182.4L304.6 175.7L297.4 175.7Z" fill="#000080" stroke="#000" stroke-width="0.7"/>
<path d="M348.0 200.1V218.0M345.5 200.1h5M345.5 218.0h5" stroke="#0000ff" stroke-width="1.15" fill="none"/>
<rect x="344.9" y="205.8" width="6.2" height="6.2" fill="#0000ff" stroke="#000" stroke-width="0.7"/>
<path d="M381.4 205.3V220.2M378.9 205.3h5M378.9 220.2h5" stroke="#800000" stroke-width="1.15" fill="none"/>
<circle cx="381.4" cy="213.6" r="3.2" fill="#800000" stroke="#000" stroke-width="0.7"/>
<path d="M430.2 194.1V214.1M427.7 194.1h5M427.7 214.1h5" stroke="#000080" stroke-width="1.15" fill="none"/>
<path d="M430.2 207.7L433.8 201.0L426.6 201.0Z" fill="#000080" stroke="#000" stroke-width="0.7"/>
<path d="M369.6 199.0V216.3M367.1 199.0h5M367.1 216.3h5" stroke="#ff0000" stroke-width="1.15" fill="none"/>
<path d="M364.9 208.4L374.3 208.4M366.2 205.0L372.9 211.7M369.6 203.7L369.6 213.1M372.9 205.0L366.2 211.7" stroke="#ff0000" stroke-width="1.8" fill="none"/>
<path d="M300.2 155.8V189.5M297.7 155.8h5M297.7 189.5h5" stroke="#000000" stroke-width="1.15" fill="none"/>
<circle cx="300.2" cy="174.1" r="3.2" fill="#000000" stroke="#000" stroke-width="0.7"/>
<path d="M224.7 190.7V216.7M222.2 190.7h5M222.2 216.7h5" stroke="#008000" stroke-width="1.15" fill="none"/>
<path d="M224.7 208.4L228.3 201.7L221.1 201.7Z" fill="#008000" stroke="#000" stroke-width="0.7"/>
<path d="M500.3 215.4V240.9M497.8 215.4h5M497.8 240.9h5" stroke="#ff0000" stroke-width="1.15" fill="none"/>
<path d="M495.6 228.6L505.0 228.6M496.9 225.2L503.6 231.9M500.3 223.9L500.3 233.3M503.6 225.2L496.9 231.9" stroke="#ff0000" stroke-width="1.8" fill="none"/>
<path d="M555.1 178.7V191.5M552.6 178.7h5M552.6 191.5h5" stroke="#ff0000" stroke-width="1.15" fill="none"/>
<path d="M550.4 185.1L559.8 185.1M551.8 181.8L558.5 188.4M555.1 180.4L555.1 189.8M558.5 181.8L551.8 188.4" stroke="#ff0000" stroke-width="1.8" fill="none"/>
<path d="M138.1 176.4V200.2M135.6 176.4h5M135.6 200.2h5" stroke="#800000" stroke-width="1.15" fill="none"/>
<circle cx="138.1" cy="187.3" r="3.2" fill="#800000" stroke="#000" stroke-width="0.7"/>
<path d="M272.4 185.4V211.9M269.9 185.4h5M269.9 211.9h5" stroke="#800080" stroke-width="1.15" fill="none"/>
<path d="M268.2 197.8H276.6M272.4 193.6V202.0" stroke="#800080" stroke-width="2.2" fill="none"/>
<path d="M506.3 192.2V226.7M503.8 192.2h5M503.8 226.7h5" stroke="#008000" stroke-width="1.15" fill="none"/>
<path d="M506.3 207.9L509.9 214.6L502.7 214.6Z" fill="#008000" stroke="#000" stroke-width="0.7"/>
<path d="M213.3 187.9V222.9M210.8 187.9h5M210.8 222.9h5" stroke="#0000ff" stroke-width="1.15" fill="none"/>
<rect x="210.2" y="204.8" width="6.2" height="6.2" fill="#0000ff" stroke="#000" stroke-width="0.7"/>
<path d="M160.2 201.0V220.2M157.7 201.0h5M157.7 220.2h5" stroke="#0000ff" stroke-width="1.15" fill="none"/>
<rect x="157.1" y="207.7" width="6.2" height="6.2" fill="#0000ff" stroke="#000" stroke-width="0.7"/>
<path d="M112.3 167.2V195.7M109.8 167.2h5M109.8 195.7h5" stroke="#0000ff" stroke-width="1.15" fill="none"/>
<rect x="109.2" y="179.3" width="6.2" height="6.2" fill="#0000ff" stroke="#000" stroke-width="0.7"/>
<path d="M403.7 196.2V227.2M401.2 196.2h5M401.2 227.2h5" stroke="#800080" stroke-width="1.15" fill="none"/>
<path d="M403.7 208.7L407.2 212.2L403.7 215.7L400.2 212.2Z" fill="#800080" stroke="#000" stroke-width="0.7"/>
<path d="M487.0 215.1V236.9M484.5 215.1h5M484.5 236.9h5" stroke="#0000ff" stroke-width="1.15" fill="none"/>
<rect x="483.9" y="223.5" width="6.2" height="6.2" fill="#0000ff" stroke="#000" stroke-width="0.7"/>
<path d="M293.3 167.8V204.2M290.8 167.8h5M290.8 204.2h5" stroke="#008000" stroke-width="1.15" fill="none"/>
<path d="M293.3 181.6L296.9 188.3L289.7 188.3Z" fill="#008000" stroke="#000" stroke-width="0.7"/>
<path d="M301.1 161.9V195.2M298.6 161.9h5M298.6 195.2h5" stroke="#ff0000" stroke-width="1.15" fill="none"/>
<path d="M296.4 179.4L305.8 179.4M297.7 176.1L304.4 182.7M301.1 174.7L301.1 184.1M304.4 176.1L297.7 182.7" stroke="#ff0000" stroke-width="1.8" fill="none"/>
<path d="M128.4 187.5V203.9M125.9 187.5h5M125.9 203.9h5" stroke="#800000" stroke-width="1.15" fill="none"/>
<path d="M128.4 191.7L132.0 198.4L124.8 198.4Z" fill="#800000" stroke="#000" stroke-width="0.7"/>
<path d="M131.1 174.2V195.4M128.6 174.2h5M128.6 195.4h5" stroke="#800000" stroke-width="1.15" fill="none"/>
<circle cx="131.1" cy="184.7" r="3.2" fill="#800000" stroke="#000" stroke-width="0.7"/>
<path d="M241.1 197.1V211.3M238.6 197.1h5M238.6 211.3h5" stroke="#000000" stroke-width="1.15" fill="none"/>
<circle cx="241.1" cy="204.3" r="3.2" fill="#000000" stroke="#000" stroke-width="0.7"/>
<path d="M262.2 192.4V224.2M259.7 192.4h5M259.7 224.2h5" stroke="#000080" stroke-width="1.15" fill="none"/>
<path d="M262.2 213.8L265.8 207.1L258.6 207.1Z" fill="#000080" stroke="#000" stroke-width="0.7"/>
<path d="M153.6 168.4V195.1M151.1 168.4h5M151.1 195.1h5" stroke="#000080" stroke-width="1.15" fill="none"/>
<path d="M153.6 177.3L157.1 180.8L153.6 184.3L150.1 180.8Z" fill="#000080" stroke="#000" stroke-width="0.7"/>
<path d="M165.1 173.2V200.4M162.6 173.2h5M162.6 200.4h5" stroke="#ff0000" stroke-width="1.15" fill="none"/>
<path d="M160.4 186.2L169.8 186.2M161.7 182.8L168.4 189.5M165.1 181.5L165.1 190.9M168.4 182.8L161.7 189.5" stroke="#ff0000" stroke-width="1.8" fill="none"/>
<path d="M404.2 185.5V198.9M401.7 185.5h5M401.7 198.9h5" stroke="#000080" stroke-width="1.15" fill="none"/>
<path d="M404.2 189.3L407.7 192.8L404.2 196.3L400.7 192.8Z" fill="#000080" stroke="#000" stroke-width="0.7"/>
<path d="M593.9 195.2V225.1M591.4 195.2h5M591.4 225.1h5" stroke="#0000ff" stroke-width="1.15" fill="none"/>
<circle cx="593.9" cy="211.2" r="3.2" fill="#0000ff" stroke="#000" stroke-width="0.7"/>
<path d="M419.3 193.7V211.1M416.8 193.7h5M416.8 211.1h5" stroke="#800000" stroke-width="1.15" fill="none"/>
<circle cx="419.3" cy="203.3" r="3.2" fill="#800000" stroke="#000" stroke-width="0.7"/>
<path d="M184.1 189.1V213.0M181.6 189.1h5M181.6 213.0h5" stroke="#0000ff" stroke-width="1.15" fill="none"/>
<rect x="181.0" y="198.3" width="6.2" height="6.2" fill="#0000ff" stroke="#000" stroke-width="0.7"/>
<path d="M194.7 214.4V236.3M192.2 214.4h5M192.2 236.3h5" stroke="#800080" stroke-width="1.15" fill="none"/>
<path d="M194.7 222.5L198.2 226.0L194.7 229.5L191.2 226.0Z" fill="#800080" stroke="#000" stroke-width="0.7"/>
<path d="M388.6 194.9V216.6M386.1 194.9h5M386.1 216.6h5" stroke="#ff0000" stroke-width="1.15" fill="none"/>
<path d="M383.9 206.7L393.3 206.7M385.3 203.4L391.9 210.1M388.6 202.0L388.6 211.4M391.9 203.4L385.3 210.1" stroke="#ff0000" stroke-width="1.8" fill="none"/>
<path d="M386.2 213.5V235.7M383.7 213.5h5M383.7 235.7h5" stroke="#808080" stroke-width="1.15" fill="none"/>
<rect x="383.5" y="222.9" width="5.4" height="5.4" fill="#808080" stroke="#000" stroke-width="1.9"/>
<path d="M520.5 192.1V209.6M518.0 192.1h5M518.0 209.6h5" stroke="#808080" stroke-width="1.15" fill="none"/>
<rect x="517.8" y="197.6" width="5.4" height="5.4" fill="#808080" stroke="#000" stroke-width="1.9"/>
<path d="M358.8 200.3V219.0M356.3 200.3h5M356.3 219.0h5" stroke="#008080" stroke-width="1.15" fill="none"/>
<rect x="356.1" y="207.3" width="5.4" height="5.4" fill="#008080" stroke="#000" stroke-width="1.9"/>
<path d="M552.1 169.1V192.0M549.6 169.1h5M549.6 192.0h5" stroke="#ff0000" stroke-width="1.15" fill="none"/>
<path d="M547.4 180.8L556.8 180.8M548.8 177.4L555.5 184.1M552.1 176.1L552.1 185.5M555.5 177.4L548.8 184.1" stroke="#ff0000" stroke-width="1.8" fill="none"/>
<path d="M524.0 196.1V240.5M521.5 196.1h5M521.5 240.5h5" stroke="#000080" stroke-width="1.15" fill="none"/>
<path d="M524.0 219.8L527.6 213.1L520.4 213.1Z" fill="#000080" stroke="#000" stroke-width="0.7"/>
<path d="M294.5 175.8V218.2M292.0 175.8h5M292.0 218.2h5" stroke="#000080" stroke-width="1.15" fill="none"/>
<path d="M294.5 201.5L298.1 194.8L290.9 194.8Z" fill="#000080" stroke="#000" stroke-width="0.7"/>
<path d="M103.5 150.5V228.2M101.0 150.5h5M101.0 228.2h5" stroke="#800000" stroke-width="1.15" fill="none"/>
<path d="M103.5 187.2L107.1 193.9L99.9 193.9Z" fill="#800000" stroke="#000" stroke-width="0.7"/>
<path d="M517.0 193.3V219.2M514.5 193.3h5M514.5 219.2h5" stroke="#000080" stroke-width="1.15" fill="none"/>
<path d="M517.0 202.0L520.5 205.5L517.0 209.0L513.5 205.5Z" fill="#000080" stroke="#000" stroke-width="0.7"/>
<path d="M113.9 166.9V192.9M111.4 166.9h5M111.4 192.9h5" stroke="#ff0000" stroke-width="1.15" fill="none"/>
<path d="M109.2 180.2L118.6 180.2M110.6 176.9L117.2 183.5M113.9 175.5L113.9 184.9M117.2 176.9L110.6 183.5" stroke="#ff0000" stroke-width="1.8" fill="none"/>
<path d="M358.3 222.2V250.4M355.8 222.2h5M355.8 250.4h5" stroke="#800080" stroke-width="1.15" fill="none"/>
<path d="M358.3 231.6L361.8 235.1L358.3 238.6L354.8 235.1Z" fill="#800080" stroke="#000" stroke-width="0.7"/>
<path d="M268.5 185.9V206.4M266.0 185.9h5M266.0 206.4h5" stroke="#ff0000" stroke-width="1.15" fill="none"/>
<rect x="265.4" y="193.7" width="6.2" height="6.2" fill="#ff0000" stroke="#000" stroke-width="0.7"/>
<path d="M492.3 241.4V266.5M489.8 241.4h5M489.8 266.5h5" stroke="#ff0000" stroke-width="1.15" fill="none"/>
<path d="M487.6 253.4L497.0 253.4M489.0 250.1L495.7 256.7M492.3 248.7L492.3 258.1M495.7 250.1L489.0 256.7" stroke="#ff0000" stroke-width="1.8" fill="none"/>
<path d="M453.7 207.0V225.3M451.2 207.0h5M451.2 225.3h5" stroke="#800000" stroke-width="1.15" fill="none"/>
<circle cx="453.7" cy="216.5" r="3.2" fill="#800000" stroke="#000" stroke-width="0.7"/>
<path d="M273.8 191.6V207.8M271.3 191.6h5M271.3 207.8h5" stroke="#800080" stroke-width="1.15" fill="none"/>
<path d="M269.6 199.3H278.0M273.8 195.1V203.5" stroke="#800080" stroke-width="2.2" fill="none"/>
<path d="M445.7 192.3V211.3M443.2 192.3h5M443.2 211.3h5" stroke="#800080" stroke-width="1.15" fill="none"/>
<path d="M441.5 201.2H449.9M445.7 197.0V205.4" stroke="#800080" stroke-width="2.2" fill="none"/>
<path d="M120.5 159.8V201.3M118.0 159.8h5M118.0 201.3h5" stroke="#ff0000" stroke-width="1.15" fill="none"/>
<rect x="117.4" y="179.2" width="6.2" height="6.2" fill="#ff0000" stroke="#000" stroke-width="0.7"/>
<path d="M581.6 177.5V214.3M579.1 177.5h5M579.1 214.3h5" stroke="#008080" stroke-width="1.15" fill="none"/>
<rect x="578.9" y="190.8" width="5.4" height="5.4" fill="#008080" stroke="#000" stroke-width="1.9"/>
<path d="M436.4 198.5V214.1M433.9 198.5h5M433.9 214.1h5" stroke="#000080" stroke-width="1.15" fill="none"/>
<path d="M436.4 202.7L439.9 206.2L436.4 209.7L432.9 206.2Z" fill="#000080" stroke="#000" stroke-width="0.7"/>
<path d="M392.4 189.8V203.9M389.9 189.8h5M389.9 203.9h5" stroke="#808080" stroke-width="1.15" fill="none"/>
<path d="M387.7 197.0L397.1 197.0M389.1 193.7L395.8 200.4M392.4 192.3L392.4 201.7M395.8 193.7L389.1 200.4" stroke="#808080" stroke-width="1.8" fill="none"/>
<path d="M519.3 187.0V213.6M516.8 187.0h5M516.8 213.6h5" stroke="#800000" stroke-width="1.15" fill="none"/>
<path d="M519.3 195.7L522.9 202.4L515.7 202.4Z" fill="#800000" stroke="#000" stroke-width="0.7"/>
<path d="M432.2 194.6V223.9M429.7 194.6h5M429.7 223.9h5" stroke="#800080" stroke-width="1.15" fill="none"/>
<path d="M432.2 206.6L435.7 210.1L432.2 213.6L428.7 210.1Z" fill="#800080" stroke="#000" stroke-width="0.7"/>
<path d="M310.5 166.7V193.8M308.0 166.7h5M308.0 193.8h5" stroke="#008000" stroke-width="1.15" fill="none"/>
<path d="M310.5 184.4L314.1 177.7L306.9 177.7Z" fill="#008000" stroke="#000" stroke-width="0.7"/>
<path d="M225.9 204.3V225.0M223.4 204.3h5M223.4 225.0h5" stroke="#000080" stroke-width="1.15" fill="none"/>
<path d="M225.9 219.4L229.5 212.7L222.3 212.7Z" fill="#000080" stroke="#000" stroke-width="0.7"/>
<path d="M174.8 189.7V223.5M172.3 189.7h5M172.3 223.5h5" stroke="#800000" stroke-width="1.15" fill="none"/>
<circle cx="174.8" cy="206.1" r="3.2" fill="#800000" stroke="#000" stroke-width="0.7"/>
<path d="M393.3 197.7V237.0M390.8 197.7h5M390.8 237.0h5" stroke="#800000" stroke-width="1.15" fill="none"/>
<path d="M393.3 213.4L396.9 220.1L389.7 220.1Z" fill="#800000" stroke="#000" stroke-width="0.7"/>
<path d="M248.1 198.9V215.5M245.6 198.9h5M245.6 215.5h5" stroke="#008080" stroke-width="1.15" fill="none"/>
<rect x="245.4" y="204.1" width="5.4" height="5.4" fill="#008080" stroke="#000" stroke-width="1.9"/>
<path d="M374.7 216.0V234.5M372.2 216.0h5M372.2 234.5h5" stroke="#000000" stroke-width="1.15" fill="none"/>
<circle cx="374.7" cy="225.3" r="3.2" fill="#000000" stroke="#000" stroke-width="0.7"/>
<path d="M410.1 193.8V216.0M407.6 193.8h5M407.6 216.0h5" stroke="#008080" stroke-width="1.15" fill="none"/>
<path d="M405.9 205.4H414.3M410.1 201.2V209.6" stroke="#008080" stroke-width="2.2" fill="none"/>
<path d="M525.2 175.8V216.1M522.7 175.8h5M522.7 216.1h5" stroke="#800080" stroke-width="1.15" fill="none"/>
<path d="M525.2 194.2L528.7 197.7L525.2 201.2L521.7 197.7Z" fill="#800080" stroke="#000" stroke-width="0.7"/>
<path d="M538.4 172.3V226.6M535.9 172.3h5M535.9 226.6h5" stroke="#ff0000" stroke-width="1.15" fill="none"/>
<rect x="535.3" y="196.8" width="6.2" height="6.2" fill="#ff0000" stroke="#000" stroke-width="0.7"/>
<path d="M103.0 177.0V199.7M100.5 177.0h5M100.5 199.7h5" stroke="#008080" stroke-width="1.15" fill="none"/>
<path d="M98.8 188.0H107.2M103.0 183.8V192.2" stroke="#008080" stroke-width="2.2" fill="none"/>
<path d="M374.5 196.7V218.5M372.0 196.7h5M372.0 218.5h5" stroke="#000080" stroke-width="1.15" fill="none"/>
<path d="M374.5 211.8L378.1 205.1L370.9 205.1Z" fill="#000080" stroke="#000" stroke-width="0.7"/>
<path d="M442.3 204.5V243.0M439.8 204.5h5M439.8 243.0h5" stroke="#ff0000" stroke-width="1.15" fill="none"/>
<rect x="439.2" y="221.8" width="6.2" height="6.2" fill="#ff0000" stroke="#000" stroke-width="0.7"/>
<path d="M530.0 185.4V212.0M527.5 185.4h5M527.5 212.0h5" stroke="#800000" stroke-width="1.15" fill="none"/>
<path d="M530.0 195.1L533.6 201.8L526.4 201.8Z" fill="#800000" stroke="#000" stroke-width="0.7"/>
<path d="M515.2 210.1V235.2M512.7 210.1h5M512.7 235.2h5" stroke="#800080" stroke-width="1.15" fill="none"/>
<path d="M515.2 220.4L518.7 223.9L515.2 227.4L511.7 223.9Z" fill="#800080" stroke="#000" stroke-width="0.7"/>
<path d="M286.1 179.4V202.6M283.6 179.4h5M283.6 202.6h5" stroke="#008000" stroke-width="1.15" fill="none"/>
<path d="M286.1 187.3L289.7 194.0L282.5 194.0Z" fill="#008000" stroke="#000" stroke-width="0.7"/>
<path d="M214.8 190.8V221.0M212.3 190.8h5M212.3 221.0h5" stroke="#008000" stroke-width="1.15" fill="none"/>
<path d="M214.8 201.4L218.4 208.1L211.2 208.1Z" fill="#008000" stroke="#000" stroke-width="0.7"/>
<path d="M198.3 210.2V237.0M195.8 210.2h5M195.8 237.0h5" stroke="#800000" stroke-width="1.15" fill="none"/>
<path d="M198.3 219.4L201.9 226.1L194.7 226.1Z" fill="#800000" stroke="#000" stroke-width="0.7"/>
<path d="M459.6 204.7V236.8M457.1 204.7h5M457.1 236.8h5" stroke="#0000ff" stroke-width="1.15" fill="none"/>
<circle cx="459.6" cy="221.1" r="3.2" fill="#0000ff" stroke="#000" stroke-width="0.7"/>
<path d="M190.5 199.7V215.8M188.0 199.7h5M188.0 215.8h5" stroke="#008000" stroke-width="1.15" fill="none"/>
<path d="M190.5 204.7L194.1 211.4L186.9 211.4Z" fill="#008000" stroke="#000" stroke-width="0.7"/>
<path d="M230.4 184.6V201.6M227.9 184.6h5M227.9 201.6h5" stroke="#800000" stroke-width="1.15" fill="none"/>
<path d="M230.4 188.8L234.0 195.5L226.8 195.5Z" fill="#800000" stroke="#000" stroke-width="0.7"/>
<path d="M185.3 204.3V225.1M182.8 204.3h5M182.8 225.1h5" stroke="#800080" stroke-width="1.15" fill="none"/>
<path d="M181.1 214.7H189.5M185.3 210.5V218.9" stroke="#800080" stroke-width="2.2" fill="none"/>
<path d="M190.6 182.0V223.6M188.1 182.0h5M188.1 223.6h5" stroke="#0000ff" stroke-width="1.15" fill="none"/>
<circle cx="190.6" cy="203.0" r="3.2" fill="#0000ff" stroke="#000" stroke-width="0.7"/>
<path d="M542.5 174.7V192.7M540.0 174.7h5M540.0 192.7h5" stroke="#800080" stroke-width="1.15" fill="none"/>
<path d="M542.5 180.3L546.0 183.8L542.5 187.3L539.0 183.8Z" fill="#800080" stroke="#000" stroke-width="0.7"/>
<path d="M308.1 160.0V181.6M305.6 160.0h5M305.6 181.6h5" stroke="#008000" stroke-width="1.15" fill="none"/>
<path d="M308.1 175.5L311.7 168.8L304.5 168.8Z" fill="#008000" stroke="#000" stroke-width="0.7"/>
<path d="M200.1 188.7V219.1M197.6 188.7h5M197.6 219.1h5" stroke="#000000" stroke-width="1.15" fill="none"/>
<circle cx="200.1" cy="203.4" r="3.2" fill="#000000" stroke="#000" stroke-width="0.7"/>
<path d="M492.3 217.8V246.1M489.8 217.8h5M489.8 246.1h5" stroke="#000000" stroke-width="1.15" fill="none"/>
<circle cx="492.3" cy="232.9" r="3.2" fill="#000000" stroke="#000" stroke-width="0.7"/>
<path d="M567.9 196.4V220.7M565.4 196.4h5M565.4 220.7h5" stroke="#800000" stroke-width="1.15" fill="none"/>
<path d="M567.9 205.6L571.5 212.3L564.3 212.3Z" fill="#800000" stroke="#000" stroke-width="0.7"/>
<path d="M251.3 202.4V222.9M248.8 202.4h5M248.8 222.9h5" stroke="#0000ff" stroke-width="1.15" fill="none"/>
<rect x="248.2" y="209.4" width="6.2" height="6.2" fill="#0000ff" stroke="#000" stroke-width="0.7"/>
<path d="M487.7 224.4V271.7M485.2 224.4h5M485.2 271.7h5" stroke="#008000" stroke-width="1.15" fill="none"/>
<path d="M487.7 250.5L491.3 243.8L484.1 243.8Z" fill="#008000" stroke="#000" stroke-width="0.7"/>
<path d="M415.5 198.1V229.3M413.0 198.1h5M413.0 229.3h5" stroke="#0000ff" stroke-width="1.15" fill="none"/>
<rect x="412.4" y="210.9" width="6.2" height="6.2" fill="#0000ff" stroke="#000" stroke-width="0.7"/>
<path d="M545.2 191.6V209.5M542.7 191.6h5M542.7 209.5h5" stroke="#000080" stroke-width="1.15" fill="none"/>
<path d="M545.2 203.7L548.8 197.0L541.6 197.0Z" fill="#000080" stroke="#000" stroke-width="0.7"/>
<path d="M313.2 173.8V207.8M310.7 173.8h5M310.7 207.8h5" stroke="#000080" stroke-width="1.15" fill="none"/>
<path d="M313.2 187.8L316.7 191.3L313.2 194.8L309.7 191.3Z" fill="#000080" stroke="#000" stroke-width="0.7"/>
<path d="M288.6 192.9V227.3M286.1 192.9h5M286.1 227.3h5" stroke="#ff0000" stroke-width="1.15" fill="none"/>
<path d="M283.9 211.5L293.3 211.5M285.2 208.2L291.9 214.8M288.6 206.8L288.6 216.2M291.9 208.2L285.2 214.8" stroke="#ff0000" stroke-width="1.8" fill="none"/>
<path d="M375.8 196.2V218.2M373.3 196.2h5M373.3 218.2h5" stroke="#808080" stroke-width="1.15" fill="none"/>
<path d="M371.1 207.1L380.5 207.1M372.4 203.8L379.1 210.4M375.8 202.4L375.8 211.8M379.1 203.8L372.4 210.4" stroke="#808080" stroke-width="1.8" fill="none"/>
<path d="M195.9 189.3V214.4M193.4 189.3h5M193.4 214.4h5" stroke="#000000" stroke-width="1.15" fill="none"/>
<circle cx="195.9" cy="201.1" r="3.2" fill="#000000" stroke="#000" stroke-width="0.7"/>
<path d="M212.3 192.8V207.6M209.8 192.8h5M209.8 207.6h5" stroke="#0000ff" stroke-width="1.15" fill="none"/>
<circle cx="212.3" cy="199.6" r="3.2" fill="#0000ff" stroke="#000" stroke-width="0.7"/>
<path d="M548.8 176.8V199.7M546.3 176.8h5M546.3 199.7h5" stroke="#800080" stroke-width="1.15" fill="none"/>
<path d="M544.6 188.6H553.0M548.8 184.4V192.8" stroke="#800080" stroke-width="2.2" fill="none"/>
<path d="M361.9 203.3V219.0M359.4 203.3h5M359.4 219.0h5" stroke="#0000ff" stroke-width="1.15" fill="none"/>
<circle cx="361.9" cy="211.3" r="3.2" fill="#0000ff" stroke="#000" stroke-width="0.7"/>
<path d="M117.1 163.9V188.2M114.6 163.9h5M114.6 188.2h5" stroke="#800080" stroke-width="1.15" fill="none"/>
<path d="M117.1 173.3L120.6 176.8L117.1 180.3L113.6 176.8Z" fill="#800080" stroke="#000" stroke-width="0.7"/>
<path d="M533.4 184.4V209.4M530.9 184.4h5M530.9 209.4h5" stroke="#800000" stroke-width="1.15" fill="none"/>
<path d="M533.4 194.4L537.0 201.1L529.8 201.1Z" fill="#800000" stroke="#000" stroke-width="0.7"/>
<path d="M277.3 182.0V224.2M274.8 182.0h5M274.8 224.2h5" stroke="#000000" stroke-width="1.15" fill="none"/>
<circle cx="277.3" cy="203.7" r="3.2" fill="#000000" stroke="#000" stroke-width="0.7"/>
<path d="M209.3 192.0V206.2M206.8 192.0h5M206.8 206.2h5" stroke="#000080" stroke-width="1.15" fill="none"/>
<path d="M209.3 195.4L212.8 198.9L209.3 202.4L205.8 198.9Z" fill="#000080" stroke="#000" stroke-width="0.7"/>
<path d="M123.2 163.7V236.1M120.7 163.7h5M120.7 236.1h5" stroke="#008000" stroke-width="1.15" fill="none"/>
<path d="M123.2 199.4L126.8 206.1L119.6 206.1Z" fill="#008000" stroke="#000" stroke-width="0.7"/>
<path d="M217.4 189.7V214.8M214.9 189.7h5M214.9 214.8h5" stroke="#000000" stroke-width="1.15" fill="none"/>
<circle cx="217.4" cy="202.3" r="3.2" fill="#000000" stroke="#000" stroke-width="0.7"/>
<path d="M114.7 173.2V199.3M112.2 173.2h5M112.2 199.3h5" stroke="#000080" stroke-width="1.15" fill="none"/>
<path d="M114.7 181.6L118.2 185.1L114.7 188.6L111.2 185.1Z" fill="#000080" stroke="#000" stroke-width="0.7"/>
<path d="M230.9 203.9V230.1M228.4 203.9h5M228.4 230.1h5" stroke="#008000" stroke-width="1.15" fill="none"/>
<path d="M230.9 221.3L234.5 214.6L227.3 214.6Z" fill="#008000" stroke="#000" stroke-width="0.7"/>
<path d="M486.8 229.3V248.3M484.3 229.3h5M484.3 248.3h5" stroke="#ff0000" stroke-width="1.15" fill="none"/>
<path d="M482.1 238.4L491.5 238.4M483.5 235.1L490.2 241.8M486.8 233.7L486.8 243.1M490.2 235.1L483.5 241.8" stroke="#ff0000" stroke-width="1.8" fill="none"/>
<path d="M442.0 209.6V241.3M439.5 209.6h5M439.5 241.3h5" stroke="#000000" stroke-width="1.15" fill="none"/>
<circle cx="442.0" cy="227.3" r="3.2" fill="#000000" stroke="#000" stroke-width="0.7"/>
<path d="M400.9 206.9V243.9M398.4 206.9h5M398.4 243.9h5" stroke="#800080" stroke-width="1.15" fill="none"/>
<path d="M400.9 221.9L404.4 225.4L400.9 228.9L397.4 225.4Z" fill="#800080" stroke="#000" stroke-width="0.7"/>
<path d="M296.2 172.5V200.8M293.7 172.5h5M293.7 200.8h5" stroke="#800080" stroke-width="1.15" fill="none"/>
<path d="M292.0 186.3H300.4M296.2 182.1V190.5" stroke="#800080" stroke-width="2.2" fill="none"/>
<path d="M455.9 188.7V201.7M453.4 188.7h5M453.4 201.7h5" stroke="#0000ff" stroke-width="1.15" fill="none"/>
<rect x="452.8" y="192.3" width="6.2" height="6.2" fill="#0000ff" stroke="#000" stroke-width="0.7"/>
<path d="M489.1 212.8V232.4M486.6 212.8h5M486.6 232.4h5" stroke="#000080" stroke-width="1.15" fill="none"/>
<path d="M489.1 218.9L492.6 222.4L489.1 225.9L485.6 222.4Z" fill="#000080" stroke="#000" stroke-width="0.7"/>
<path d="M356.4 205.2V226.7M353.9 205.2h5M353.9 226.7h5" stroke="#000080" stroke-width="1.15" fill="none"/>
<path d="M356.4 220.0L360.0 213.3L352.8 213.3Z" fill="#000080" stroke="#000" stroke-width="0.7"/>
<path d="M567.3 178.0V195.5M564.8 178.0h5M564.8 195.5h5" stroke="#ff0000" stroke-width="1.15" fill="none"/>
<rect x="564.2" y="183.4" width="6.2" height="6.2" fill="#ff0000" stroke="#000" stroke-width="0.7"/>
<path d="M197.8 220.3V238.5M195.3 220.3h5M195.3 238.5h5" stroke="#800000" stroke-width="1.15" fill="none"/>
<path d="M197.8 224.9L201.4 231.6L194.2 231.6Z" fill="#800000" stroke="#000" stroke-width="0.7"/>
<path d="M462.8 202.2V225.0M460.3 202.2h5M460.3 225.0h5" stroke="#000080" stroke-width="1.15" fill="none"/>
<path d="M462.8 216.8L466.4 210.1L459.2 210.1Z" fill="#000080" stroke="#000" stroke-width="0.7"/>
<path d="M318.2 166.3V185.6M315.7 166.3h5M315.7 185.6h5" stroke="#000080" stroke-width="1.15" fill="none"/>
<path d="M318.2 179.8L321.8 173.1L314.6 173.1Z" fill="#000080" stroke="#000" stroke-width="0.7"/>
<path d="M171.8 193.6V225.6M169.3 193.6h5M169.3 225.6h5" stroke="#008080" stroke-width="1.15" fill="none"/>
<path d="M167.6 209.1H176.0M171.8 204.9V213.3" stroke="#008080" stroke-width="2.2" fill="none"/>
<path d="M178.5 178.6V208.2M176.0 178.6h5M176.0 208.2h5" stroke="#008080" stroke-width="1.15" fill="none"/>
<path d="M174.3 193.6H182.7M178.5 189.4V197.8" stroke="#008080" stroke-width="2.2" fill="none"/>
<path d="M296.5 174.7V190.5M294.0 174.7h5M294.0 190.5h5" stroke="#0000ff" stroke-width="1.15" fill="none"/>
<circle cx="296.5" cy="183.1" r="3.2" fill="#0000ff" stroke="#000" stroke-width="0.7"/>
<path d="M427.4 198.1V217.1M424.9 198.1h5M424.9 217.1h5" stroke="#008000" stroke-width="1.15" fill="none"/>
<path d="M427.4 211.0L431.0 204.3L423.8 204.3Z" fill="#008000" stroke="#000" stroke-width="0.7"/>
<path d="M221.5 192.0V217.3M219.0 192.0h5M219.0 217.3h5" stroke="#ff0000" stroke-width="1.15" fill="none"/>
<path d="M216.8 204.3L226.2 204.3M218.1 200.9L224.8 207.6M221.5 199.6L221.5 209.0M224.8 200.9L218.1 207.6" stroke="#ff0000" stroke-width="1.8" fill="none"/>
<path d="M203.2 208.2V223.8M200.7 208.2h5M200.7 223.8h5" stroke="#000080" stroke-width="1.15" fill="none"/>
<path d="M203.2 218.9L206.8 212.2L199.6 212.2Z" fill="#000080" stroke="#000" stroke-width="0.7"/>
<path d="M232.4 200.6V219.9M229.9 200.6h5M229.9 219.9h5" stroke="#008000" stroke-width="1.15" fill="none"/>
<path d="M232.4 214.2L236.0 207.5L228.8 207.5Z" fill="#008000" stroke="#000" stroke-width="0.7"/>
<path d="M322.7 172.1V193.6M320.2 172.1h5M320.2 193.6h5" stroke="#800000" stroke-width="1.15" fill="none"/>
<circle cx="322.7" cy="182.2" r="3.2" fill="#800000" stroke="#000" stroke-width="0.7"/>
<path d="M368.1 217.5V234.4M365.6 217.5h5M365.6 234.4h5" stroke="#800000" stroke-width="1.15" fill="none"/>
<path d="M368.1 223.0L371.7 229.7L364.5 229.7Z" fill="#800000" stroke="#000" stroke-width="0.7"/>
<path d="M251.3 186.8V211.4M248.8 186.8h5M248.8 211.4h5" stroke="#800000" stroke-width="1.15" fill="none"/>
<circle cx="251.3" cy="200.1" r="3.2" fill="#800000" stroke="#000" stroke-width="0.7"/>
<path d="M378.8 223.4V241.3M376.3 223.4h5M376.3 241.3h5" stroke="#008000" stroke-width="1.15" fill="none"/>
<path d="M378.8 235.8L382.4 229.1L375.2 229.1Z" fill="#008000" stroke="#000" stroke-width="0.7"/>
<path d="M398.6 194.6V215.4M396.1 194.6h5M396.1 215.4h5" stroke="#008080" stroke-width="1.15" fill="none"/>
<rect x="395.9" y="202.2" width="5.4" height="5.4" fill="#008080" stroke="#000" stroke-width="1.9"/>
<path d="M583.2 162.2V184.1M580.7 162.2h5M580.7 184.1h5" stroke="#000000" stroke-width="1.15" fill="none"/>
<circle cx="583.2" cy="173.7" r="3.2" fill="#000000" stroke="#000" stroke-width="0.7"/>
<path d="M239.9 199.5V220.9M237.4 199.5h5M237.4 220.9h5" stroke="#0000ff" stroke-width="1.15" fill="none"/>
<rect x="236.8" y="206.5" width="6.2" height="6.2" fill="#0000ff" stroke="#000" stroke-width="0.7"/>
<path d="M517.5 192.4V218.9M515.0 192.4h5M515.0 218.9h5" stroke="#000080" stroke-width="1.15" fill="none"/>
<path d="M517.5 202.3L521.0 205.8L517.5 209.3L514.0 205.8Z" fill="#000080" stroke="#000" stroke-width="0.7"/>
<path d="M203.3 214.8V238.9M200.8 214.8h5M200.8 238.9h5" stroke="#008000" stroke-width="1.15" fill="none"/>
<path d="M203.3 224.3L206.9 231.0L199.7 231.0Z" fill="#008000" stroke="#000" stroke-width="0.7"/>
<path d="M389.1 191.5V238.5M386.6 191.5h5M386.6 238.5h5" stroke="#ff0000" stroke-width="1.15" fill="none"/>
<rect x="386.0" y="213.2" width="6.2" height="6.2" fill="#ff0000" stroke="#000" stroke-width="0.7"/>
<path d="M387.7 201.3V223.8M385.2 201.3h5M385.2 223.8h5" stroke="#000080" stroke-width="1.15" fill="none"/>
<path d="M387.7 216.5L391.3 209.8L384.1 209.8Z" fill="#000080" stroke="#000" stroke-width="0.7"/>
<path d="M472.8 197.4V211.4M470.3 197.4h5M470.3 211.4h5" stroke="#800080" stroke-width="1.15" fill="none"/>
<path d="M472.8 200.7L476.3 204.2L472.8 207.7L469.3 204.2Z" fill="#800080" stroke="#000" stroke-width="0.7"/>
<path d="M495.4 234.8V260.4M492.9 234.8h5M492.9 260.4h5" stroke="#ff0000" stroke-width="1.15" fill="none"/>
<path d="M490.7 247.4L500.1 247.4M492.1 244.1L498.7 250.8M495.4 242.7L495.4 252.1M498.7 244.1L492.1 250.8" stroke="#ff0000" stroke-width="1.8" fill="none"/>
<path d="M259.3 184.4V206.4M256.8 184.4h5M256.8 206.4h5" stroke="#800080" stroke-width="1.15" fill="none"/>
<path d="M255.1 195.5H263.5M259.3 191.3V199.7" stroke="#800080" stroke-width="2.2" fill="none"/>
<path d="M229.6 179.0V210.3M227.1 179.0h5M227.1 210.3h5" stroke="#800000" stroke-width="1.15" fill="none"/>
<circle cx="229.6" cy="193.8" r="3.2" fill="#800000" stroke="#000" stroke-width="0.7"/>
<path d="M487.3 208.5V228.2M484.8 208.5h5M484.8 228.2h5" stroke="#0000ff" stroke-width="1.15" fill="none"/>
<rect x="484.2" y="214.1" width="6.2" height="6.2" fill="#0000ff" stroke="#000" stroke-width="0.7"/>
<path d="M389.0 200.4V223.8M386.5 200.4h5M386.5 223.8h5" stroke="#ff0000" stroke-width="1.15" fill="none"/>
<path d="M384.3 213.1L393.7 213.1M385.6 209.8L392.3 216.4M389.0 208.4L389.0 217.8M392.3 209.8L385.6 216.4" stroke="#ff0000" stroke-width="1.8" fill="none"/>
<path d="M138.0 177.2V215.4M135.5 177.2h5M135.5 215.4h5" stroke="#000000" stroke-width="1.15" fill="none"/>
<circle cx="138.0" cy="195.8" r="3.2" fill="#000000" stroke="#000" stroke-width="0.7"/>
<path d="M554.3 184.3V199.8M551.8 184.3h5M551.8 199.8h5" stroke="#000080" stroke-width="1.15" fill="none"/>
<path d="M554.3 188.8L557.8 192.3L554.3 195.8L550.8 192.3Z" fill="#000080" stroke="#000" stroke-width="0.7"/>
<path d="M384.1 193.4V209.0M381.6 193.4h5M381.6 209.0h5" stroke="#000080" stroke-width="1.15" fill="none"/>
<path d="M384.1 204.4L387.7 197.7L380.5 197.7Z" fill="#000080" stroke="#000" stroke-width="0.7"/>
<path d="M554.7 163.3V213.3M552.2 163.3h5M552.2 213.3h5" stroke="#000080" stroke-width="1.15" fill="none"/>
<path d="M554.7 193.7L558.3 187.0L551.1 187.0Z" fill="#000080" stroke="#000" stroke-width="0.7"/>
<path d="M130.9 182.9V213.5M128.4 182.9h5M128.4 213.5h5" stroke="#000080" stroke-width="1.15" fill="none"/>
<path d="M130.9 201.4L134.5 194.7L127.3 194.7Z" fill="#000080" stroke="#000" stroke-width="0.7"/>
<path d="M561.6 164.7V213.5M559.1 164.7h5M559.1 213.5h5" stroke="#0000ff" stroke-width="1.15" fill="none"/>
<circle cx="561.6" cy="189.2" r="3.2" fill="#0000ff" stroke="#000" stroke-width="0.7"/>
<path d="M312.5 160.2V181.4M310.0 160.2h5M310.0 181.4h5" stroke="#008080" stroke-width="1.15" fill="none"/>
<path d="M308.3 170.9H316.7M312.5 166.7V175.1" stroke="#008080" stroke-width="2.2" fill="none"/>
<path d="M418.8 210.2V230.7M416.3 210.2h5M416.3 230.7h5" stroke="#ff0000" stroke-width="1.15" fill="none"/>
<rect x="415.7" y="216.7" width="6.2" height="6.2" fill="#ff0000" stroke="#000" stroke-width="0.7"/>
<path d="M565.7 176.1V196.9M563.2 176.1h5M563.2 196.9h5" stroke="#800000" stroke-width="1.15" fill="none"/>
<path d="M565.7 183.1L569.3 189.8L562.1 189.8Z" fill="#800000" stroke="#000" stroke-width="0.7"/>
<path d="M469.6 202.7V222.0M467.1 202.7h5M467.1 222.0h5" stroke="#000080" stroke-width="1.15" fill="none"/>
<path d="M469.6 215.9L473.2 209.2L466.0 209.2Z" fill="#000080" stroke="#000" stroke-width="0.7"/>
<path d="M390.0 213.5V230.0M387.5 213.5h5M387.5 230.0h5" stroke="#0000ff" stroke-width="1.15" fill="none"/>
<rect x="386.9" y="219.0" width="6.2" height="6.2" fill="#0000ff" stroke="#000" stroke-width="0.7"/>
<path d="M474.2 207.5V235.7M471.7 207.5h5M471.7 235.7h5" stroke="#ff0000" stroke-width="1.15" fill="none"/>
<path d="M469.5 221.4L478.9 221.4M470.9 218.1L477.6 224.7M474.2 216.7L474.2 226.1M477.6 218.1L470.9 224.7" stroke="#ff0000" stroke-width="1.8" fill="none"/>
<path d="M207.6 224.0V256.8M205.1 224.0h5M205.1 256.8h5" stroke="#008000" stroke-width="1.15" fill="none"/>
<path d="M207.6 245.8L211.2 239.1L204.0 239.1Z" fill="#008000" stroke="#000" stroke-width="0.7"/>
<path d="M197.5 213.1V238.0M195.0 213.1h5M195.0 238.0h5" stroke="#008000" stroke-width="1.15" fill="none"/>
<path d="M197.5 228.4L201.1 221.7L193.9 221.7Z" fill="#008000" stroke="#000" stroke-width="0.7"/>
<path d="M346.2 172.7V206.1M343.7 172.7h5M343.7 206.1h5" stroke="#008000" stroke-width="1.15" fill="none"/>
<path d="M346.2 185.8L349.8 192.5L342.6 192.5Z" fill="#008000" stroke="#000" stroke-width="0.7"/>
<path d="M540.7 199.9V229.6M538.2 199.9h5M538.2 229.6h5" stroke="#0000ff" stroke-width="1.15" fill="none"/>
<circle cx="540.7" cy="213.2" r="3.2" fill="#0000ff" stroke="#000" stroke-width="0.7"/>
<path d="M234.4 171.1V187.7M231.9 171.1h5M231.9 187.7h5" stroke="#0000ff" stroke-width="1.15" fill="none"/>
<circle cx="234.4" cy="180.0" r="3.2" fill="#0000ff" stroke="#000" stroke-width="0.7"/>
<path d="M245.2 194.7V219.9M242.7 194.7h5M242.7 219.9h5" stroke="#ff0000" stroke-width="1.15" fill="none"/>
<path d="M240.5 207.9L249.9 207.9M241.9 204.5L248.5 211.2M245.2 203.2L245.2 212.6M248.5 204.5L241.9 211.2" stroke="#ff0000" stroke-width="1.8" fill="none"/>
<path d="M521.8 183.8V233.4M519.3 183.8h5M519.3 233.4h5" stroke="#000080" stroke-width="1.15" fill="none"/>
<path d="M521.8 206.0L525.3 209.5L521.8 213.0L518.3 209.5Z" fill="#000080" stroke="#000" stroke-width="0.7"/>
<path d="M217.7 187.7V209.9M215.2 187.7h5M215.2 209.9h5" stroke="#000000" stroke-width="1.15" fill="none"/>
<circle cx="217.7" cy="197.5" r="3.2" fill="#000000" stroke="#000" stroke-width="0.7"/>
<path d="M524.9 183.5V199.0M522.4 183.5h5M522.4 199.0h5" stroke="#800000" stroke-width="1.15" fill="none"/>
<circle cx="524.9" cy="191.3" r="3.2" fill="#800000" stroke="#000" stroke-width="0.7"/>
<path d="M557.6 188.7V228.9M555.1 188.7h5M555.1 228.9h5" stroke="#800000" stroke-width="1.15" fill="none"/>
<path d="M557.6 204.9L561.2 211.6L554.0 211.6Z" fill="#800000" stroke="#000" stroke-width="0.7"/>
<path d="M198.0 210.9V251.5M195.5 210.9h5M195.5 251.5h5" stroke="#000080" stroke-width="1.15" fill="none"/>
<path d="M198.0 237.1L201.6 230.4L194.4 230.4Z" fill="#000080" stroke="#000" stroke-width="0.7"/>
<path d="M493.5 231.4V273.4M491.0 231.4h5M491.0 273.4h5" stroke="#0000ff" stroke-width="1.15" fill="none"/>
<rect x="490.4" y="249.0" width="6.2" height="6.2" fill="#0000ff" stroke="#000" stroke-width="0.7"/>
<path d="M143.1 164.8V188.4M140.6 164.8h5M140.6 188.4h5" stroke="#008080" stroke-width="1.15" fill="none"/>
<path d="M138.9 176.4H147.3M143.1 172.2V180.6" stroke="#008080" stroke-width="2.2" fill="none"/>
<path d="M155.4 179.8V194.4M152.9 179.8h5M152.9 194.4h5" stroke="#800000" stroke-width="1.15" fill="none"/>
<path d="M155.4 183.3L159.0 190.0L151.8 190.0Z" fill="#800000" stroke="#000" stroke-width="0.7"/>
<path d="M192.7 188.8V212.2M190.2 188.8h5M190.2 212.2h5" stroke="#000000" stroke-width="1.15" fill="none"/>
<circle cx="192.7" cy="200.3" r="3.2" fill="#000000" stroke="#000" stroke-width="0.7"/>
<path d="M121.5 197.1V214.8M119.0 197.1h5M119.0 214.8h5" stroke="#ff0000" stroke-width="1.15" fill="none"/>
<rect x="118.4" y="203.9" width="6.2" height="6.2" fill="#ff0000" stroke="#000" stroke-width="0.7"/>
<path d="M197.9 207.8V229.1M195.4 207.8h5M195.4 229.1h5" stroke="#000000" stroke-width="1.15" fill="none"/>
<circle cx="197.9" cy="218.9" r="3.2" fill="#000000" stroke="#000" stroke-width="0.7"/>
<path d="M351.6 187.5V220.0M349.1 187.5h5M349.1 220.0h5" stroke="#000080" stroke-width="1.15" fill="none"/>
<path d="M351.6 200.4L355.1 203.9L351.6 207.4L348.1 203.9Z" fill="#000080" stroke="#000" stroke-width="0.7"/>
<path d="M369.7 198.1V215.6M367.2 198.1h5M367.2 215.6h5" stroke="#ff0000" stroke-width="1.15" fill="none"/>
<path d="M365.0 206.6L374.4 206.6M366.3 203.3L373.0 210.0M369.7 201.9L369.7 211.3M373.0 203.3L366.3 210.0" stroke="#ff0000" stroke-width="1.8" fill="none"/>
<path d="M578.1 177.1V205.9M575.6 177.1h5M575.6 205.9h5" stroke="#808080" stroke-width="1.15" fill="none"/>
<path d="M573.4 191.4L582.8 191.4M574.8 188.1L581.4 194.7M578.1 186.7L578.1 196.1M581.4 188.1L574.8 194.7" stroke="#808080" stroke-width="1.8" fill="none"/>
<path d="M286.4 177.9V207.0M283.9 177.9h5M283.9 207.0h5" stroke="#000080" stroke-width="1.15" fill="none"/>
<path d="M286.4 189.3L289.9 192.8L286.4 196.3L282.9 192.8Z" fill="#000080" stroke="#000" stroke-width="0.7"/>
<path d="M516.9 202.1V227.2M514.4 202.1h5M514.4 227.2h5" stroke="#0000ff" stroke-width="1.15" fill="none"/>
<rect x="513.8" y="211.3" width="6.2" height="6.2" fill="#0000ff" stroke="#000" stroke-width="0.7"/>
<path d="M145.2 187.9V205.9M142.7 187.9h5M142.7 205.9h5" stroke="#0000ff" stroke-width="1.15" fill="none"/>
<rect x="142.1" y="194.2" width="6.2" height="6.2" fill="#0000ff" stroke="#000" stroke-width="0.7"/>
<path d="M270.4 200.0V230.1M267.9 200.0h5M267.9 230.1h5" stroke="#ff0000" stroke-width="1.15" fill="none"/>
<path d="M265.7 214.7L275.1 214.7M267.1 211.4L273.8 218.1M270.4 210.0L270.4 219.4M273.8 211.4L267.1 218.1" stroke="#ff0000" stroke-width="1.8" fill="none"/>
<path d="M131.9 192.3V210.2M129.4 192.3h5M129.4 210.2h5" stroke="#ff0000" stroke-width="1.15" fill="none"/>
<path d="M127.2 202.2L136.6 202.2M128.6 198.8L135.3 205.5M131.9 197.5L131.9 206.9M135.3 198.8L128.6 205.5" stroke="#ff0000" stroke-width="1.8" fill="none"/>
<path d="M573.3 172.9V207.1M570.8 172.9h5M570.8 207.1h5" stroke="#000080" stroke-width="1.15" fill="none"/>
<path d="M573.3 194.4L576.9 187.7L569.7 187.7Z" fill="#000080" stroke="#000" stroke-width="0.7"/>
<path d="M576.8 181.7V205.1M574.3 181.7h5M574.3 205.1h5" stroke="#0000ff" stroke-width="1.15" fill="none"/>
<rect x="573.7" y="190.1" width="6.2" height="6.2" fill="#0000ff" stroke="#000" stroke-width="0.7"/>
<path d="M198.5 200.5V223.0M196.0 200.5h5M196.0 223.0h5" stroke="#008000" stroke-width="1.15" fill="none"/>
<path d="M198.5 216.3L202.1 209.6L194.9 209.6Z" fill="#008000" stroke="#000" stroke-width="0.7"/>
<path d="M132.4 188.0V207.4M129.9 188.0h5M129.9 207.4h5" stroke="#800080" stroke-width="1.15" fill="none"/>
<path d="M132.4 193.9L135.9 197.4L132.4 200.9L128.9 197.4Z" fill="#800080" stroke="#000" stroke-width="0.7"/>
<path d="M219.7 199.7V232.2M217.2 199.7h5M217.2 232.2h5" stroke="#008000" stroke-width="1.15" fill="none"/>
<path d="M219.7 220.4L223.3 213.7L216.1 213.7Z" fill="#008000" stroke="#000" stroke-width="0.7"/>
<path d="M271.5 184.2V198.6M269.0 184.2h5M269.0 198.6h5" stroke="#ff0000" stroke-width="1.15" fill="none"/>
<path d="M266.8 191.4L276.2 191.4M268.2 188.1L274.8 194.8M271.5 186.7L271.5 196.1M274.8 188.1L268.2 194.8" stroke="#ff0000" stroke-width="1.8" fill="none"/>
<path d="M484.8 216.7V234.1M482.3 216.7h5M482.3 234.1h5" stroke="#000080" stroke-width="1.15" fill="none"/>
<path d="M484.8 228.5L488.4 221.8L481.2 221.8Z" fill="#000080" stroke="#000" stroke-width="0.7"/>
<path d="M379.1 217.4V239.6M376.6 217.4h5M376.6 239.6h5" stroke="#000080" stroke-width="1.15" fill="none"/>
<path d="M379.1 223.7L382.6 227.2L379.1 230.7L375.6 227.2Z" fill="#000080" stroke="#000" stroke-width="0.7"/>
<path d="M339.8 210.1V234.8M337.3 210.1h5M337.3 234.8h5" stroke="#0000ff" stroke-width="1.15" fill="none"/>
<circle cx="339.8" cy="221.3" r="3.2" fill="#0000ff" stroke="#000" stroke-width="0.7"/>
<path d="M255.6 200.1V225.3M253.1 200.1h5M253.1 225.3h5" stroke="#000000" stroke-width="1.15" fill="none"/>
<circle cx="255.6" cy="212.7" r="3.2" fill="#000000" stroke="#000" stroke-width="0.7"/>
<path d="M382.7 222.2V251.1M380.2 222.2h5M380.2 251.1h5" stroke="#000080" stroke-width="1.15" fill="none"/>
<path d="M382.7 233.9L386.2 237.4L382.7 240.9L379.2 237.4Z" fill="#000080" stroke="#000" stroke-width="0.7"/>
<path d="M525.8 192.3V207.8M523.3 192.3h5M523.3 207.8h5" stroke="#800000" stroke-width="1.15" fill="none"/>
<circle cx="525.8" cy="200.1" r="3.2" fill="#800000" stroke="#000" stroke-width="0.7"/>
<path d="M464.8 189.9V216.7M462.3 189.9h5M462.3 216.7h5" stroke="#000000" stroke-width="1.15" fill="none"/>
<circle cx="464.8" cy="204.1" r="3.2" fill="#000000" stroke="#000" stroke-width="0.7"/>
<path d="M273.8 180.5V204.9M271.3 180.5h5M271.3 204.9h5" stroke="#800000" stroke-width="1.15" fill="none"/>
<path d="M273.8 189.2L277.4 195.9L270.2 195.9Z" fill="#800000" stroke="#000" stroke-width="0.7"/>
<path d="M204.4 213.5V234.2M201.9 213.5h5M201.9 234.2h5" stroke="#008000" stroke-width="1.15" fill="none"/>
<path d="M204.4 219.8L208.0 226.5L200.8 226.5Z" fill="#008000" stroke="#000" stroke-width="0.7"/>
<path d="M215.8 195.9V214.3M213.3 195.9h5M213.3 214.3h5" stroke="#000000" stroke-width="1.15" fill="none"/>
<circle cx="215.8" cy="204.7" r="3.2" fill="#000000" stroke="#000" stroke-width="0.7"/>
<path d="M107.2 169.2V186.4M104.7 169.2h5M104.7 186.4h5" stroke="#000080" stroke-width="1.15" fill="none"/>
<path d="M107.2 181.0L110.8 174.3L103.6 174.3Z" fill="#000080" stroke="#000" stroke-width="0.7"/>
<path d="M390.4 194.7V239.0M387.9 194.7h5M387.9 239.0h5" stroke="#0000ff" stroke-width="1.15" fill="none"/>
<circle cx="390.4" cy="217.8" r="3.2" fill="#0000ff" stroke="#000" stroke-width="0.7"/>
<path d="M594.3 177.8V212.7M591.8 177.8h5M591.8 212.7h5" stroke="#0000ff" stroke-width="1.15" fill="none"/>
<circle cx="594.3" cy="194.2" r="3.2" fill="#0000ff" stroke="#000" stroke-width="0.7"/>
<path d="M412.3 200.3V219.2M409.8 200.3h5M409.8 219.2h5" stroke="#008000" stroke-width="1.15" fill="none"/>
<path d="M412.3 213.6L415.9 206.9L408.7 206.9Z" fill="#008000" stroke="#000" stroke-width="0.7"/>
<path d="M317.8 151.7V183.6M315.3 151.7h5M315.3 183.6h5" stroke="#008080" stroke-width="1.15" fill="none"/>
<path d="M313.6 166.6H322.0M317.8 162.4V170.8" stroke="#008080" stroke-width="2.2" fill="none"/>
<path d="M127.3 171.7V210.7M124.8 171.7h5M124.8 210.7h5" stroke="#0000ff" stroke-width="1.15" fill="none"/>
<circle cx="127.3" cy="192.8" r="3.2" fill="#0000ff" stroke="#000" stroke-width="0.7"/>
<path d="M98.9 179.5V205.3M96.4 179.5h5M96.4 205.3h5" stroke="#ff0000" stroke-width="1.15" fill="none"/>
<path d="M94.2 192.4L103.6 192.4M95.6 189.0L102.2 195.7M98.9 187.7L98.9 197.1M102.2 189.0L95.6 195.7" stroke="#ff0000" stroke-width="1.8" fill="none"/>
<path d="M109.7 188.0V217.5M107.2 188.0h5M107.2 217.5h5" stroke="#000080" stroke-width="1.15" fill="none"/>
<path d="M109.7 199.4L113.2 202.9L109.7 206.4L106.2 202.9Z" fill="#000080" stroke="#000" stroke-width="0.7"/>
<path d="M390.5 210.6V240.5M388.0 210.6h5M388.0 240.5h5" stroke="#0000ff" stroke-width="1.15" fill="none"/>
<rect x="387.4" y="221.6" width="6.2" height="6.2" fill="#0000ff" stroke="#000" stroke-width="0.7"/>
<path d="M180.4 187.1V206.2M177.9 187.1h5M177.9 206.2h5" stroke="#000000" stroke-width="1.15" fill="none"/>
<circle cx="180.4" cy="196.4" r="3.2" fill="#000000" stroke="#000" stroke-width="0.7"/>
<path d="M109.3 182.2V203.7M106.8 182.2h5M106.8 203.7h5" stroke="#000080" stroke-width="1.15" fill="none"/>
<path d="M109.3 197.0L112.9 190.3L105.7 190.3Z" fill="#000080" stroke="#000" stroke-width="0.7"/>
<path d="M387.3 210.6V227.6M384.8 210.6h5M384.8 227.6h5" stroke="#800080" stroke-width="1.15" fill="none"/>
<path d="M387.3 216.4L390.8 219.9L387.3 223.4L383.8 219.9Z" fill="#800080" stroke="#000" stroke-width="0.7"/>
<path d="M573.3 172.4V187.2M570.8 172.4h5M570.8 187.2h5" stroke="#008000" stroke-width="1.15" fill="none"/>
<path d="M573.3 183.4L576.9 176.7L569.7 176.7Z" fill="#008000" stroke="#000" stroke-width="0.7"/>
<path d="M290.6 173.6V194.3M288.1 173.6h5M288.1 194.3h5" stroke="#008080" stroke-width="1.15" fill="none"/>
<path d="M286.4 185.0H294.8M290.6 180.8V189.2" stroke="#008080" stroke-width="2.2" fill="none"/>
<path d="M178.9 205.1V226.8M176.4 205.1h5M176.4 226.8h5" stroke="#ff0000" stroke-width="1.15" fill="none"/>
<path d="M174.2 215.6L183.6 215.6M175.5 212.3L182.2 218.9M178.9 210.9L178.9 220.3M182.2 212.3L175.5 218.9" stroke="#ff0000" stroke-width="1.8" fill="none"/>
<path d="M417.7 193.6V222.8M415.2 193.6h5M415.2 222.8h5" stroke="#000080" stroke-width="1.15" fill="none"/>
<path d="M417.7 204.9L421.2 208.4L417.7 211.9L414.2 208.4Z" fill="#000080" stroke="#000" stroke-width="0.7"/>
<path d="M130.9 179.5V211.4M128.4 179.5h5M128.4 211.4h5" stroke="#0000ff" stroke-width="1.15" fill="none"/>
<rect x="127.8" y="191.4" width="6.2" height="6.2" fill="#0000ff" stroke="#000" stroke-width="0.7"/>
<path d="M305.2 179.6V201.8M302.7 179.6h5M302.7 201.8h5" stroke="#800000" stroke-width="1.15" fill="none"/>
<path d="M305.2 185.8L308.8 192.5L301.6 192.5Z" fill="#800000" stroke="#000" stroke-width="0.7"/>
<path d="M195.8 205.2V224.5M193.3 205.2h5M193.3 224.5h5" stroke="#ff0000" stroke-width="1.15" fill="none"/>
<rect x="192.7" y="212.1" width="6.2" height="6.2" fill="#ff0000" stroke="#000" stroke-width="0.7"/>
<path d="M586.6 188.3V219.6M584.1 188.3h5M584.1 219.6h5" stroke="#0000ff" stroke-width="1.15" fill="none"/>
<rect x="583.5" y="200.1" width="6.2" height="6.2" fill="#0000ff" stroke="#000" stroke-width="0.7"/>
<path d="M293.7 168.8V191.6M291.2 168.8h5M291.2 191.6h5" stroke="#008000" stroke-width="1.15" fill="none"/>
<path d="M293.7 177.9L297.3 184.6L290.1 184.6Z" fill="#008000" stroke="#000" stroke-width="0.7"/>
<path d="M329.6 174.0V203.0M327.1 174.0h5M327.1 203.0h5" stroke="#000000" stroke-width="1.15" fill="none"/>
<circle cx="329.6" cy="188.2" r="3.2" fill="#000000" stroke="#000" stroke-width="0.7"/>
<path d="M398.1 222.7V252.1M395.6 222.7h5M395.6 252.1h5" stroke="#000080" stroke-width="1.15" fill="none"/>
<path d="M398.1 240.2L401.7 233.5L394.5 233.5Z" fill="#000080" stroke="#000" stroke-width="0.7"/>
<path d="M282.1 176.9V204.1M279.6 176.9h5M279.6 204.1h5" stroke="#008000" stroke-width="1.15" fill="none"/>
<path d="M282.1 193.3L285.7 186.6L278.5 186.6Z" fill="#008000" stroke="#000" stroke-width="0.7"/>
<path d="M417.1 207.5V240.1M414.6 207.5h5M414.6 240.1h5" stroke="#0000ff" stroke-width="1.15" fill="none"/>
<rect x="414.0" y="220.3" width="6.2" height="6.2" fill="#0000ff" stroke="#000" stroke-width="0.7"/>
<path d="M309.8 162.3V203.9M307.3 162.3h5M307.3 203.9h5" stroke="#800000" stroke-width="1.15" fill="none"/>
<circle cx="309.8" cy="183.8" r="3.2" fill="#800000" stroke="#000" stroke-width="0.7"/>
<path d="M103.6 179.9V205.7M101.1 179.9h5M101.1 205.7h5" stroke="#008000" stroke-width="1.15" fill="none"/>
<path d="M103.6 195.6L107.2 188.9L100.0 188.9Z" fill="#008000" stroke="#000" stroke-width="0.7"/>
<path d="M295.2 185.3V208.3M292.7 185.3h5M292.7 208.3h5" stroke="#800080" stroke-width="1.15" fill="none"/>
<path d="M295.2 192.7L298.7 196.2L295.2 199.7L291.7 196.2Z" fill="#800080" stroke="#000" stroke-width="0.7"/>
<path d="M551.4 182.9V208.9M548.9 182.9h5M548.9 208.9h5" stroke="#008000" stroke-width="1.15" fill="none"/>
<path d="M551.4 199.8L555.0 193.1L547.8 193.1Z" fill="#008000" stroke="#000" stroke-width="0.7"/>
<path d="M107.4 175.3V198.9M104.9 175.3h5M104.9 198.9h5" stroke="#0000ff" stroke-width="1.15" fill="none"/>
<rect x="104.3" y="183.1" width="6.2" height="6.2" fill="#0000ff" stroke="#000" stroke-width="0.7"/>
<path d="M104.5 165.4V181.7M102.0 165.4h5M102.0 181.7h5" stroke="#000080" stroke-width="1.15" fill="none"/>
<path d="M104.5 177.2L108.1 170.5L100.9 170.5Z" fill="#000080" stroke="#000" stroke-width="0.7"/>
<path d="M171.7 179.0V215.0M169.2 179.0h5M169.2 215.0h5" stroke="#000080" stroke-width="1.15" fill="none"/>
<path d="M171.7 201.3L175.3 194.6L168.1 194.6Z" fill="#000080" stroke="#000" stroke-width="0.7"/>
<path d="M290.9 178.3V200.0M288.4 178.3h5M288.4 200.0h5" stroke="#ff0000" stroke-width="1.15" fill="none"/>
<path d="M286.2 189.3L295.6 189.3M287.5 186.0L294.2 192.6M290.9 184.6L290.9 194.0M294.2 186.0L287.5 192.6" stroke="#ff0000" stroke-width="1.8" fill="none"/>
<path d="M492.6 220.9V238.1M490.1 220.9h5M490.1 238.1h5" stroke="#008080" stroke-width="1.15" fill="none"/>
<path d="M488.4 229.7H496.8M492.6 225.5V233.9" stroke="#008080" stroke-width="2.2" fill="none"/>
<path d="M215.3 197.7V213.9M212.8 197.7h5M212.8 213.9h5" stroke="#0000ff" stroke-width="1.15" fill="none"/>
<circle cx="215.3" cy="205.5" r="3.2" fill="#0000ff" stroke="#000" stroke-width="0.7"/>
<path d="M584.2 175.6V198.7M581.7 175.6h5M581.7 198.7h5" stroke="#0000ff" stroke-width="1.15" fill="none"/>
<circle cx="584.2" cy="187.2" r="3.2" fill="#0000ff" stroke="#000" stroke-width="0.7"/>
<path d="M565.6 184.3V202.7M563.1 184.3h5M563.1 202.7h5" stroke="#800000" stroke-width="1.15" fill="none"/>
<path d="M565.6 190.3L569.2 197.0L562.0 197.0Z" fill="#800000" stroke="#000" stroke-width="0.7"/>
<path d="M439.6 194.6V245.7M437.1 194.6h5M437.1 245.7h5" stroke="#ff0000" stroke-width="1.15" fill="none"/>
<path d="M434.9 220.6L444.3 220.6M436.3 217.3L443.0 223.9M439.6 215.9L439.6 225.3M443.0 217.3L436.3 223.9" stroke="#ff0000" stroke-width="1.8" fill="none"/>
<path d="M101.5 183.8V202.9M99.0 183.8h5M99.0 202.9h5" stroke="#008000" stroke-width="1.15" fill="none"/>
<path d="M101.5 196.6L105.1 189.9L97.9 189.9Z" fill="#008000" stroke="#000" stroke-width="0.7"/>
<path d="M374.4 201.9V216.1M371.9 201.9h5M371.9 216.1h5" stroke="#000080" stroke-width="1.15" fill="none"/>
<path d="M374.4 212.7L378.0 206.0L370.8 206.0Z" fill="#000080" stroke="#000" stroke-width="0.7"/>
<path d="M453.3 190.9V222.7M450.8 190.9h5M450.8 222.7h5" stroke="#000080" stroke-width="1.15" fill="none"/>
<path d="M453.3 204.0L456.8 207.5L453.3 211.0L449.8 207.5Z" fill="#000080" stroke="#000" stroke-width="0.7"/>
<path d="M210.5 197.8V218.5M208.0 197.8h5M208.0 218.5h5" stroke="#0000ff" stroke-width="1.15" fill="none"/>
<rect x="207.4" y="205.8" width="6.2" height="6.2" fill="#0000ff" stroke="#000" stroke-width="0.7"/>
<path d="M131.0 195.6V213.7M128.5 195.6h5M128.5 213.7h5" stroke="#008000" stroke-width="1.15" fill="none"/>
<path d="M131.0 207.8L134.6 201.1L127.4 201.1Z" fill="#008000" stroke="#000" stroke-width="0.7"/>
<path d="M297.7 152.8V191.7M295.2 152.8h5M295.2 191.7h5" stroke="#000000" stroke-width="1.15" fill="none"/>
<circle cx="297.7" cy="171.2" r="3.2" fill="#000000" stroke="#000" stroke-width="0.7"/>
<path d="M437.9 214.1V232.3M435.4 214.1h5M435.4 232.3h5" stroke="#008080" stroke-width="1.15" fill="none"/>
<rect x="435.2" y="220.2" width="5.4" height="5.4" fill="#008080" stroke="#000" stroke-width="1.9"/>
<path d="M512.0 196.6V222.0M509.5 196.6h5M509.5 222.0h5" stroke="#800080" stroke-width="1.15" fill="none"/>
<path d="M512.0 204.7L515.5 208.2L512.0 211.7L508.5 208.2Z" fill="#800080" stroke="#000" stroke-width="0.7"/>
<path d="M133.4 187.8V233.2M130.9 187.8h5M130.9 233.2h5" stroke="#0000ff" stroke-width="1.15" fill="none"/>
<circle cx="133.4" cy="210.1" r="3.2" fill="#0000ff" stroke="#000" stroke-width="0.7"/>
<path d="M160.8 177.6V211.3M158.3 177.6h5M158.3 211.3h5" stroke="#0000ff" stroke-width="1.15" fill="none"/>
<rect x="157.7" y="192.2" width="6.2" height="6.2" fill="#0000ff" stroke="#000" stroke-width="0.7"/>
<path d="M262.9 194.3V212.9M260.4 194.3h5M260.4 212.9h5" stroke="#0000ff" stroke-width="1.15" fill="none"/>
<circle cx="262.9" cy="203.1" r="3.2" fill="#0000ff" stroke="#000" stroke-width="0.7"/>
<path d="M157.1 176.4V192.1M154.6 176.4h5M154.6 192.1h5" stroke="#800000" stroke-width="1.15" fill="none"/>
<circle cx="157.1" cy="184.9" r="3.2" fill="#800000" stroke="#000" stroke-width="0.7"/>
<path d="M425.6 188.1V203.5M423.1 188.1h5M423.1 203.5h5" stroke="#ff0000" stroke-width="1.15" fill="none"/>
<path d="M420.9 195.3L430.3 195.3M422.3 192.0L429.0 198.6M425.6 190.6L425.6 200.0M429.0 192.0L422.3 198.6" stroke="#ff0000" stroke-width="1.8" fill="none"/>
<path d="M126.1 165.8V192.3M123.6 165.8h5M123.6 192.3h5" stroke="#0000ff" stroke-width="1.15" fill="none"/>
<rect x="123.0" y="177.5" width="6.2" height="6.2" fill="#0000ff" stroke="#000" stroke-width="0.7"/>
<path d="M318.7 165.3V180.5M316.2 165.3h5M316.2 180.5h5" stroke="#800080" stroke-width="1.15" fill="none"/>
<path d="M318.7 169.7L322.2 173.2L318.7 176.7L315.2 173.2Z" fill="#800080" stroke="#000" stroke-width="0.7"/>
<path d="M399.9 203.7V218.0M397.4 203.7h5M397.4 218.0h5" stroke="#0000ff" stroke-width="1.15" fill="none"/>
<rect x="396.8" y="208.0" width="6.2" height="6.2" fill="#0000ff" stroke="#000" stroke-width="0.7"/>
<path d="M583.2 175.2V190.7M580.7 175.2h5M580.7 190.7h5" stroke="#000080" stroke-width="1.15" fill="none"/>
<path d="M583.2 186.1L586.8 179.4L579.6 179.4Z" fill="#000080" stroke="#000" stroke-width="0.7"/>
<path d="M98.6 177.4V211.5M96.1 177.4h5M96.1 211.5h5" stroke="#0000ff" stroke-width="1.15" fill="none"/>
<rect x="95.5" y="191.2" width="6.2" height="6.2" fill="#0000ff" stroke="#000" stroke-width="0.7"/>
<path d="M133.5 166.9V184.4M131.0 166.9h5M131.0 184.4h5" stroke="#000000" stroke-width="1.15" fill="none"/>
<circle cx="133.5" cy="176.6" r="3.2" fill="#000000" stroke="#000" stroke-width="0.7"/>
<path d="M459.5 179.7V207.3M457.0 179.7h5M457.0 207.3h5" stroke="#0000ff" stroke-width="1.15" fill="none"/>
<circle cx="459.5" cy="193.7" r="3.2" fill="#0000ff" stroke="#000" stroke-width="0.7"/>
<path d="M329.1 162.4V180.5M326.6 162.4h5M326.6 180.5h5" stroke="#000080" stroke-width="1.15" fill="none"/>
<path d="M329.1 175.1L332.7 168.4L325.5 168.4Z" fill="#000080" stroke="#000" stroke-width="0.7"/>
<path d="M355.3 196.3V216.4M352.8 196.3h5M352.8 216.4h5" stroke="#0000ff" stroke-width="1.15" fill="none"/>
<circle cx="355.3" cy="205.9" r="3.2" fill="#0000ff" stroke="#000" stroke-width="0.7"/>
<path d="M579.3 178.3V192.7M576.8 178.3h5M576.8 192.7h5" stroke="#000080" stroke-width="1.15" fill="none"/>
<path d="M579.3 188.2L582.9 181.5L575.7 181.5Z" fill="#000080" stroke="#000" stroke-width="0.7"/>
<path d="M343.0 186.7V220.3M340.5 186.7h5M340.5 220.3h5" stroke="#008000" stroke-width="1.15" fill="none"/>
<path d="M343.0 199.3L346.6 206.0L339.4 206.0Z" fill="#008000" stroke="#000" stroke-width="0.7"/>
<path d="M334.1 183.7V216.8M331.6 183.7h5M331.6 216.8h5" stroke="#008000" stroke-width="1.15" fill="none"/>
<path d="M334.1 199.0L337.7 205.7L330.5 205.7Z" fill="#008000" stroke="#000" stroke-width="0.7"/>
<path d="M307.4 166.6V186.4M304.9 166.6h5M304.9 186.4h5" stroke="#008080" stroke-width="1.15" fill="none"/>
<path d="M303.2 175.3H311.6M307.4 171.1V179.5" stroke="#008080" stroke-width="2.2" fill="none"/>
<path d="M180.9 173.4V233.0M178.4 173.4h5M178.4 233.0h5" stroke="#ff0000" stroke-width="1.15" fill="none"/>
<rect x="177.8" y="200.8" width="6.2" height="6.2" fill="#ff0000" stroke="#000" stroke-width="0.7"/>
<path d="M503.3 203.9V232.1M500.8 203.9h5M500.8 232.1h5" stroke="#800000" stroke-width="1.15" fill="none"/>
<circle cx="503.3" cy="218.0" r="3.2" fill="#800000" stroke="#000" stroke-width="0.7"/>
<path d="M409.4 203.1V225.2M406.9 203.1h5M406.9 225.2h5" stroke="#0000ff" stroke-width="1.15" fill="none"/>
<circle cx="409.4" cy="212.8" r="3.2" fill="#0000ff" stroke="#000" stroke-width="0.7"/>
<path d="M426.7 187.7V231.4M424.2 187.7h5M424.2 231.4h5" stroke="#000080" stroke-width="1.15" fill="none"/>
<path d="M426.7 215.4L430.3 208.7L423.1 208.7Z" fill="#000080" stroke="#000" stroke-width="0.7"/>
<path d="M147.4 176.7V195.4M144.9 176.7h5M144.9 195.4h5" stroke="#0000ff" stroke-width="1.15" fill="none"/>
<circle cx="147.4" cy="186.5" r="3.2" fill="#0000ff" stroke="#000" stroke-width="0.7"/>
<path d="M118.8 183.6V210.2M116.3 183.6h5M116.3 210.2h5" stroke="#0000ff" stroke-width="1.15" fill="none"/>
<rect x="115.7" y="192.3" width="6.2" height="6.2" fill="#0000ff" stroke="#000" stroke-width="0.7"/>
<path d="M264.4 198.5V219.8M261.9 198.5h5M261.9 219.8h5" stroke="#000000" stroke-width="1.15" fill="none"/>
<circle cx="264.4" cy="208.3" r="3.2" fill="#000000" stroke="#000" stroke-width="0.7"/>
<path d="M186.5 197.6V241.7M184.0 197.6h5M184.0 241.7h5" stroke="#000000" stroke-width="1.15" fill="none"/>
<circle cx="186.5" cy="218.4" r="3.2" fill="#000000" stroke="#000" stroke-width="0.7"/>
<path d="M382.8 202.5V233.0M380.3 202.5h5M380.3 233.0h5" stroke="#0000ff" stroke-width="1.15" fill="none"/>
<circle cx="382.8" cy="217.9" r="3.2" fill="#0000ff" stroke="#000" stroke-width="0.7"/>
<path d="M512.1 205.3V240.5M509.6 205.3h5M509.6 240.5h5" stroke="#008080" stroke-width="1.15" fill="none"/>
<rect x="509.4" y="220.4" width="5.4" height="5.4" fill="#008080" stroke="#000" stroke-width="1.9"/>
<path d="M274.7 210.3V239.9M272.2 210.3h5M272.2 239.9h5" stroke="#808080" stroke-width="1.15" fill="none"/>
<rect x="272.0" y="223.5" width="5.4" height="5.4" fill="#808080" stroke="#000" stroke-width="1.9"/>
<path d="M375.9 197.2V239.0M373.4 197.2h5M373.4 239.0h5" stroke="#800000" stroke-width="1.15" fill="none"/>
<path d="M375.9 214.4L379.5 221.1L372.3 221.1Z" fill="#800000" stroke="#000" stroke-width="0.7"/>
<path d="M416.0 187.9V203.5M413.5 187.9h5M413.5 203.5h5" stroke="#ff0000" stroke-width="1.15" fill="none"/>
<rect x="412.9" y="192.8" width="6.2" height="6.2" fill="#ff0000" stroke="#000" stroke-width="0.7"/>
<path d="M378.0 200.5V217.5M375.5 200.5h5M375.5 217.5h5" stroke="#000080" stroke-width="1.15" fill="none"/>
<path d="M378.0 213.5L381.6 206.8L374.4 206.8Z" fill="#000080" stroke="#000" stroke-width="0.7"/>
<path d="M482.5 217.5V232.7M480.0 217.5h5M480.0 232.7h5" stroke="#000000" stroke-width="1.15" fill="none"/>
<circle cx="482.5" cy="224.6" r="3.2" fill="#000000" stroke="#000" stroke-width="0.7"/>
<path d="M103.7 180.5V204.6M101.2 180.5h5M101.2 204.6h5" stroke="#000080" stroke-width="1.15" fill="none"/>
<path d="M103.7 189.3L107.2 192.8L103.7 196.3L100.2 192.8Z" fill="#000080" stroke="#000" stroke-width="0.7"/>
<path d="M213.6 192.1V238.7M211.1 192.1h5M211.1 238.7h5" stroke="#0000ff" stroke-width="1.15" fill="none"/>
<circle cx="213.6" cy="213.9" r="3.2" fill="#0000ff" stroke="#000" stroke-width="0.7"/>
<path d="M527.3 194.6V210.7M524.8 194.6h5M524.8 210.7h5" stroke="#000080" stroke-width="1.15" fill="none"/>
<path d="M527.3 206.7L530.9 200.0L523.7 200.0Z" fill="#000080" stroke="#000" stroke-width="0.7"/>
<path d="M574.4 160.6V219.3M571.9 160.6h5M571.9 219.3h5" stroke="#ff0000" stroke-width="1.15" fill="none"/>
<path d="M569.7 189.6L579.1 189.6M571.1 186.2L577.7 192.9M574.4 184.9L574.4 194.3M577.7 186.2L571.1 192.9" stroke="#ff0000" stroke-width="1.8" fill="none"/>
<path d="M169.1 176.7V201.0M166.6 176.7h5M166.6 201.0h5" stroke="#0000ff" stroke-width="1.15" fill="none"/>
<rect x="166.0" y="185.0" width="6.2" height="6.2" fill="#0000ff" stroke="#000" stroke-width="0.7"/>
<path d="M307.8 166.9V194.7M305.3 166.9h5M305.3 194.7h5" stroke="#008000" stroke-width="1.15" fill="none"/>
<path d="M307.8 177.1L311.4 183.8L304.2 183.8Z" fill="#008000" stroke="#000" stroke-width="0.7"/>
<path d="M122.6 170.7V196.5M120.1 170.7h5M120.1 196.5h5" stroke="#0000ff" stroke-width="1.15" fill="none"/>
<circle cx="122.6" cy="183.2" r="3.2" fill="#0000ff" stroke="#000" stroke-width="0.7"/>
<path d="M437.0 189.7V206.3M434.5 189.7h5M434.5 206.3h5" stroke="#ff0000" stroke-width="1.15" fill="none"/>
<rect x="433.9" y="195.1" width="6.2" height="6.2" fill="#ff0000" stroke="#000" stroke-width="0.7"/>
<path d="M133.6 182.4V213.8M131.1 182.4h5M131.1 213.8h5" stroke="#800000" stroke-width="1.15" fill="none"/>
<circle cx="133.6" cy="196.2" r="3.2" fill="#800000" stroke="#000" stroke-width="0.7"/>
<path d="M278.3 188.5V228.9M275.8 188.5h5M275.8 228.9h5" stroke="#008000" stroke-width="1.15" fill="none"/>
<path d="M278.3 205.9L281.9 212.6L274.7 212.6Z" fill="#008000" stroke="#000" stroke-width="0.7"/>
<path d="M434.6 180.2V199.8M432.1 180.2h5M432.1 199.8h5" stroke="#808080" stroke-width="1.15" fill="none"/>
<path d="M429.9 190.0L439.3 190.0M431.2 186.7L437.9 193.3M434.6 185.3L434.6 194.7M437.9 186.7L431.2 193.3" stroke="#808080" stroke-width="1.8" fill="none"/>
<path d="M158.9 178.1V196.2M156.4 178.1h5M156.4 196.2h5" stroke="#800000" stroke-width="1.15" fill="none"/>
<path d="M158.9 183.2L162.5 189.9L155.3 189.9Z" fill="#800000" stroke="#000" stroke-width="0.7"/>
<path d="M522.4 175.5V208.8M519.9 175.5h5M519.9 208.8h5" stroke="#ff0000" stroke-width="1.15" fill="none"/>
<rect x="519.3" y="188.3" width="6.2" height="6.2" fill="#ff0000" stroke="#000" stroke-width="0.7"/>
<path d="M193.3 212.7V229.2M190.8 212.7h5M190.8 229.2h5" stroke="#008000" stroke-width="1.15" fill="none"/>
<path d="M193.3 224.4L196.9 217.7L189.7 217.7Z" fill="#008000" stroke="#000" stroke-width="0.7"/>
<path d="M181.0 177.7V217.9M178.5 177.7h5M178.5 217.9h5" stroke="#000080" stroke-width="1.15" fill="none"/>
<path d="M181.0 203.0L184.6 196.3L177.4 196.3Z" fill="#000080" stroke="#000" stroke-width="0.7"/>
<path d="M455.0 187.2V207.4M452.5 187.2h5M452.5 207.4h5" stroke="#000080" stroke-width="1.15" fill="none"/>
<path d="M455.0 201.6L458.6 194.9L451.4 194.9Z" fill="#000080" stroke="#000" stroke-width="0.7"/>
<path d="M483.5 221.6V249.2M481.0 221.6h5M481.0 249.2h5" stroke="#008000" stroke-width="1.15" fill="none"/>
<path d="M483.5 238.0L487.1 231.3L479.9 231.3Z" fill="#008000" stroke="#000" stroke-width="0.7"/>
<path d="M320.0 164.6V189.3M317.5 164.6h5M317.5 189.3h5" stroke="#0000ff" stroke-width="1.15" fill="none"/>
<circle cx="320.0" cy="177.0" r="3.2" fill="#0000ff" stroke="#000" stroke-width="0.7"/>
<path d="M209.7 193.7V207.1M207.2 193.7h5M207.2 207.1h5" stroke="#0000ff" stroke-width="1.15" fill="none"/>
<rect x="206.6" y="196.8" width="6.2" height="6.2" fill="#0000ff" stroke="#000" stroke-width="0.7"/>
<path d="M515.7 216.5V237.7M513.2 216.5h5M513.2 237.7h5" stroke="#008000" stroke-width="1.15" fill="none"/>
<path d="M515.7 229.6L519.3 222.9L512.1 222.9Z" fill="#008000" stroke="#000" stroke-width="0.7"/>
<path d="M580.7 179.6V194.9M578.2 179.6h5M578.2 194.9h5" stroke="#0000ff" stroke-width="1.15" fill="none"/>
<circle cx="580.7" cy="188.0" r="3.2" fill="#0000ff" stroke="#000" stroke-width="0.7"/>
<path d="M197.7 218.5V252.4M195.2 218.5h5M195.2 252.4h5" stroke="#ff0000" stroke-width="1.15" fill="none"/>
<rect x="194.6" y="232.0" width="6.2" height="6.2" fill="#ff0000" stroke="#000" stroke-width="0.7"/>
<path d="M309.1 175.6V203.9M306.6 175.6h5M306.6 203.9h5" stroke="#800000" stroke-width="1.15" fill="none"/>
<circle cx="309.1" cy="190.8" r="3.2" fill="#800000" stroke="#000" stroke-width="0.7"/>
<path d="M118.4 171.8V210.6M115.9 171.8h5M115.9 210.6h5" stroke="#0000ff" stroke-width="1.15" fill="none"/>
<circle cx="118.4" cy="193.1" r="3.2" fill="#0000ff" stroke="#000" stroke-width="0.7"/>
<path d="M178.7 177.7V206.7M176.2 177.7h5M176.2 206.7h5" stroke="#800000" stroke-width="1.15" fill="none"/>
<path d="M178.7 189.5L182.3 196.2L175.1 196.2Z" fill="#800000" stroke="#000" stroke-width="0.7"/>
<path d="M144.8 181.0V256.3M142.3 181.0h5M142.3 256.3h5" stroke="#008080" stroke-width="1.15" fill="none"/>
<rect x="142.1" y="218.2" width="5.4" height="5.4" fill="#008080" stroke="#000" stroke-width="1.9"/>
<path d="M135.8 175.3V215.9M133.3 175.3h5M133.3 215.9h5" stroke="#800080" stroke-width="1.15" fill="none"/>
<path d="M135.8 189.7L139.3 193.2L135.8 196.7L132.3 193.2Z" fill="#800080" stroke="#000" stroke-width="0.7"/>
<path d="M190.0 195.6V211.7M187.5 195.6h5M187.5 211.7h5" stroke="#800000" stroke-width="1.15" fill="none"/>
<circle cx="190.0" cy="203.5" r="3.2" fill="#800000" stroke="#000" stroke-width="0.7"/>
<path d="M261.0 183.7V213.8M258.5 183.7h5M258.5 213.8h5" stroke="#0000ff" stroke-width="1.15" fill="none"/>
<rect x="257.9" y="195.2" width="6.2" height="6.2" fill="#0000ff" stroke="#000" stroke-width="0.7"/>
<path d="M296.9 162.5V226.7M294.4 162.5h5M294.4 226.7h5" stroke="#000080" stroke-width="1.15" fill="none"/>
<path d="M296.9 196.0L300.5 189.3L293.3 189.3Z" fill="#000080" stroke="#000" stroke-width="0.7"/>
<path d="M135.0 186.2V210.0M132.5 186.2h5M132.5 210.0h5" stroke="#000080" stroke-width="1.15" fill="none"/>
<path d="M135.0 202.1L138.6 195.4L131.4 195.4Z" fill="#000080" stroke="#000" stroke-width="0.7"/>
<path d="M294.4 171.0V197.4M291.9 171.0h5M291.9 197.4h5" stroke="#000080" stroke-width="1.15" fill="none"/>
<path d="M294.4 187.0L298.0 180.3L290.8 180.3Z" fill="#000080" stroke="#000" stroke-width="0.7"/>
<path d="M322.7 177.2V193.1M320.2 177.2h5M320.2 193.1h5" stroke="#0000ff" stroke-width="1.15" fill="none"/>
<circle cx="322.7" cy="185.1" r="3.2" fill="#0000ff" stroke="#000" stroke-width="0.7"/>
<path d="M388.4 208.1V244.2M385.9 208.1h5M385.9 244.2h5" stroke="#000080" stroke-width="1.15" fill="none"/>
<path d="M388.4 230.4L392.0 223.7L384.8 223.7Z" fill="#000080" stroke="#000" stroke-width="0.7"/>
<path d="M466.7 194.1V217.6M464.2 194.1h5M464.2 217.6h5" stroke="#000080" stroke-width="1.15" fill="none"/>
<path d="M466.7 210.1L470.3 203.4L463.1 203.4Z" fill="#000080" stroke="#000" stroke-width="0.7"/>
<path d="M300.0 164.4V192.4M297.5 164.4h5M297.5 192.4h5" stroke="#800000" stroke-width="1.15" fill="none"/>
<circle cx="300.0" cy="178.9" r="3.2" fill="#800000" stroke="#000" stroke-width="0.7"/>
<path d="M556.0 179.2V236.8M553.5 179.2h5M553.5 236.8h5" stroke="#ff0000" stroke-width="1.15" fill="none"/>
<rect x="552.9" y="204.7" width="6.2" height="6.2" fill="#ff0000" stroke="#000" stroke-width="0.7"/>
<path d="M216.8 192.6V216.4M214.3 192.6h5M214.3 216.4h5" stroke="#800000" stroke-width="1.15" fill="none"/>
<circle cx="216.8" cy="205.1" r="3.2" fill="#800000" stroke="#000" stroke-width="0.7"/>
<path d="M162.7 183.9V208.0M160.2 183.9h5M160.2 208.0h5" stroke="#800000" stroke-width="1.15" fill="none"/>
<circle cx="162.7" cy="195.6" r="3.2" fill="#800000" stroke="#000" stroke-width="0.7"/>
<path d="M562.4 180.6V218.5M559.9 180.6h5M559.9 218.5h5" stroke="#000080" stroke-width="1.15" fill="none"/>
<path d="M562.4 195.5L565.9 199.0L562.4 202.5L558.9 199.0Z" fill="#000080" stroke="#000" stroke-width="0.7"/>
<path d="M514.1 205.6V241.7M511.6 205.6h5M511.6 241.7h5" stroke="#008000" stroke-width="1.15" fill="none"/>
<path d="M514.1 219.5L517.7 226.2L510.5 226.2Z" fill="#008000" stroke="#000" stroke-width="0.7"/>
<path d="M583.6 171.2V190.1M581.1 171.2h5M581.1 190.1h5" stroke="#0000ff" stroke-width="1.15" fill="none"/>
<circle cx="583.6" cy="180.9" r="3.2" fill="#0000ff" stroke="#000" stroke-width="0.7"/>
<path d="M146.9 162.8V225.9M144.4 162.8h5M144.4 225.9h5" stroke="#ff0000" stroke-width="1.15" fill="none"/>
<rect x="143.8" y="189.4" width="6.2" height="6.2" fill="#ff0000" stroke="#000" stroke-width="0.7"/>
<path d="M238.7 192.5V214.1M236.2 192.5h5M236.2 214.1h5" stroke="#000080" stroke-width="1.15" fill="none"/>
<path d="M238.7 199.5L242.2 203.0L238.7 206.5L235.2 203.0Z" fill="#000080" stroke="#000" stroke-width="0.7"/>
<path d="M404.3 199.8V222.1M401.8 199.8h5M401.8 222.1h5" stroke="#0000ff" stroke-width="1.15" fill="none"/>
<circle cx="404.3" cy="209.9" r="3.2" fill="#0000ff" stroke="#000" stroke-width="0.7"/>
<path d="M478.8 223.0V244.0M476.3 223.0h5M476.3 244.0h5" stroke="#800080" stroke-width="1.15" fill="none"/>
<path d="M478.8 230.3L482.3 233.8L478.8 237.3L475.3 233.8Z" fill="#800080" stroke="#000" stroke-width="0.7"/>
<path d="M164.9 174.8V204.1M162.4 174.8h5M162.4 204.1h5" stroke="#008080" stroke-width="1.15" fill="none"/>
<path d="M160.7 190.4H169.1M164.9 186.2V194.6" stroke="#008080" stroke-width="2.2" fill="none"/>
<path d="M112.3 168.3V192.7M109.8 168.3h5M109.8 192.7h5" stroke="#0000ff" stroke-width="1.15" fill="none"/>
<rect x="109.2" y="177.8" width="6.2" height="6.2" fill="#0000ff" stroke="#000" stroke-width="0.7"/>
<path d="M151.5 167.8V240.0M149.0 167.8h5M149.0 240.0h5" stroke="#ff0000" stroke-width="1.15" fill="none"/>
<rect x="148.4" y="203.3" width="6.2" height="6.2" fill="#ff0000" stroke="#000" stroke-width="0.7"/>
<path d="M310.2 170.3V194.7M307.7 170.3h5M307.7 194.7h5" stroke="#008000" stroke-width="1.15" fill="none"/>
<path d="M310.2 179.0L313.8 185.7L306.6 185.7Z" fill="#008000" stroke="#000" stroke-width="0.7"/>
<path d="M207.6 222.3V246.1M205.1 222.3h5M205.1 246.1h5" stroke="#000000" stroke-width="1.15" fill="none"/>
<circle cx="207.6" cy="234.9" r="3.2" fill="#000000" stroke="#000" stroke-width="0.7"/>
<path d="M455.4 196.4V217.7M452.9 196.4h5M452.9 217.7h5" stroke="#000080" stroke-width="1.15" fill="none"/>
<path d="M455.4 209.9L459.0 203.2L451.8 203.2Z" fill="#000080" stroke="#000" stroke-width="0.7"/>
<path d="M513.7 176.4V215.3M511.2 176.4h5M511.2 215.3h5" stroke="#808080" stroke-width="1.15" fill="none"/>
<path d="M509.0 193.8L518.4 193.8M510.4 190.4L517.0 197.1M513.7 189.1L513.7 198.5M517.0 190.4L510.4 197.1" stroke="#808080" stroke-width="1.8" fill="none"/>
<path d="M404.9 220.0V259.0M402.4 220.0h5M402.4 259.0h5" stroke="#000000" stroke-width="1.15" fill="none"/>
<circle cx="404.9" cy="239.9" r="3.2" fill="#000000" stroke="#000" stroke-width="0.7"/>
<path d="M334.1 184.2V216.9M331.6 184.2h5M331.6 216.9h5" stroke="#0000ff" stroke-width="1.15" fill="none"/>
<circle cx="334.1" cy="200.3" r="3.2" fill="#0000ff" stroke="#000" stroke-width="0.7"/>
<path d="M370.2 205.1V230.4M367.7 205.1h5M367.7 230.4h5" stroke="#808080" stroke-width="1.15" fill="none"/>
<path d="M365.5 218.5L374.9 218.5M366.8 215.2L373.5 221.8M370.2 213.8L370.2 223.2M373.5 215.2L366.8 221.8" stroke="#808080" stroke-width="1.8" fill="none"/>
<path d="M187.1 205.2V229.0M184.6 205.2h5M184.6 229.0h5" stroke="#000000" stroke-width="1.15" fill="none"/>
<circle cx="187.1" cy="215.7" r="3.2" fill="#000000" stroke="#000" stroke-width="0.7"/>
<path d="M343.9 194.9V224.6M341.4 194.9h5M341.4 224.6h5" stroke="#ff0000" stroke-width="1.15" fill="none"/>
<rect x="340.8" y="207.4" width="6.2" height="6.2" fill="#ff0000" stroke="#000" stroke-width="0.7"/>
<path d="M515.1 190.9V221.2M512.6 190.9h5M512.6 221.2h5" stroke="#808080" stroke-width="1.15" fill="none"/>
<path d="M510.4 206.6L519.8 206.6M511.8 203.3L518.5 210.0M515.1 201.9L515.1 211.3M518.5 203.3L511.8 210.0" stroke="#808080" stroke-width="1.8" fill="none"/>
<path d="M209.5 190.4V229.5M207.0 190.4h5M207.0 229.5h5" stroke="#0000ff" stroke-width="1.15" fill="none"/>
<circle cx="209.5" cy="212.0" r="3.2" fill="#0000ff" stroke="#000" stroke-width="0.7"/>
<path d="M163.2 168.9V193.3M160.7 168.9h5M160.7 193.3h5" stroke="#000080" stroke-width="1.15" fill="none"/>
<path d="M163.2 177.6L166.7 181.1L163.2 184.6L159.7 181.1Z" fill="#000080" stroke="#000" stroke-width="0.7"/>
<path d="M246.6 188.5V210.5M244.1 188.5h5M244.1 210.5h5" stroke="#008000" stroke-width="1.15" fill="none"/>
<path d="M246.6 195.0L250.2 201.7L243.0 201.7Z" fill="#008000" stroke="#000" stroke-width="0.7"/>
<path d="M386.8 192.1V219.0M384.3 192.1h5M384.3 219.0h5" stroke="#008000" stroke-width="1.15" fill="none"/>
<path d="M386.8 201.2L390.4 207.9L383.2 207.9Z" fill="#008000" stroke="#000" stroke-width="0.7"/>
<path d="M198.4 194.2V223.7M195.9 194.2h5M195.9 223.7h5" stroke="#ff0000" stroke-width="1.15" fill="none"/>
<rect x="195.3" y="206.5" width="6.2" height="6.2" fill="#ff0000" stroke="#000" stroke-width="0.7"/>
<path d="M479.8 226.3V254.8M477.3 226.3h5M477.3 254.8h5" stroke="#000080" stroke-width="1.15" fill="none"/>
<path d="M479.8 237.2L483.3 240.7L479.8 244.2L476.3 240.7Z" fill="#000080" stroke="#000" stroke-width="0.7"/>
<path d="M120.3 170.7V198.6M117.8 170.7h5M117.8 198.6h5" stroke="#0000ff" stroke-width="1.15" fill="none"/>
<rect x="117.2" y="180.3" width="6.2" height="6.2" fill="#0000ff" stroke="#000" stroke-width="0.7"/>
<path d="M343.7 198.8V229.7M341.2 198.8h5M341.2 229.7h5" stroke="#800080" stroke-width="1.15" fill="none"/>
<path d="M339.5 215.0H347.9M343.7 210.8V219.2" stroke="#800080" stroke-width="2.2" fill="none"/>
<path d="M526.3 175.8V217.0M523.8 175.8h5M523.8 217.0h5" stroke="#800000" stroke-width="1.15" fill="none"/>
<path d="M526.3 194.6L529.9 201.3L522.7 201.3Z" fill="#800000" stroke="#000" stroke-width="0.7"/>
<path d="M263.1 196.7V224.4M260.6 196.7h5M260.6 224.4h5" stroke="#ff0000" stroke-width="1.15" fill="none"/>
<rect x="260.0" y="206.4" width="6.2" height="6.2" fill="#ff0000" stroke="#000" stroke-width="0.7"/>
<path d="M97.6 167.5V186.6M95.1 167.5h5M95.1 186.6h5" stroke="#808080" stroke-width="1.15" fill="none"/>
<rect x="94.9" y="174.4" width="5.4" height="5.4" fill="#808080" stroke="#000" stroke-width="1.9"/>
<path d="M311.7 179.4V207.0M309.2 179.4h5M309.2 207.0h5" stroke="#000080" stroke-width="1.15" fill="none"/>
<path d="M311.7 191.4L315.2 194.9L311.7 198.4L308.2 194.9Z" fill="#000080" stroke="#000" stroke-width="0.7"/>
<path d="M302.7 170.8V212.9M300.2 170.8h5M300.2 212.9h5" stroke="#800080" stroke-width="1.15" fill="none"/>
<path d="M302.7 187.8L306.2 191.3L302.7 194.8L299.2 191.3Z" fill="#800080" stroke="#000" stroke-width="0.7"/>
<path d="M231.1 201.0V223.0M228.6 201.0h5M228.6 223.0h5" stroke="#ff0000" stroke-width="1.15" fill="none"/>
<path d="M226.4 212.4L235.8 212.4M227.8 209.1L234.4 215.8M231.1 207.7L231.1 217.1M234.4 209.1L227.8 215.8" stroke="#ff0000" stroke-width="1.8" fill="none"/>
<path d="M464.9 189.7V233.3M462.4 189.7h5M462.4 233.3h5" stroke="#ff0000" stroke-width="1.15" fill="none"/>
<rect x="461.8" y="209.1" width="6.2" height="6.2" fill="#ff0000" stroke="#000" stroke-width="0.7"/>
<path d="M517.6 192.7V237.4M515.1 192.7h5M515.1 237.4h5" stroke="#0000ff" stroke-width="1.15" fill="none"/>
<circle cx="517.6" cy="215.9" r="3.2" fill="#0000ff" stroke="#000" stroke-width="0.7"/>
<path d="M457.3 223.6V251.8M454.8 223.6h5M454.8 251.8h5" stroke="#800000" stroke-width="1.15" fill="none"/>
<circle cx="457.3" cy="237.3" r="3.2" fill="#800000" stroke="#000" stroke-width="0.7"/>
<path d="M542.5 187.7V217.1M540.0 187.7h5M540.0 217.1h5" stroke="#ff0000" stroke-width="1.15" fill="none"/>
<path d="M537.8 202.6L547.2 202.6M539.2 199.2L545.8 205.9M542.5 197.9L542.5 207.3M545.8 199.2L539.2 205.9" stroke="#ff0000" stroke-width="1.8" fill="none"/>
<path d="M329.2 165.8V180.5M326.7 165.8h5M326.7 180.5h5" stroke="#800080" stroke-width="1.15" fill="none"/>
<path d="M329.2 169.6L332.7 173.1L329.2 176.6L325.7 173.1Z" fill="#800080" stroke="#000" stroke-width="0.7"/>
<path d="M176.3 177.1V211.4M173.8 177.1h5M173.8 211.4h5" stroke="#ff0000" stroke-width="1.15" fill="none"/>
<path d="M171.6 193.5L181.0 193.5M173.0 190.2L179.7 196.9M176.3 188.8L176.3 198.2M179.7 190.2L173.0 196.9" stroke="#ff0000" stroke-width="1.8" fill="none"/>
<path d="M479.0 222.8V239.4M476.5 222.8h5M476.5 239.4h5" stroke="#000000" stroke-width="1.15" fill="none"/>
<circle cx="479.0" cy="230.5" r="3.2" fill="#000000" stroke="#000" stroke-width="0.7"/>
<path d="M321.2 160.3V182.1M318.7 160.3h5M318.7 182.1h5" stroke="#800000" stroke-width="1.15" fill="none"/>
<path d="M321.2 167.4L324.8 174.1L317.6 174.1Z" fill="#800000" stroke="#000" stroke-width="0.7"/>
<path d="M240.9 190.3V214.8M238.4 190.3h5M238.4 214.8h5" stroke="#008000" stroke-width="1.15" fill="none"/>
<path d="M240.9 199.6L244.5 206.3L237.3 206.3Z" fill="#008000" stroke="#000" stroke-width="0.7"/>
<path d="M191.0 200.5V225.7M188.5 200.5h5M188.5 225.7h5" stroke="#ff0000" stroke-width="1.15" fill="none"/>
<path d="M186.3 214.0L195.7 214.0M187.7 210.7L194.3 217.3M191.0 209.3L191.0 218.7M194.3 210.7L187.7 217.3" stroke="#ff0000" stroke-width="1.8" fill="none"/>
<path d="M310.4 152.5V168.4M307.9 152.5h5M307.9 168.4h5" stroke="#000080" stroke-width="1.15" fill="none"/>
<path d="M310.4 156.9L313.9 160.4L310.4 163.9L306.9 160.4Z" fill="#000080" stroke="#000" stroke-width="0.7"/>
<path d="M324.4 189.0V205.7M321.9 189.0h5M321.9 205.7h5" stroke="#000080" stroke-width="1.15" fill="none"/>
<path d="M324.4 193.8L327.9 197.3L324.4 200.8L320.9 197.3Z" fill="#000080" stroke="#000" stroke-width="0.7"/>
<path d="M225.1 195.9V213.8M222.6 195.9h5M222.6 213.8h5" stroke="#000080" stroke-width="1.15" fill="none"/>
<path d="M225.1 200.8L228.6 204.3L225.1 207.8L221.6 204.3Z" fill="#000080" stroke="#000" stroke-width="0.7"/>
<path d="M565.5 178.3V200.1M563.0 178.3h5M563.0 200.1h5" stroke="#000000" stroke-width="1.15" fill="none"/>
<circle cx="565.5" cy="188.4" r="3.2" fill="#000000" stroke="#000" stroke-width="0.7"/>
<path d="M164.1 197.0V229.0M161.6 197.0h5M161.6 229.0h5" stroke="#000080" stroke-width="1.15" fill="none"/>
<path d="M164.1 214.9L167.7 208.2L160.5 208.2Z" fill="#000080" stroke="#000" stroke-width="0.7"/>
<path d="M316.6 182.1V202.1M314.1 182.1h5M314.1 202.1h5" stroke="#008080" stroke-width="1.15" fill="none"/>
<path d="M312.4 191.3H320.8M316.6 187.1V195.5" stroke="#008080" stroke-width="2.2" fill="none"/>
<path d="M100.0 169.4V192.6M97.5 169.4h5M97.5 192.6h5" stroke="#0000ff" stroke-width="1.15" fill="none"/>
<rect x="96.9" y="178.0" width="6.2" height="6.2" fill="#0000ff" stroke="#000" stroke-width="0.7"/>
<path d="M374.4 209.9V272.4M371.9 209.9h5M371.9 272.4h5" stroke="#000000" stroke-width="1.15" fill="none"/>
<circle cx="374.4" cy="239.1" r="3.2" fill="#000000" stroke="#000" stroke-width="0.7"/>
<path d="M427.7 216.9V243.7M425.2 216.9h5M425.2 243.7h5" stroke="#800080" stroke-width="1.15" fill="none"/>
<path d="M423.5 228.9H431.9M427.7 224.7V233.1" stroke="#800080" stroke-width="2.2" fill="none"/>
<path d="M522.7 191.6V251.3M520.2 191.6h5M520.2 251.3h5" stroke="#000080" stroke-width="1.15" fill="none"/>
<path d="M522.7 228.7L526.3 222.0L519.1 222.0Z" fill="#000080" stroke="#000" stroke-width="0.7"/>
<path d="M144.7 178.6V197.2M142.2 178.6h5M142.2 197.2h5" stroke="#800000" stroke-width="1.15" fill="none"/>
<path d="M144.7 184.4L148.3 191.1L141.1 191.1Z" fill="#800000" stroke="#000" stroke-width="0.7"/>
<path d="M183.3 182.1V197.6M180.8 182.1h5M180.8 197.6h5" stroke="#008000" stroke-width="1.15" fill="none"/>
<path d="M183.3 186.7L186.9 193.4L179.7 193.4Z" fill="#008000" stroke="#000" stroke-width="0.7"/>
<path d="M533.2 186.1V204.1M530.7 186.1h5M530.7 204.1h5" stroke="#008000" stroke-width="1.15" fill="none"/>
<path d="M533.2 192.1L536.8 198.8L529.6 198.8Z" fill="#008000" stroke="#000" stroke-width="0.7"/>
<path d="M474.4 199.9V232.9M471.9 199.9h5M471.9 232.9h5" stroke="#000080" stroke-width="1.15" fill="none"/>
<path d="M474.4 214.3L477.9 217.8L474.4 221.3L470.9 217.8Z" fill="#000080" stroke="#000" stroke-width="0.7"/>
<path d="M220.3 182.5V246.2M217.8 182.5h5M217.8 246.2h5" stroke="#000000" stroke-width="1.15" fill="none"/>
<circle cx="220.3" cy="216.4" r="3.2" fill="#000000" stroke="#000" stroke-width="0.7"/>
<path d="M251.0 199.4V228.9M248.5 199.4h5M248.5 228.9h5" stroke="#800000" stroke-width="1.15" fill="none"/>
<path d="M251.0 210.6L254.6 217.3L247.4 217.3Z" fill="#800000" stroke="#000" stroke-width="0.7"/>
<path d="M120.8 190.3V225.0M118.3 190.3h5M118.3 225.0h5" stroke="#000080" stroke-width="1.15" fill="none"/>
<path d="M120.8 203.6L124.3 207.1L120.8 210.6L117.3 207.1Z" fill="#000080" stroke="#000" stroke-width="0.7"/>
<path d="M320.7 170.8V188.6M318.2 170.8h5M318.2 188.6h5" stroke="#800000" stroke-width="1.15" fill="none"/>
<circle cx="320.7" cy="178.7" r="3.2" fill="#800000" stroke="#000" stroke-width="0.7"/>
<path d="M144.6 175.6V209.1M142.1 175.6h5M142.1 209.1h5" stroke="#000080" stroke-width="1.15" fill="none"/>
<path d="M144.6 195.7L148.2 189.0L141.0 189.0Z" fill="#000080" stroke="#000" stroke-width="0.7"/>
<path d="M339.4 187.0V207.8M336.9 187.0h5M336.9 207.8h5" stroke="#000080" stroke-width="1.15" fill="none"/>
<path d="M339.4 202.0L343.0 195.3L335.8 195.3Z" fill="#000080" stroke="#000" stroke-width="0.7"/>
<path d="M545.9 178.9V216.5M543.4 178.9h5M543.4 216.5h5" stroke="#800080" stroke-width="1.15" fill="none"/>
<path d="M545.9 193.8L549.4 197.3L545.9 200.8L542.4 197.3Z" fill="#800080" stroke="#000" stroke-width="0.7"/>
<path d="M278.0 184.5V206.1M275.5 184.5h5M275.5 206.1h5" stroke="#000080" stroke-width="1.15" fill="none"/>
<path d="M278.0 200.1L281.6 193.4L274.4 193.4Z" fill="#000080" stroke="#000" stroke-width="0.7"/>
<path d="M426.2 186.2V221.6M423.7 186.2h5M423.7 221.6h5" stroke="#0000ff" stroke-width="1.15" fill="none"/>
<circle cx="426.2" cy="204.5" r="3.2" fill="#0000ff" stroke="#000" stroke-width="0.7"/>
<path d="M564.5 171.2V192.8M562.0 171.2h5M562.0 192.8h5" stroke="#0000ff" stroke-width="1.15" fill="none"/>
<circle cx="564.5" cy="182.6" r="3.2" fill="#0000ff" stroke="#000" stroke-width="0.7"/>
<path d="M575.4 171.7V192.2M572.9 171.7h5M572.9 192.2h5" stroke="#ff0000" stroke-width="1.15" fill="none"/>
<path d="M570.7 182.9L580.1 182.9M572.1 179.6L578.7 186.2M575.4 178.2L575.4 187.6M578.7 179.6L572.1 186.2" stroke="#ff0000" stroke-width="1.8" fill="none"/>
<path d="M363.8 192.2V209.4M361.3 192.2h5M361.3 209.4h5" stroke="#008000" stroke-width="1.15" fill="none"/>
<path d="M363.8 197.0L367.4 203.7L360.2 203.7Z" fill="#008000" stroke="#000" stroke-width="0.7"/>
<path d="M503.3 198.6V222.2M500.8 198.6h5M500.8 222.2h5" stroke="#ff0000" stroke-width="1.15" fill="none"/>
<path d="M498.6 210.3L508.0 210.3M500.0 206.9L506.7 213.6M503.3 205.6L503.3 215.0M506.7 206.9L500.0 213.6" stroke="#ff0000" stroke-width="1.8" fill="none"/>
<path d="M234.4 191.0V217.0M231.9 191.0h5M231.9 217.0h5" stroke="#ff0000" stroke-width="1.15" fill="none"/>
<path d="M229.7 204.9L239.1 204.9M231.1 201.5L237.7 208.2M234.4 200.2L234.4 209.6M237.7 201.5L231.1 208.2" stroke="#ff0000" stroke-width="1.8" fill="none"/>
<path d="M332.2 183.1V200.3M329.7 183.1h5M329.7 200.3h5" stroke="#800000" stroke-width="1.15" fill="none"/>
<circle cx="332.2" cy="192.1" r="3.2" fill="#800000" stroke="#000" stroke-width="0.7"/>
<path d="M503.7 217.5V266.5M501.2 217.5h5M501.2 266.5h5" stroke="#000080" stroke-width="1.15" fill="none"/>
<path d="M503.7 238.0L507.2 241.5L503.7 245.0L500.2 241.5Z" fill="#000080" stroke="#000" stroke-width="0.7"/>
<path d="M550.1 194.1V213.0M547.6 194.1h5M547.6 213.0h5" stroke="#808080" stroke-width="1.15" fill="none"/>
<path d="M545.4 203.8L554.8 203.8M546.8 200.5L553.4 207.1M550.1 199.1L550.1 208.5M553.4 200.5L546.8 207.1" stroke="#808080" stroke-width="1.8" fill="none"/>
<path d="M246.8 187.0V214.2M244.3 187.0h5M244.3 214.2h5" stroke="#000080" stroke-width="1.15" fill="none"/>
<path d="M246.8 204.0L250.4 197.3L243.2 197.3Z" fill="#000080" stroke="#000" stroke-width="0.7"/>
<path d="M547.3 181.5V200.1M544.8 181.5h5M544.8 200.1h5" stroke="#800000" stroke-width="1.15" fill="none"/>
<circle cx="547.3" cy="190.8" r="3.2" fill="#800000" stroke="#000" stroke-width="0.7"/>
<path d="M470.7 212.4V238.9M468.2 212.4h5M468.2 238.9h5" stroke="#008000" stroke-width="1.15" fill="none"/>
<path d="M470.7 229.4L474.3 222.7L467.1 222.7Z" fill="#008000" stroke="#000" stroke-width="0.7"/>
<path d="M264.5 191.6V227.9M262.0 191.6h5M262.0 227.9h5" stroke="#000080" stroke-width="1.15" fill="none"/>
<path d="M264.5 207.2L268.0 210.7L264.5 214.2L261.0 210.7Z" fill="#000080" stroke="#000" stroke-width="0.7"/>
<path d="M466.0 191.6V214.9M463.5 191.6h5M463.5 214.9h5" stroke="#800000" stroke-width="1.15" fill="none"/>
<circle cx="466.0" cy="202.8" r="3.2" fill="#800000" stroke="#000" stroke-width="0.7"/>
<path d="M116.6 171.3V191.8M114.1 171.3h5M114.1 191.8h5" stroke="#000080" stroke-width="1.15" fill="none"/>
<path d="M116.6 184.4L120.2 177.7L113.0 177.7Z" fill="#000080" stroke="#000" stroke-width="0.7"/>
<path d="M308.9 181.3V210.3M306.4 181.3h5M306.4 210.3h5" stroke="#800000" stroke-width="1.15" fill="none"/>
<circle cx="308.9" cy="195.2" r="3.2" fill="#800000" stroke="#000" stroke-width="0.7"/>
<path d="M418.0 205.6V221.9M415.5 205.6h5M415.5 221.9h5" stroke="#800080" stroke-width="1.15" fill="none"/>
<path d="M413.8 213.1H422.2M418.0 208.9V217.3" stroke="#800080" stroke-width="2.2" fill="none"/>
<path d="M173.6 185.4V215.4M171.1 185.4h5M171.1 215.4h5" stroke="#800000" stroke-width="1.15" fill="none"/>
<circle cx="173.6" cy="199.2" r="3.2" fill="#800000" stroke="#000" stroke-width="0.7"/>
<path d="M340.1 183.0V200.1M337.6 183.0h5M337.6 200.1h5" stroke="#000080" stroke-width="1.15" fill="none"/>
<path d="M340.1 195.5L343.7 188.8L336.5 188.8Z" fill="#000080" stroke="#000" stroke-width="0.7"/>
<path d="M435.1 203.1V220.9M432.6 203.1h5M432.6 220.9h5" stroke="#800000" stroke-width="1.15" fill="none"/>
<path d="M435.1 208.0L438.7 214.7L431.5 214.7Z" fill="#800000" stroke="#000" stroke-width="0.7"/>
<path d="M459.7 214.3V233.7M457.2 214.3h5M457.2 233.7h5" stroke="#008080" stroke-width="1.15" fill="none"/>
<rect x="457.0" y="221.2" width="5.4" height="5.4" fill="#008080" stroke="#000" stroke-width="1.9"/>
<path d="M322.1 167.4V188.0M319.6 167.4h5M319.6 188.0h5" stroke="#008000" stroke-width="1.15" fill="none"/>
<path d="M322.1 173.6L325.7 180.3L318.5 180.3Z" fill="#008000" stroke="#000" stroke-width="0.7"/>
<path d="M172.1 182.4V199.3M169.6 182.4h5M169.6 199.3h5" stroke="#000080" stroke-width="1.15" fill="none"/>
<path d="M172.1 194.2L175.7 187.5L168.5 187.5Z" fill="#000080" stroke="#000" stroke-width="0.7"/>
<path d="M233.9 185.2V208.4M231.4 185.2h5M231.4 208.4h5" stroke="#000000" stroke-width="1.15" fill="none"/>
<circle cx="233.9" cy="196.7" r="3.2" fill="#000000" stroke="#000" stroke-width="0.7"/>
<path d="M568.4 171.4V199.8M565.9 171.4h5M565.9 199.8h5" stroke="#800080" stroke-width="1.15" fill="none"/>
<path d="M568.4 182.3L571.9 185.8L568.4 189.3L564.9 185.8Z" fill="#800080" stroke="#000" stroke-width="0.7"/>
<path d="M495.9 219.4V236.7M493.4 219.4h5M493.4 236.7h5" stroke="#000000" stroke-width="1.15" fill="none"/>
<circle cx="495.9" cy="228.6" r="3.2" fill="#000000" stroke="#000" stroke-width="0.7"/>
<path d="M257.5 187.3V215.5M255.0 187.3h5M255.0 215.5h5" stroke="#800080" stroke-width="1.15" fill="none"/>
<path d="M253.3 200.8H261.7M257.5 196.6V205.0" stroke="#800080" stroke-width="2.2" fill="none"/>
<path d="M193.8 204.8V227.5M191.3 204.8h5M191.3 227.5h5" stroke="#000000" stroke-width="1.15" fill="none"/>
<circle cx="193.8" cy="216.3" r="3.2" fill="#000000" stroke="#000" stroke-width="0.7"/>
<path d="M471.0 221.9V244.4M468.5 221.9h5M468.5 244.4h5" stroke="#0000ff" stroke-width="1.15" fill="none"/>
<circle cx="471.0" cy="231.9" r="3.2" fill="#0000ff" stroke="#000" stroke-width="0.7"/>
<path d="M506.3 210.7V228.0M503.8 210.7h5M503.8 228.0h5" stroke="#0000ff" stroke-width="1.15" fill="none"/>
<circle cx="506.3" cy="219.0" r="3.2" fill="#0000ff" stroke="#000" stroke-width="0.7"/>
<path d="M97.9 171.9V205.4M95.4 171.9h5M95.4 205.4h5" stroke="#008000" stroke-width="1.15" fill="none"/>
<path d="M97.9 191.9L101.5 185.2L94.3 185.2Z" fill="#008000" stroke="#000" stroke-width="0.7"/>
<path d="M214.8 209.1V243.2M212.3 209.1h5M212.3 243.2h5" stroke="#0000ff" stroke-width="1.15" fill="none"/>
<rect x="211.7" y="222.9" width="6.2" height="6.2" fill="#0000ff" stroke="#000" stroke-width="0.7"/>
<path d="M294.7 182.7V202.9M292.2 182.7h5M292.2 202.9h5" stroke="#ff0000" stroke-width="1.15" fill="none"/>
<path d="M290.0 193.6L299.4 193.6M291.4 190.2L298.1 196.9M294.7 188.9L294.7 198.3M298.1 190.2L291.4 196.9" stroke="#ff0000" stroke-width="1.8" fill="none"/>
<path d="M373.2 204.0V222.1M370.7 204.0h5M370.7 222.1h5" stroke="#0000ff" stroke-width="1.15" fill="none"/>
<rect x="370.1" y="210.0" width="6.2" height="6.2" fill="#0000ff" stroke="#000" stroke-width="0.7"/>
<path d="M494.2 222.1V245.9M491.7 222.1h5M491.7 245.9h5" stroke="#800080" stroke-width="1.15" fill="none"/>
<path d="M490.0 233.9H498.4M494.2 229.7V238.1" stroke="#800080" stroke-width="2.2" fill="none"/>
<path d="M489.0 223.5V243.5M486.5 223.5h5M486.5 243.5h5" stroke="#ff0000" stroke-width="1.15" fill="none"/>
<rect x="485.9" y="230.8" width="6.2" height="6.2" fill="#ff0000" stroke="#000" stroke-width="0.7"/>
<path d="M146.6 158.8V225.0M144.1 158.8h5M144.1 225.0h5" stroke="#008080" stroke-width="1.15" fill="none"/>
<rect x="143.9" y="189.0" width="5.4" height="5.4" fill="#008080" stroke="#000" stroke-width="1.9"/>
<path d="M171.5 185.1V206.7M169.0 185.1h5M169.0 206.7h5" stroke="#008080" stroke-width="1.15" fill="none"/>
<path d="M167.3 196.3H175.7M171.5 192.1V200.5" stroke="#008080" stroke-width="2.2" fill="none"/>
<path d="M498.6 208.4V233.7M496.1 208.4h5M496.1 233.7h5" stroke="#000080" stroke-width="1.15" fill="none"/>
<path d="M498.6 223.6L502.2 216.9L495.0 216.9Z" fill="#000080" stroke="#000" stroke-width="0.7"/>
<path d="M124.6 183.9V220.0M122.1 183.9h5M122.1 220.0h5" stroke="#000000" stroke-width="1.15" fill="none"/>
<circle cx="124.6" cy="201.5" r="3.2" fill="#000000" stroke="#000" stroke-width="0.7"/>
<path d="M276.1 173.9V209.0M273.6 173.9h5M273.6 209.0h5" stroke="#ff0000" stroke-width="1.15" fill="none"/>
<path d="M271.4 190.7L280.8 190.7M272.8 187.4L279.4 194.1M276.1 186.0L276.1 195.4M279.4 187.4L272.8 194.1" stroke="#ff0000" stroke-width="1.8" fill="none"/>
<path d="M305.3 172.4V196.1M302.8 172.4h5M302.8 196.1h5" stroke="#800000" stroke-width="1.15" fill="none"/>
<circle cx="305.3" cy="185.3" r="3.2" fill="#800000" stroke="#000" stroke-width="0.7"/>
<path d="M196.1 209.5V232.5M193.6 209.5h5M193.6 232.5h5" stroke="#ff0000" stroke-width="1.15" fill="none"/>
<path d="M191.4 220.6L200.8 220.6M192.8 217.3L199.5 223.9M196.1 215.9L196.1 225.3M199.5 217.3L192.8 223.9" stroke="#ff0000" stroke-width="1.8" fill="none"/>
<path d="M172.6 172.7V191.6M170.1 172.7h5M170.1 191.6h5" stroke="#800000" stroke-width="1.15" fill="none"/>
<path d="M172.6 179.2L176.2 185.9L169.0 185.9Z" fill="#800000" stroke="#000" stroke-width="0.7"/>
<path d="M304.3 158.1V178.1M301.8 158.1h5M301.8 178.1h5" stroke="#ff0000" stroke-width="1.15" fill="none"/>
<rect x="301.2" y="165.7" width="6.2" height="6.2" fill="#ff0000" stroke="#000" stroke-width="0.7"/>
<path d="M424.2 201.4V216.2M421.7 201.4h5M421.7 216.2h5" stroke="#800000" stroke-width="1.15" fill="none"/>
<circle cx="424.2" cy="208.9" r="3.2" fill="#800000" stroke="#000" stroke-width="0.7"/>
<path d="M106.8 171.9V197.5M104.3 171.9h5M104.3 197.5h5" stroke="#000000" stroke-width="1.15" fill="none"/>
<circle cx="106.8" cy="185.2" r="3.2" fill="#000000" stroke="#000" stroke-width="0.7"/>
<path d="M391.0 124.0V283.0M388.5 124.0h5M388.5 283.0h5" stroke="#008080" stroke-width="1" fill="none"/>
<path d="M386.2 204.0H395.8M391.0 199.2V208.8" stroke="#008080" stroke-width="2.2" fill="none"/>
<path d="M162.7 148.0V205.0M160.2 148.0h5M160.2 205.0h5" stroke="#0000ff" stroke-width="1" fill="none"/>
<path d="M108.0 202.0V253.0M105.5 202.0h5M105.5 253.0h5" stroke="#800080" stroke-width="1" fill="none"/>
<path d="M143.0 203.0V266.0M140.5 203.0h5M140.5 266.0h5" stroke="#800080" stroke-width="1" fill="none"/>
<path d="M138.2 223.0H147.8M143.0 218.2V227.8" stroke="#800080" stroke-width="2.2" fill="none"/>
<path d="M176.0 210.0V275.0M173.5 210.0h5M173.5 275.0h5" stroke="#800080" stroke-width="1" fill="none"/>
<path d="M171.2 232.0H180.8M176.0 227.2V236.8" stroke="#800080" stroke-width="2.2" fill="none"/>
<path d="M307.5 134.0V190.0M305.0 134.0h5M305.0 190.0h5" stroke="#0000ff" stroke-width="1" fill="none"/>
<path d="M239.7 154.0V200.0M237.2 154.0h5M237.2 200.0h5" stroke="#0000ff" stroke-width="1" fill="none"/>
<path d="M359.4 155.0V220.0M356.9 155.0h5M356.9 220.0h5" stroke="#808080" stroke-width="1" fill="none"/>
<path d="M548.0 146.0V232.0M545.5 146.0h5M545.5 232.0h5" stroke="#000080" stroke-width="1" fill="none"/>
<path d="M560.0 198.0V247.0M557.5 198.0h5M557.5 247.0h5" stroke="#800080" stroke-width="1" fill="none"/>
<path d="M594.0 208.0V265.0M591.5 208.0h5M591.5 265.0h5" stroke="#800080" stroke-width="1" fill="none"/>
<path d="M589.2 223.0H598.8M594.0 218.2V227.8" stroke="#800080" stroke-width="2.2" fill="none"/>
<path d="M462.0 159.0V205.0M459.5 159.0h5M459.5 205.0h5" stroke="#0000ff" stroke-width="1" fill="none"/>
<path d="M325.0 198.5V238.5M322.5 198.5h5M322.5 238.5h5" stroke="#000080" stroke-width="1" fill="none"/>
<path d="M325.0 209.4L329.1 213.5L325.0 217.6L320.9 213.5Z" fill="#000080" stroke="#000" stroke-width="0.7"/>
<circle cx="458" cy="232.3" r="6.5" fill="none" stroke="#0000ff" stroke-width="1.2"/>
<path d="M99.0 211.0V230.0M96.5 211.0h5M96.5 230.0h5" stroke="#ff0000" stroke-width="1.15" fill="none"/>
<path d="M94.0 221.0L104.0 221.0M95.5 217.5L102.5 224.5M99.0 216.0L99.0 226.0M102.5 217.5L95.5 224.5" stroke="#ff0000" stroke-width="1.8" fill="none"/>
<path d="M101.0 205.0V224.0M98.5 205.0h5M98.5 224.0h5" stroke="#ff0000" stroke-width="1.15" fill="none"/>
<path d="M96.0 215.0L106.0 215.0M97.5 211.5L104.5 218.5M101.0 210.0L101.0 220.0M104.5 211.5L97.5 218.5" stroke="#ff0000" stroke-width="1.8" fill="none"/>
<path d="M118.0 200.0V219.0M115.5 200.0h5M115.5 219.0h5" stroke="#ff0000" stroke-width="1.15" fill="none"/>
<path d="M113.0 210.0L123.0 210.0M114.5 206.5L121.5 213.5M118.0 205.0L118.0 215.0M121.5 206.5L114.5 213.5" stroke="#ff0000" stroke-width="1.8" fill="none"/></g>
<rect x="66" y="3.9" width="562" height="402" fill="none" stroke="#000" stroke-width="2"/>
<path d="M67 35.6h7M627 35.6h-7" stroke="#111" stroke-width="1.3"/>
<text x="62.3" y="41.3" font-size="15.6" text-anchor="end" textLength="39.5" lengthAdjust="spacingAndGlyphs" font-family="Liberation Sans, sans-serif" font-weight="bold">16.30</text>
<path d="M67 63.2h7M627 63.2h-7" stroke="#111" stroke-width="1.3"/>
<text x="62.3" y="69.0" font-size="15.6" text-anchor="end" textLength="39.5" lengthAdjust="spacingAndGlyphs" font-family="Liberation Sans, sans-serif" font-weight="bold">16.35</text>
<path d="M67 90.9h7M627 90.9h-7" stroke="#111" stroke-width="1.3"/>
<text x="62.3" y="96.6" font-size="15.6" text-anchor="end" textLength="39.5" lengthAdjust="spacingAndGlyphs" font-family="Liberation Sans, sans-serif" font-weight="bold">16.40</text>
<path d="M67 118.5h7M627 118.5h-7" stroke="#111" stroke-width="1.3"/>
<text x="62.3" y="124.2" font-size="15.6" text-anchor="end" textLength="39.5" lengthAdjust="spacingAndGlyphs" font-family="Liberation Sans, sans-serif" font-weight="bold">16.45</text>
<path d="M67 146.2h7M627 146.2h-7" stroke="#111" stroke-width="1.3"/>
<text x="62.3" y="151.9" font-size="15.6" text-anchor="end" textLength="39.5" lengthAdjust="spacingAndGlyphs" font-family="Liberation Sans, sans-serif" font-weight="bold">16.50</text>
<path d="M67 173.8h7M627 173.8h-7" stroke="#111" stroke-width="1.3"/>
<text x="62.3" y="179.5" font-size="15.6" text-anchor="end" textLength="39.5" lengthAdjust="spacingAndGlyphs" font-family="Liberation Sans, sans-serif" font-weight="bold">16.55</text>
<path d="M67 201.5h7M627 201.5h-7" stroke="#111" stroke-width="1.3"/>
<text x="62.3" y="207.2" font-size="15.6" text-anchor="end" textLength="39.5" lengthAdjust="spacingAndGlyphs" font-family="Liberation Sans, sans-serif" font-weight="bold">16.60</text>
<path d="M67 229.1h7M627 229.1h-7" stroke="#111" stroke-width="1.3"/>
<text x="62.3" y="234.8" font-size="15.6" text-anchor="end" textLength="39.5" lengthAdjust="spacingAndGlyphs" font-family="Liberation Sans, sans-serif" font-weight="bold">16.65</text>
<path d="M67 256.8h7M627 256.8h-7" stroke="#111" stroke-width="1.3"/>
<text x="62.3" y="262.5" font-size="15.6" text-anchor="end" textLength="39.5" lengthAdjust="spacingAndGlyphs" font-family="Liberation Sans, sans-serif" font-weight="bold">16.70</text>
<path d="M67 284.4h7M627 284.4h-7" stroke="#111" stroke-width="1.3"/>
<text x="62.3" y="290.1" font-size="15.6" text-anchor="end" textLength="39.5" lengthAdjust="spacingAndGlyphs" font-family="Liberation Sans, sans-serif" font-weight="bold">16.75</text>
<path d="M67 312.1h7M627 312.1h-7" stroke="#111" stroke-width="1.3"/>
<text x="62.3" y="317.8" font-size="15.6" text-anchor="end" textLength="39.5" lengthAdjust="spacingAndGlyphs" font-family="Liberation Sans, sans-serif" font-weight="bold">16.80</text>
<path d="M67 339.8h7M627 339.8h-7" stroke="#111" stroke-width="1.3"/>
<text x="62.3" y="345.4" font-size="15.6" text-anchor="end" textLength="39.5" lengthAdjust="spacingAndGlyphs" font-family="Liberation Sans, sans-serif" font-weight="bold">16.85</text>
<path d="M67 367.4h7M627 367.4h-7" stroke="#111" stroke-width="1.3"/>
<text x="62.3" y="373.1" font-size="15.6" text-anchor="end" textLength="39.5" lengthAdjust="spacingAndGlyphs" font-family="Liberation Sans, sans-serif" font-weight="bold">16.90</text>
<path d="M121.3 405v-7M121.3 4.8v7" stroke="#111" stroke-width="1.3"/>
<text x="121.3" y="423.0" font-size="15.6" text-anchor="middle" textLength="30.6" lengthAdjust="spacingAndGlyphs" font-family="Liberation Sans, sans-serif" font-weight="bold">0.00</text>
<path d="M166.6 405v-7M166.6 4.8v7" stroke="#111" stroke-width="1.3"/>
<text x="166.6" y="423.0" font-size="15.6" text-anchor="middle" textLength="30.6" lengthAdjust="spacingAndGlyphs" font-family="Liberation Sans, sans-serif" font-weight="bold">0.10</text>
<path d="M211.8 405v-7M211.8 4.8v7" stroke="#111" stroke-width="1.3"/>
<text x="211.8" y="423.0" font-size="15.6" text-anchor="middle" textLength="30.6" lengthAdjust="spacingAndGlyphs" font-family="Liberation Sans, sans-serif" font-weight="bold">0.20</text>
<path d="M257.0 405v-7M257.0 4.8v7" stroke="#111" stroke-width="1.3"/>
<text x="257.0" y="423.0" font-size="15.6" text-anchor="middle" textLength="30.6" lengthAdjust="spacingAndGlyphs" font-family="Liberation Sans, sans-serif" font-weight="bold">0.30</text>
<path d="M302.2 405v-7M302.2 4.8v7" stroke="#111" stroke-width="1.3"/>
<text x="302.2" y="423.0" font-size="15.6" text-anchor="middle" textLength="30.6" lengthAdjust="spacingAndGlyphs" font-family="Liberation Sans, sans-serif" font-weight="bold">0.40</text>
<path d="M347.4 405v-7M347.4 4.8v7" stroke="#111" stroke-width="1.3"/>
<text x="347.4" y="423.0" font-size="15.6" text-anchor="middle" textLength="30.6" lengthAdjust="spacingAndGlyphs" font-family="Liberation Sans, sans-serif" font-weight="bold">0.50</text>
<path d="M392.6 405v-7M392.6 4.8v7" stroke="#111" stroke-width="1.3"/>
<text x="392.6" y="423.0" font-size="15.6" text-anchor="middle" textLength="30.6" lengthAdjust="spacingAndGlyphs" font-family="Liberation Sans, sans-serif" font-weight="bold">0.60</text>
<path d="M437.8 405v-7M437.8 4.8v7" stroke="#111" stroke-width="1.3"/>
<text x="437.8" y="423.0" font-size="15.6" text-anchor="middle" textLength="30.6" lengthAdjust="spacingAndGlyphs" font-family="Liberation Sans, sans-serif" font-weight="bold">0.70</text>
<path d="M483.0 405v-7M483.0 4.8v7" stroke="#111" stroke-width="1.3"/>
<text x="483.0" y="423.0" font-size="15.6" text-anchor="middle" textLength="30.6" lengthAdjust="spacingAndGlyphs" font-family="Liberation Sans, sans-serif" font-weight="bold">0.80</text>
<path d="M528.2 405v-7M528.2 4.8v7" stroke="#111" stroke-width="1.3"/>
<text x="528.2" y="423.0" font-size="15.6" text-anchor="middle" textLength="30.6" lengthAdjust="spacingAndGlyphs" font-family="Liberation Sans, sans-serif" font-weight="bold">0.90</text>
<path d="M573.5 405v-7M573.5 4.8v7" stroke="#111" stroke-width="1.3"/>
<text x="573.5" y="423.0" font-size="15.6" text-anchor="middle" textLength="30.6" lengthAdjust="spacingAndGlyphs" font-family="Liberation Sans, sans-serif" font-weight="bold">1.00</text>

<g stroke="#000" stroke-width="0.5" font-size="23.8" font-family="Liberation Sans, sans-serif" font-weight="bold">
<text x="233.6" y="38.1" textLength="94.5" lengthAdjust="spacingAndGlyphs">(12390)</text>
<text x="336.6" y="38.1" textLength="61.5" lengthAdjust="spacingAndGlyphs">1994</text>
<text x="405.8" y="38.1" textLength="54" lengthAdjust="spacingAndGlyphs">WB1</text>
</g>
<text x="244.6" y="62.2" font-size="16.2" textLength="206" lengthAdjust="spacingAndGlyphs" font-family="Liberation Sans, sans-serif" font-weight="bold">Period: 2.4629 ± 0.0002 h</text>
<text x="81.6" y="390.2" font-size="16" textLength="83.5" lengthAdjust="spacingAndGlyphs" font-family="Liberation Sans, sans-serif" font-weight="bold">JDo(LTC):</text>
<text x="170.6" y="390.2" font-size="16" textLength="129.5" lengthAdjust="spacingAndGlyphs" font-family="Liberation Sans, sans-serif" font-weight="bold">2456422.754587</text>
<text transform="translate(14.8 203.9) rotate(-90)" x="0" y="0" font-size="14.5" text-anchor="middle" textLength="261" lengthAdjust="spacingAndGlyphs" font-family="Liberation Sans, sans-serif" font-weight="bold">Reduced Magnitude(V) alpha(30.4°)</text>

<rect x="405.4" y="266.4" width="80" height="128.5" fill="#000"/>
<rect x="402.6" y="263.6" width="80" height="128.5" fill="#fff" stroke="#555" stroke-width="1"/>
<text x="422.4" y="275.6" font-size="11.6" textLength="59.3" lengthAdjust="spacingAndGlyphs" font-family="Liberation Sans, sans-serif" font-weight="bold">Year: 2013</text>
<text x="422.8" y="289.5" font-size="11.4" font-family="Liberation Sans, sans-serif" font-weight="bold">1 - 05/10</text>
<circle cx="412.8" cy="285.5" r="3.9" fill="#800000" stroke="#000" stroke-width="0.7"/>
<text x="422.8" y="303.4" font-size="11.4" font-family="Liberation Sans, sans-serif" font-weight="bold">2 - 05/11</text>
<path d="M412.8 295.1L417.1 303.2L408.5 303.2Z" fill="#008000" stroke="#000" stroke-width="0.7"/>
<text x="422.8" y="317.2" font-size="11.4" font-family="Liberation Sans, sans-serif" font-weight="bold">3 - 05/12</text>
<path d="M412.8 317.5L417.1 309.4L408.5 309.4Z" fill="#000080" stroke="#000" stroke-width="0.7"/>
<text x="422.8" y="331.1" font-size="11.4" font-family="Liberation Sans, sans-serif" font-weight="bold">4 - 05/13</text>
<path d="M412.8 322.9L417.0 327.1L412.8 331.3L408.6 327.1Z" fill="#800080" stroke="#000" stroke-width="0.7"/>
<text x="422.8" y="345.0" font-size="11.4" font-family="Liberation Sans, sans-serif" font-weight="bold">5 - 05/14</text>
<path d="M407.9 341.0H417.7M412.8 336.1V345.9" stroke="#008080" stroke-width="2.2" fill="none"/>
<text x="422.8" y="358.9" font-size="11.4" font-family="Liberation Sans, sans-serif" font-weight="bold">6 - 05/15</text>
<rect x="409.4" y="351.5" width="6.8" height="6.8" fill="#808080" stroke="#000" stroke-width="1.9"/>
<text x="422.8" y="372.8" font-size="11.4" font-family="Liberation Sans, sans-serif" font-weight="bold">7 - 05/16</text>
<path d="M407.4 368.8L418.2 368.8M409.0 364.9L416.6 372.6M412.8 363.4L412.8 374.2M416.6 364.9L409.0 372.6" stroke="#ff0000" stroke-width="1.8" fill="none"/>
<text x="422.8" y="386.6" font-size="11.4" font-family="Liberation Sans, sans-serif" font-weight="bold">8 - 05/18</text>
<rect x="409.0" y="378.8" width="7.6" height="7.6" fill="#0000ff" stroke="#000" stroke-width="0.7"/>
<rect x="511.9" y="252.5" width="79.6" height="140.2" fill="#000"/>
<rect x="509.1" y="249.7" width="79.6" height="140.2" fill="#fff" stroke="#555" stroke-width="1"/>
<text x="528.2" y="261.5" font-size="11.6" textLength="59.3" lengthAdjust="spacingAndGlyphs" font-family="Liberation Sans, sans-serif" font-weight="bold">Year: 2013</text>
<text x="528.6" y="275.4" font-size="11.4" font-family="Liberation Sans, sans-serif" font-weight="bold">9 - 05/18</text>
<circle cx="519.0" cy="271.4" r="3.9" fill="#000000" stroke="#000" stroke-width="0.7"/>
<text x="528.6" y="289.3" font-size="11.4" font-family="Liberation Sans, sans-serif" font-weight="bold">10 - 05/19</text>
<path d="M519.0 281.0L523.3 289.1L514.7 289.1Z" fill="#800000" stroke="#000" stroke-width="0.7"/>
<text x="528.6" y="303.1" font-size="11.4" font-family="Liberation Sans, sans-serif" font-weight="bold">11 - 05/20</text>
<path d="M519.0 303.4L523.3 295.3L514.7 295.3Z" fill="#008000" stroke="#000" stroke-width="0.7"/>
<text x="528.6" y="317.0" font-size="11.4" font-family="Liberation Sans, sans-serif" font-weight="bold">12 - 05/21</text>
<path d="M519.0 308.8L523.2 313.0L519.0 317.2L514.8 313.0Z" fill="#000080" stroke="#000" stroke-width="0.7"/>
<text x="528.6" y="330.9" font-size="11.4" font-family="Liberation Sans, sans-serif" font-weight="bold">13 - 05/22</text>
<path d="M514.1 326.9H523.9M519.0 322.0V331.8" stroke="#800080" stroke-width="2.2" fill="none"/>
<text x="528.6" y="344.8" font-size="11.4" font-family="Liberation Sans, sans-serif" font-weight="bold">14 - 05/26</text>
<rect x="515.6" y="337.4" width="6.8" height="6.8" fill="#008080" stroke="#000" stroke-width="1.9"/>
<text x="528.6" y="358.7" font-size="11.4" font-family="Liberation Sans, sans-serif" font-weight="bold">15 - 05/27</text>
<path d="M513.6 354.7L524.4 354.7M515.2 350.8L522.8 358.5M519.0 349.3L519.0 360.1M522.8 350.8L515.2 358.5" stroke="#808080" stroke-width="1.8" fill="none"/>
<text x="528.6" y="372.5" font-size="11.4" font-family="Liberation Sans, sans-serif" font-weight="bold">16 - 06/03</text>
<rect x="515.2" y="364.7" width="7.6" height="7.6" fill="#ff0000" stroke="#000" stroke-width="0.7"/>
<text x="528.6" y="386.4" font-size="11.4" font-family="Liberation Sans, sans-serif" font-weight="bold">17 - 06/04</text>
<circle cx="519.0" cy="382.4" r="3.9" fill="#0000ff" stroke="#000" stroke-width="0.7"/>
</svg></body></html>
